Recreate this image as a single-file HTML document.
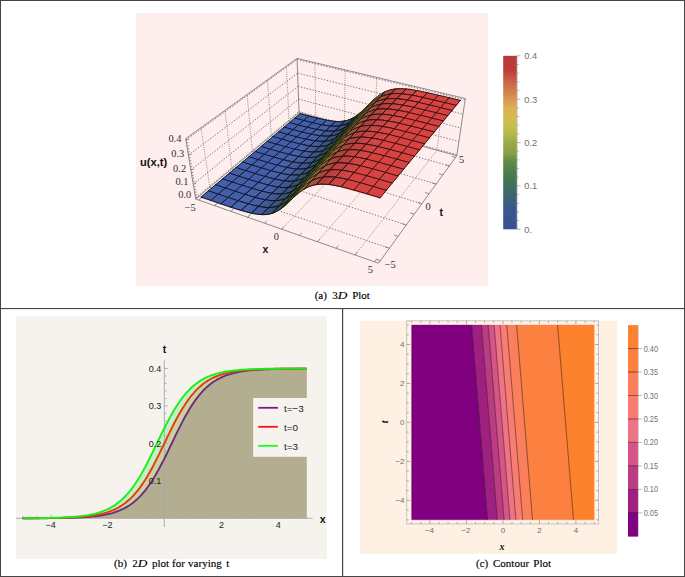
<!DOCTYPE html>
<html><head><meta charset="utf-8"><style>
html,body{margin:0;padding:0;background:#fff;width:685px;height:577px;overflow:hidden}
svg{display:block}
</style></head><body>
<svg width="685" height="577" viewBox="0 0 685 577">
<rect x="0" y="0" width="685" height="1" fill="#454545"/>
<rect x="0" y="576" width="685" height="1" fill="#454545"/>
<rect x="0" y="0" width="1" height="577" fill="#454545"/>
<rect x="684" y="0" width="1" height="577" fill="#454545"/>
<rect x="0" y="308" width="685" height="1.1" fill="#454545"/>
<rect x="342" y="308" width="1.2" height="269" fill="#454545"/>
<rect x="136" y="13" width="352" height="273" fill="#feeeee"/>
<g stroke="#686868" stroke-width="0.85" stroke-dasharray="1.4 1.6" fill="none"><line x1="195.6" y1="197.9" x2="299" y2="111.6"/><line x1="193.3" y1="184.1" x2="298.5" y2="99.1"/><line x1="190.9" y1="169.9" x2="298.1" y2="86.3"/><line x1="188.4" y1="155.2" x2="297.6" y2="73.1"/><line x1="185.9" y1="140" x2="297.1" y2="59.5"/><line x1="299" y1="111.6" x2="457" y2="154.7"/><line x1="298.5" y1="99.1" x2="458.9" y2="141.5"/><line x1="298.1" y1="86.3" x2="460.9" y2="128"/><line x1="297.6" y1="73.1" x2="463" y2="114.1"/><line x1="297.1" y1="59.5" x2="465.1" y2="99.7"/><line x1="214.7" y1="205.6" x2="315.7" y2="117.2"/><line x1="247.5" y1="217.2" x2="344.4" y2="125"/><line x1="209.8" y1="187.2" x2="389.4" y2="248.2"/><line x1="231.9" y1="168.7" x2="406.3" y2="225"/><line x1="252.4" y1="151.6" x2="421.8" y2="203.7"/><line x1="271.3" y1="135.8" x2="436.2" y2="184.1"/><line x1="289" y1="121" x2="449.4" y2="165.9"/></g>
<g stroke="#7a7a7a" stroke-width="0.8" stroke-dasharray="1 1.2" fill="none"><line x1="209.8" y1="187.2" x2="201.1" y2="127.6"/><line x1="231.9" y1="168.7" x2="225" y2="110.3"/><line x1="252.4" y1="151.6" x2="247.1" y2="94.4"/><line x1="271.3" y1="135.8" x2="267.5" y2="79.7"/><line x1="289" y1="121" x2="286.4" y2="66.1"/><line x1="315.7" y1="117.2" x2="314.8" y2="62.6"/><line x1="344.4" y1="125" x2="345.2" y2="69.8"/><line x1="374.1" y1="133.1" x2="376.9" y2="77.4"/><line x1="405" y1="141.5" x2="409.8" y2="85.2"/><line x1="437" y1="150.3" x2="444" y2="93.4"/><line x1="281.7" y1="229.2" x2="374.1" y2="133.1"/><line x1="317.5" y1="241.8" x2="405" y2="141.5"/><line x1="355.1" y1="255" x2="437" y2="150.3"/></g>
<g stroke="#7a7a7a" stroke-width="0.85" fill="none"><line x1="195.7" y1="199" x2="185.7" y2="138.7" /><line x1="185.7" y1="138.7" x2="297.1" y2="58.4" /><line x1="297.1" y1="58.4" x2="465.3" y2="98.5" /><line x1="465.3" y1="98.5" x2="456.8" y2="155.7" /><line x1="456.8" y1="155.7" x2="378.5" y2="263.2" /><line x1="378.5" y1="263.2" x2="195.7" y2="199" /><line x1="297.1" y1="58.4" x2="299" y2="112.6" /><line x1="299" y1="112.6" x2="456.8" y2="155.7" /><line x1="195.7" y1="199" x2="299" y2="112.6" /><line x1="195.6" y1="197.9" x2="198.6" y2="197"/><line x1="195.1" y1="195.2" x2="197" y2="194.6"/><line x1="194.6" y1="192.4" x2="196.5" y2="191.9"/><line x1="194.2" y1="189.7" x2="196.1" y2="189.1"/><line x1="193.7" y1="186.9" x2="195.6" y2="186.4"/><line x1="193.3" y1="184.1" x2="196.3" y2="183.2"/><line x1="192.8" y1="181.3" x2="194.7" y2="180.8"/><line x1="192.3" y1="178.5" x2="194.2" y2="177.9"/><line x1="191.8" y1="175.7" x2="193.7" y2="175.1"/><line x1="191.4" y1="172.8" x2="193.3" y2="172.2"/><line x1="190.9" y1="169.9" x2="193.9" y2="169"/><line x1="190.4" y1="167" x2="192.3" y2="166.4"/><line x1="189.9" y1="164.1" x2="191.8" y2="163.5"/><line x1="189.4" y1="161.1" x2="191.3" y2="160.6"/><line x1="188.9" y1="158.2" x2="190.8" y2="157.6"/><line x1="188.4" y1="155.2" x2="191.4" y2="154.3"/><line x1="187.9" y1="152.2" x2="189.8" y2="151.6"/><line x1="187.4" y1="149.2" x2="189.3" y2="148.6"/><line x1="186.9" y1="146.1" x2="188.8" y2="145.5"/><line x1="186.4" y1="143" x2="188.3" y2="142.5"/><line x1="185.9" y1="140" x2="188.9" y2="139.1"/><line x1="198.9" y1="200.1" x2="201.5" y2="197.8" /><line x1="380.3" y1="260.7" x2="376" y2="259.1" /><line x1="214.7" y1="205.6" x2="217.3" y2="203.4" /><line x1="389.4" y1="248.2" x2="385.1" y2="246.8" /><line x1="230.9" y1="211.3" x2="233.5" y2="209" /><line x1="398" y1="236.4" x2="393.8" y2="235" /><line x1="247.5" y1="217.2" x2="250" y2="214.8" /><line x1="406.3" y1="225" x2="402.2" y2="223.7" /><line x1="264.4" y1="223.1" x2="266.8" y2="220.7" /><line x1="414.2" y1="214.1" x2="410.2" y2="212.9" /><line x1="281.7" y1="229.2" x2="284.1" y2="226.7" /><line x1="421.8" y1="203.7" x2="417.9" y2="202.5" /><line x1="299.4" y1="235.4" x2="301.7" y2="232.9" /><line x1="429.1" y1="193.7" x2="425.2" y2="192.5" /><line x1="317.5" y1="241.8" x2="319.8" y2="239.2" /><line x1="436.2" y1="184.1" x2="432.3" y2="182.9" /><line x1="336.1" y1="248.3" x2="338.3" y2="245.6" /><line x1="442.9" y1="174.8" x2="439.1" y2="173.7" /><line x1="355.1" y1="255" x2="357.2" y2="252.3" /><line x1="449.4" y1="165.9" x2="445.6" y2="164.9" /><line x1="374.5" y1="261.8" x2="376.6" y2="259" /><line x1="455.6" y1="157.4" x2="451.9" y2="156.4" /></g>
<style>.sf path{fill:currentColor;stroke:currentColor;stroke-width:0.45} .sf path.m{fill:none;stroke-width:1.0}</style>
<g class="sf" stroke-linejoin="round" stroke-linecap="round"><path d="M201.1 197L208.4 190.8L215.6 184.7L222.6 178.8L229.5 173.1L236.1 167.5L242.6 162L249 156.7L255.2 151.5L261.3 146.4L267.2 141.4L273 136.5L278.6 131.8L284.2 127.1L289.6 122.5L294.9 118.1L300.1 113.7L326.6 120.2L321.6 124.8L316.5 129.4L311.2 134.2L305.9 139.1L300.5 144.1L294.9 149.2L289.2 154.4L283.3 159.7L277.3 165.1L271.2 170.7L264.9 176.4L258.5 182.3L251.9 188.3L245.1 194.4L238.1 200.7L231 207.2Z" color="#435eaa"/><path d="M201.1 197L300.1 113.7M210.9 200.4L308.8 116M220.9 203.8L317.6 118.2M231 207.2L326.6 120.2M201.1 197L210.9 200.4L220.9 203.8L231 207.2M208.4 190.8L218.2 194.1L228.1 197.4L238.1 200.7M215.6 184.7L225.3 188L235.1 191.2L245.1 194.4M222.6 178.8L232.2 182L242 185.2L251.9 188.3M229.5 173.1L239 176.2L248.7 179.3L258.5 182.3M236.1 167.5L245.6 170.5L255.2 173.5L264.9 176.4M242.6 162L252 165L261.6 167.9L271.2 170.7M249 156.7L258.3 159.6L267.8 162.4L277.3 165.1M255.2 151.5L264.5 154.3L273.8 157L283.3 159.7M261.3 146.4L270.4 149.1L279.7 151.8L289.2 154.4M267.2 141.4L276.3 144.1L285.5 146.7L294.9 149.2M273 136.5L282 139.1L291.2 141.7L300.5 144.1M278.6 131.8L287.6 134.3L296.7 136.8L305.9 139.1M284.2 127.1L293.1 129.6L302.1 132L311.2 134.2M289.6 122.5L298.5 125L307.4 127.3L316.5 129.4M294.9 118.1L303.7 120.4L312.6 122.7L321.6 124.8M300.1 113.7L308.8 116L317.6 118.2L326.6 120.2" class="m" color="#0f1525"/><path d="M321.6 124.8L323.4 125.1L328.4 120.5L326.6 120.2Z" color="#3f5aa2"/><path d="M326.6 120.2L321.6 124.8M321.6 124.8L323.4 125.1M328.4 120.5L326.6 120.2" class="m" color="#0e1424"/><path d="M323.4 125.1L325.2 125.4L330.2 120.8L328.4 120.5Z" color="#3f59a0"/><path d="M323.4 125.1L325.2 125.4M330.2 120.8L328.4 120.5" class="m" color="#0e1423"/><path d="M325.2 125.4L327 125.7L332 121L330.2 120.8Z" color="#3e589d"/><path d="M325.2 125.4L327 125.7M332 121L330.2 120.8" class="m" color="#0e1323"/><path d="M327 125.7L328.8 125.9L333.8 121.3L332 121Z" color="#3d569b"/><path d="M327 125.7L328.8 125.9M333.8 121.3L332 121" class="m" color="#0d1322"/><path d="M328.8 125.9L330.7 126.1L335.6 121.4L333.8 121.3Z" color="#3b5597"/><path d="M330.7 126.1L335.6 121.4M328.8 125.9L330.7 126.1M335.6 121.4L333.8 121.3" class="m" color="#0d1321"/><path d="M330.7 126.1L332.5 126.3L337.4 121.5L335.6 121.4Z" color="#3a5394"/><path d="M335.6 121.4L330.7 126.1M330.7 126.1L332.5 126.3M337.4 121.5L335.6 121.4" class="m" color="#0d1220"/><path d="M332.5 126.3L334.3 126.3L339.3 121.5L337.4 121.5Z" color="#38518f"/><path d="M332.5 126.3L334.3 126.3M339.3 121.5L337.4 121.5" class="m" color="#0c1220"/><path d="M334.3 126.3L336.2 126.3L341.1 121.4L339.3 121.5Z" color="#374f8a"/><path d="M334.3 126.3L336.2 126.3M341.1 121.4L339.3 121.5" class="m" color="#0c111e"/><path d="M316.5 129.4L318.3 129.8L323.4 125.1L321.6 124.8Z" color="#405aa3"/><path d="M321.6 124.8L316.5 129.4M316.5 129.4L318.3 129.8M323.4 125.1L321.6 124.8" class="m" color="#0e1424"/><path d="M318.3 129.8L320.1 130.1L325.2 125.4L323.4 125.1Z" color="#3f59a1"/><path d="M318.3 129.8L320.1 130.1M325.2 125.4L323.4 125.1" class="m" color="#0e1423"/><path d="M336.2 126.3L338.1 126.1L342.9 121.2L341.1 121.4Z" color="#354d84"/><path d="M336.2 126.3L338.1 126.1M342.9 121.2L341.1 121.4" class="m" color="#0c111d"/><path d="M320.1 130.1L322 130.4L327 125.7L325.2 125.4Z" color="#3e589f"/><path d="M320.1 130.1L322 130.4M327 125.7L325.2 125.4" class="m" color="#0e1323"/><path d="M338.1 126.1L339.9 125.9L344.8 120.9L342.9 121.2Z" color="#334b7e"/><path d="M339.9 125.9L344.8 120.9M338.1 126.1L339.9 125.9M344.8 120.9L342.9 121.2" class="m" color="#0b111c"/><path d="M322 130.4L323.8 130.7L328.8 125.9L327 125.7Z" color="#3d579c"/><path d="M322 130.4L323.8 130.7M328.8 125.9L327 125.7" class="m" color="#0d1322"/><path d="M339.9 125.9L341.8 125.5L346.7 120.5L344.8 120.9Z" color="#314977"/><path d="M344.8 120.9L339.9 125.9M339.9 125.9L341.8 125.5M346.7 120.5L344.8 120.9" class="m" color="#0b101a"/><path d="M323.8 130.7L325.6 130.9L330.7 126.1L328.8 125.9Z" color="#3c5599"/><path d="M325.6 130.9L330.7 126.1M323.8 130.7L325.6 130.9M330.7 126.1L328.8 125.9" class="m" color="#0d1322"/><path d="M325.6 130.9L327.5 131.1L332.5 126.3L330.7 126.1Z" color="#3b5495"/><path d="M330.7 126.1L325.6 130.9M325.6 130.9L327.5 131.1M332.5 126.3L330.7 126.1" class="m" color="#0d1221"/><path d="M341.8 125.5L343.7 125L348.5 119.9L346.7 120.5Z" color="#2f486f"/><path d="M341.8 125.5L343.7 125M348.5 119.9L346.7 120.5" class="m" color="#0a1018"/><path d="M327.5 131.1L329.3 131.2L334.3 126.3L332.5 126.3Z" color="#395291"/><path d="M327.5 131.1L329.3 131.2M334.3 126.3L332.5 126.3" class="m" color="#0d1220"/><path d="M343.7 125L345.6 124.4L350.4 119.2L348.5 119.9Z" color="#2d4664"/><path d="M343.7 125L345.6 124.4M350.4 119.2L348.5 119.9" class="m" color="#0a0f16"/><path d="M329.3 131.2L331.2 131.2L336.2 126.3L334.3 126.3Z" color="#37508c"/><path d="M329.3 131.2L331.2 131.2M336.2 126.3L334.3 126.3" class="m" color="#0c121f"/><path d="M311.2 134.2L313.1 134.6L318.3 129.8L316.5 129.4Z" color="#405aa3"/><path d="M316.5 129.4L311.2 134.2M311.2 134.2L313.1 134.6M318.3 129.8L316.5 129.4" class="m" color="#0e1424"/><path d="M313.1 134.6L314.9 135L320.1 130.1L318.3 129.8Z" color="#3f5aa2"/><path d="M313.1 134.6L314.9 135M320.1 130.1L318.3 129.8" class="m" color="#0e1424"/><path d="M331.2 131.2L333.1 131.1L338.1 126.1L336.2 126.3Z" color="#364e87"/><path d="M331.2 131.2L333.1 131.1M338.1 126.1L336.2 126.3" class="m" color="#0c111e"/><path d="M345.6 124.4L347.5 123.5L352.3 118.3L350.4 119.2Z" color="#2c4659"/><path d="M345.6 124.4L347.5 123.5M352.3 118.3L350.4 119.2" class="m" color="#0a0f14"/><path d="M314.9 135L316.8 135.3L322 130.4L320.1 130.1Z" color="#3e59a0"/><path d="M314.9 135L316.8 135.3M322 130.4L320.1 130.1" class="m" color="#0e1323"/><path d="M333.1 131.1L334.9 131L339.9 125.9L338.1 126.1Z" color="#344c81"/><path d="M334.9 131L339.9 125.9M333.1 131.1L334.9 131M339.9 125.9L338.1 126.1" class="m" color="#0b111c"/><path d="M316.8 135.3L318.6 135.6L323.8 130.7L322 130.4Z" color="#3e579d"/><path d="M316.8 135.3L318.6 135.6M323.8 130.7L322 130.4" class="m" color="#0e1323"/><path d="M347.5 123.5L349.4 122.5L354.2 117.2L352.3 118.3Z" color="#2a464e"/><path d="M349.4 122.5L354.2 117.2M347.5 123.5L349.4 122.5M354.2 117.2L352.3 118.3" class="m" color="#090f11"/><path d="M334.9 131L336.8 130.7L341.8 125.5L339.9 125.9Z" color="#324a7a"/><path d="M339.9 125.9L334.9 131M334.9 131L336.8 130.7M341.8 125.5L339.9 125.9" class="m" color="#0b101b"/><path d="M318.6 135.6L320.5 135.8L325.6 130.9L323.8 130.7Z" color="#3c569a"/><path d="M320.5 135.8L325.6 130.9M318.6 135.6L320.5 135.8M325.6 130.9L323.8 130.7" class="m" color="#0d1322"/><path d="M349.4 122.5L351.3 121.3L356.2 115.9L354.2 117.2Z" color="#294742"/><path d="M354.2 117.2L349.4 122.5M349.4 122.5L351.3 121.3M356.2 115.9L354.2 117.2" class="m" color="#09100f"/><path d="M320.5 135.8L322.3 136L327.5 131.1L325.6 130.9Z" color="#3b5597"/><path d="M325.6 130.9L320.5 135.8M320.5 135.8L322.3 136M327.5 131.1L325.6 130.9" class="m" color="#0d1321"/><path d="M336.8 130.7L338.7 130.2L343.7 125L341.8 125.5Z" color="#304873"/><path d="M336.8 130.7L338.7 130.2M343.7 125L341.8 125.5" class="m" color="#0a1019"/><path d="M322.3 136L324.2 136.2L329.3 131.2L327.5 131.1Z" color="#3a5393"/><path d="M322.3 136L324.2 136.2M329.3 131.2L327.5 131.1" class="m" color="#0d1220"/><path d="M338.7 130.2L340.6 129.6L345.6 124.4L343.7 125Z" color="#2e4769"/><path d="M338.7 130.2L340.6 129.6M345.6 124.4L343.7 125" class="m" color="#0a1017"/><path d="M351.3 121.3L353.3 119.9L358.1 114.4L356.2 115.9Z" color="#294838"/><path d="M351.3 121.3L353.3 119.9M358.1 114.4L356.2 115.9" class="m" color="#09100c"/><path d="M305.9 139.1L307.8 139.5L313.1 134.6L311.2 134.2Z" color="#405ba4"/><path d="M311.2 134.2L305.9 139.1M305.9 139.1L307.8 139.5M313.1 134.6L311.2 134.2" class="m" color="#0e1424"/><path d="M324.2 136.2L326.1 136.2L331.2 131.2L329.3 131.2Z" color="#38518f"/><path d="M324.2 136.2L326.1 136.2M331.2 131.2L329.3 131.2" class="m" color="#0c121f"/><path d="M307.8 139.5L309.6 139.9L314.9 135L313.1 134.6Z" color="#405aa2"/><path d="M307.8 139.5L309.6 139.9M314.9 135L313.1 134.6" class="m" color="#0e1424"/><path d="M326.1 136.2L328 136.2L333.1 131.1L331.2 131.2Z" color="#364f89"/><path d="M326.1 136.2L328 136.2M333.1 131.1L331.2 131.2" class="m" color="#0c111e"/><path d="M340.6 129.6L342.5 128.9L347.5 123.5L345.6 124.4Z" color="#2c465e"/><path d="M340.6 129.6L342.5 128.9M347.5 123.5L345.6 124.4" class="m" color="#0a0f15"/><path d="M353.3 119.9L355.3 118.4L360.1 112.8L358.1 114.4Z" color="#2b4930"/><path d="M353.3 119.9L355.3 118.4M360.1 112.8L358.1 114.4" class="m" color="#09100b"/><path d="M309.6 139.9L311.5 140.2L316.8 135.3L314.9 135Z" color="#3f59a1"/><path d="M309.6 139.9L311.5 140.2M316.8 135.3L314.9 135" class="m" color="#0e1423"/><path d="M328 136.2L329.8 136.1L334.9 131L333.1 131.1Z" color="#354d83"/><path d="M329.8 136.1L334.9 131M328 136.2L329.8 136.1M334.9 131L333.1 131.1" class="m" color="#0c111d"/><path d="M311.5 140.2L313.3 140.6L318.6 135.6L316.8 135.3Z" color="#3e589e"/><path d="M311.5 140.2L313.3 140.6M318.6 135.6L316.8 135.3" class="m" color="#0e1323"/><path d="M342.5 128.9L344.4 128L349.4 122.5L347.5 123.5Z" color="#2b4653"/><path d="M344.4 128L349.4 122.5M342.5 128.9L344.4 128M349.4 122.5L347.5 123.5" class="m" color="#090f12"/><path d="M329.8 136.1L331.7 135.9L336.8 130.7L334.9 131Z" color="#334b7d"/><path d="M334.9 131L329.8 136.1M329.8 136.1L331.7 135.9M336.8 130.7L334.9 131" class="m" color="#0b111c"/><path d="M313.3 140.6L315.2 140.9L320.5 135.8L318.6 135.6Z" color="#3d579c"/><path d="M315.2 140.9L320.5 135.8M313.3 140.6L315.2 140.9M320.5 135.8L318.6 135.6" class="m" color="#0d1322"/><path d="M355.3 118.4L357.2 116.7L362.1 111L360.1 112.8Z" color="#304c2b"/><path d="M355.3 118.4L357.2 116.7M362.1 111L360.1 112.8" class="m" color="#0b110a"/><path d="M344.4 128L346.4 126.8L351.3 121.3L349.4 122.5Z" color="#2a4647"/><path d="M349.4 122.5L344.4 128M344.4 128L346.4 126.8M351.3 121.3L349.4 122.5" class="m" color="#090f10"/><path d="M315.2 140.9L317.1 141.1L322.3 136L320.5 135.8Z" color="#3c5599"/><path d="M320.5 135.8L315.2 140.9M315.2 140.9L317.1 141.1M322.3 136L320.5 135.8" class="m" color="#0d1322"/><path d="M331.7 135.9L333.6 135.5L338.7 130.2L336.8 130.7Z" color="#314976"/><path d="M331.7 135.9L333.6 135.5M338.7 130.2L336.8 130.7" class="m" color="#0b101a"/><path d="M317.1 141.1L319 141.3L324.2 136.2L322.3 136Z" color="#3a5495"/><path d="M317.1 141.1L319 141.3M324.2 136.2L322.3 136" class="m" color="#0d1221"/><path d="M357.2 116.7L359.2 114.8L364.1 109.1L362.1 111Z" color="#395028"/><path d="M359.2 114.8L364.1 109.1M357.2 116.7L359.2 114.8M364.1 109.1L362.1 111" class="m" color="#0c1209"/><path d="M333.6 135.5L335.5 135L340.6 129.6L338.7 130.2Z" color="#2f476e"/><path d="M333.6 135.5L335.5 135M340.6 129.6L338.7 130.2" class="m" color="#0a1018"/><path d="M346.4 126.8L348.3 125.5L353.3 119.9L351.3 121.3Z" color="#29473c"/><path d="M346.4 126.8L348.3 125.5M353.3 119.9L351.3 121.3" class="m" color="#09100d"/><path d="M300.5 144.1L302.3 144.5L307.8 139.5L305.9 139.1Z" color="#405ba5"/><path d="M305.9 139.1L300.5 144.1M300.5 144.1L302.3 144.5M307.8 139.5L305.9 139.1" class="m" color="#0e1424"/><path d="M319 141.3L320.8 141.4L326.1 136.2L324.2 136.2Z" color="#395291"/><path d="M319 141.3L320.8 141.4M326.1 136.2L324.2 136.2" class="m" color="#0d1220"/><path d="M302.3 144.5L304.2 144.9L309.6 139.9L307.8 139.5Z" color="#405aa3"/><path d="M302.3 144.5L304.2 144.9M309.6 139.9L307.8 139.5" class="m" color="#0e1424"/><path d="M335.5 135L337.5 134.3L342.5 128.9L340.6 129.6Z" color="#2d4663"/><path d="M335.5 135L337.5 134.3M342.5 128.9L340.6 129.6" class="m" color="#0a0f16"/><path d="M320.8 141.4L322.7 141.4L328 136.2L326.1 136.2Z" color="#37508c"/><path d="M320.8 141.4L322.7 141.4M328 136.2L326.1 136.2" class="m" color="#0c121f"/><path d="M359.2 114.8L361.3 112.8L366.1 107.1L364.1 109.1Z" color="#4b5827"/><path d="M364.1 109.1L359.2 114.8M359.2 114.8L361.3 112.8M366.1 107.1L364.1 109.1" class="m" color="#111309"/><path d="M348.3 125.5L350.3 124.1L355.3 118.4L353.3 119.9Z" color="#2a4933"/><path d="M348.3 125.5L350.3 124.1M355.3 118.4L353.3 119.9" class="m" color="#09100b"/><path d="M304.2 144.9L306.1 145.3L311.5 140.2L309.6 139.9Z" color="#3f59a1"/><path d="M304.2 144.9L306.1 145.3M311.5 140.2L309.6 139.9" class="m" color="#0e1424"/><path d="M322.7 141.4L324.6 141.3L329.8 136.1L328 136.2Z" color="#354e86"/><path d="M324.6 141.3L329.8 136.1M322.7 141.4L324.6 141.3M329.8 136.1L328 136.2" class="m" color="#0c111e"/><path d="M337.5 134.3L339.4 133.5L344.4 128L342.5 128.9Z" color="#2c4658"/><path d="M339.4 133.5L344.4 128M337.5 134.3L339.4 133.5M344.4 128L342.5 128.9" class="m" color="#0a0f13"/><path d="M306.1 145.3L307.9 145.6L313.3 140.6L311.5 140.2Z" color="#3e589f"/><path d="M306.1 145.3L307.9 145.6M313.3 140.6L311.5 140.2" class="m" color="#0e1323"/><path d="M324.6 141.3L326.5 141.2L331.7 135.9L329.8 136.1Z" color="#344c80"/><path d="M329.8 136.1L324.6 141.3M324.6 141.3L326.5 141.2M331.7 135.9L329.8 136.1" class="m" color="#0b111c"/><path d="M307.9 145.6L309.8 146L315.2 140.9L313.3 140.6Z" color="#3d579d"/><path d="M309.8 146L315.2 140.9M307.9 145.6L309.8 146M315.2 140.9L313.3 140.6" class="m" color="#0e1323"/><path d="M361.3 112.8L363.3 110.8L368.2 105L366.1 107.1Z" color="#545d28"/><path d="M361.3 112.8L363.3 110.8M368.2 105L366.1 107.1" class="m" color="#121409"/><path d="M350.3 124.1L352.3 122.4L357.2 116.7L355.3 118.4Z" color="#2d4a2d"/><path d="M350.3 124.1L352.3 122.4M357.2 116.7L355.3 118.4" class="m" color="#0a100a"/><path d="M339.4 133.5L341.3 132.5L346.4 126.8L344.4 128Z" color="#2a464d"/><path d="M344.4 128L339.4 133.5M339.4 133.5L341.3 132.5M346.4 126.8L344.4 128" class="m" color="#090f11"/><path d="M309.8 146L311.7 146.2L317.1 141.1L315.2 140.9Z" color="#3c569a"/><path d="M315.2 140.9L309.8 146M309.8 146L311.7 146.2M317.1 141.1L315.2 140.9" class="m" color="#0d1322"/><path d="M326.5 141.2L328.4 140.9L333.6 135.5L331.7 135.9Z" color="#324a79"/><path d="M326.5 141.2L328.4 140.9M333.6 135.5L331.7 135.9" class="m" color="#0b101b"/><path d="M311.7 146.2L313.6 146.4L319 141.3L317.1 141.1Z" color="#3b5497"/><path d="M311.7 146.2L313.6 146.4M319 141.3L317.1 141.1" class="m" color="#0d1321"/><path d="M352.3 122.4L354.3 120.6L359.2 114.8L357.2 116.7Z" color="#354e2a"/><path d="M354.3 120.6L359.2 114.8M352.3 122.4L354.3 120.6M359.2 114.8L357.2 116.7" class="m" color="#0c1109"/><path d="M363.3 110.8L365.4 108.7L370.2 103L368.2 105Z" color="#5f6429"/><path d="M363.3 110.8L365.4 108.7M370.2 103L368.2 105" class="m" color="#151609"/><path d="M328.4 140.9L330.4 140.4L335.5 135L333.6 135.5Z" color="#2f4873"/><path d="M328.4 140.9L330.4 140.4M335.5 135L333.6 135.5" class="m" color="#0a1019"/><path d="M341.3 132.5L343.3 131.2L348.3 125.5L346.4 126.8Z" color="#294741"/><path d="M341.3 132.5L343.3 131.2M348.3 125.5L346.4 126.8" class="m" color="#09100e"/><path d="M294.9 149.2L296.7 149.6L302.3 144.5L300.5 144.1Z" color="#415ba5"/><path d="M300.5 144.1L294.9 149.2M294.9 149.2L296.7 149.6M302.3 144.5L300.5 144.1" class="m" color="#0e1424"/><path d="M313.6 146.4L315.5 146.6L320.8 141.4L319 141.3Z" color="#3a5393"/><path d="M313.6 146.4L315.5 146.6M320.8 141.4L319 141.3" class="m" color="#0d1220"/><path d="M296.7 149.6L298.6 150L304.2 144.9L302.3 144.5Z" color="#405ba4"/><path d="M296.7 149.6L298.6 150M304.2 144.9L302.3 144.5" class="m" color="#0e1424"/><path d="M330.4 140.4L332.3 139.8L337.5 134.3L335.5 135Z" color="#2e4768"/><path d="M330.4 140.4L332.3 139.8M337.5 134.3L335.5 135" class="m" color="#0a1017"/><path d="M315.5 146.6L317.4 146.7L322.7 141.4L320.8 141.4Z" color="#38518e"/><path d="M315.5 146.6L317.4 146.7M322.7 141.4L320.8 141.4" class="m" color="#0c121f"/><path d="M354.3 120.6L356.3 118.7L361.3 112.8L359.2 114.8Z" color="#425428"/><path d="M359.2 114.8L354.3 120.6M354.3 120.6L356.3 118.7M361.3 112.8L359.2 114.8" class="m" color="#0f1209"/><path d="M365.4 108.7L367.5 106.7L372.3 101L370.2 103Z" color="#6c6a2c"/><path d="M365.4 108.7L367.5 106.7M372.3 101L370.2 103" class="m" color="#18170a"/><path d="M343.3 131.2L345.3 129.8L350.3 124.1L348.3 125.5Z" color="#294837"/><path d="M343.3 131.2L345.3 129.8M350.3 124.1L348.3 125.5" class="m" color="#09100c"/><path d="M298.6 150L300.5 150.5L306.1 145.3L304.2 144.9Z" color="#3f5aa2"/><path d="M298.6 150L300.5 150.5M306.1 145.3L304.2 144.9" class="m" color="#0e1424"/><path d="M317.4 146.7L319.3 146.7L324.6 141.3L322.7 141.4Z" color="#364f89"/><path d="M319.3 146.7L324.6 141.3M317.4 146.7L319.3 146.7M324.6 141.3L322.7 141.4" class="m" color="#0c111e"/><path d="M332.3 139.8L334.2 139.1L339.4 133.5L337.5 134.3Z" color="#2c465d"/><path d="M334.2 139.1L339.4 133.5M332.3 139.8L334.2 139.1M339.4 133.5L337.5 134.3" class="m" color="#0a0f14"/><path d="M300.5 150.5L302.4 150.8L307.9 145.6L306.1 145.3Z" color="#3f59a0"/><path d="M300.5 150.5L302.4 150.8M307.9 145.6L306.1 145.3" class="m" color="#0e1423"/><path d="M319.3 146.7L321.2 146.5L326.5 141.2L324.6 141.3Z" color="#344d83"/><path d="M324.6 141.3L319.3 146.7M319.3 146.7L321.2 146.5M326.5 141.2L324.6 141.3" class="m" color="#0c111d"/><path d="M345.3 129.8L347.3 128.2L352.3 122.4L350.3 124.1Z" color="#2b4930"/><path d="M345.3 129.8L347.3 128.2M352.3 122.4L350.3 124.1" class="m" color="#0a100a"/><path d="M367.5 106.7L369.5 104.8L374.4 99.1L372.3 101Z" color="#786c2e"/><path d="M369.5 104.8L374.4 99.1M367.5 106.7L369.5 104.8M374.4 99.1L372.3 101" class="m" color="#1a180a"/><path d="M302.4 150.8L304.3 151.2L309.8 146L307.9 145.6Z" color="#3e589e"/><path d="M304.3 151.2L309.8 146M302.4 150.8L304.3 151.2M309.8 146L307.9 145.6" class="m" color="#0e1323"/><path d="M356.3 118.7L358.4 116.7L363.3 110.8L361.3 112.8Z" color="#515b27"/><path d="M356.3 118.7L358.4 116.7M363.3 110.8L361.3 112.8" class="m" color="#121409"/><path d="M334.2 139.1L336.2 138.1L341.3 132.5L339.4 133.5Z" color="#2b4652"/><path d="M339.4 133.5L334.2 139.1M334.2 139.1L336.2 138.1M341.3 132.5L339.4 133.5" class="m" color="#090f12"/><path d="M304.3 151.2L306.2 151.5L311.7 146.2L309.8 146Z" color="#3d579b"/><path d="M309.8 146L304.3 151.2M304.3 151.2L306.2 151.5M311.7 146.2L309.8 146" class="m" color="#0d1322"/><path d="M321.2 146.5L323.1 146.3L328.4 140.9L326.5 141.2Z" color="#324b7c"/><path d="M321.2 146.5L323.1 146.3M328.4 140.9L326.5 141.2" class="m" color="#0b101b"/><path d="M306.2 151.5L308.1 151.7L313.6 146.4L311.7 146.2Z" color="#3c5598"/><path d="M306.2 151.5L308.1 151.7M313.6 146.4L311.7 146.2" class="m" color="#0d1321"/><path d="M369.5 104.8L371.6 102.9L376.5 97.3L374.4 99.1Z" color="#816c31"/><path d="M374.4 99.1L369.5 104.8M369.5 104.8L371.6 102.9M376.5 97.3L374.4 99.1" class="m" color="#1c180b"/><path d="M347.3 128.2L349.3 126.5L354.3 120.6L352.3 122.4Z" color="#314c2b"/><path d="M349.3 126.5L354.3 120.6M347.3 128.2L349.3 126.5M354.3 120.6L352.3 122.4" class="m" color="#0b1109"/><path d="M358.4 116.7L360.4 114.6L365.4 108.7L363.3 110.8Z" color="#596028"/><path d="M358.4 116.7L360.4 114.6M365.4 108.7L363.3 110.8" class="m" color="#141509"/><path d="M336.2 138.1L338.1 137L343.3 131.2L341.3 132.5Z" color="#2a4646"/><path d="M336.2 138.1L338.1 137M343.3 131.2L341.3 132.5" class="m" color="#090f0f"/><path d="M323.1 146.3L325.1 146L330.4 140.4L328.4 140.9Z" color="#304976"/><path d="M323.1 146.3L325.1 146M330.4 140.4L328.4 140.9" class="m" color="#0b101a"/><path d="M289.2 154.4L291 154.8L296.7 149.6L294.9 149.2Z" color="#415ba6"/><path d="M294.9 149.2L289.2 154.4M289.2 154.4L291 154.8M296.7 149.6L294.9 149.2" class="m" color="#0e1424"/><path d="M308.1 151.7L310 151.9L315.5 146.6L313.6 146.4Z" color="#3a5395"/><path d="M308.1 151.7L310 151.9M315.5 146.6L313.6 146.4" class="m" color="#0d1221"/><path d="M291 154.8L292.9 155.3L298.6 150L296.7 149.6Z" color="#405ba5"/><path d="M291 154.8L292.9 155.3M298.6 150L296.7 149.6" class="m" color="#0e1424"/><path d="M325.1 146L327 145.4L332.3 139.8L330.4 140.4Z" color="#2f476d"/><path d="M325.1 146L327 145.4M332.3 139.8L330.4 140.4" class="m" color="#0a1018"/><path d="M371.6 102.9L373.7 101.2L378.6 95.7L376.5 97.3Z" color="#876934"/><path d="M371.6 102.9L373.7 101.2M378.6 95.7L376.5 97.3" class="m" color="#1e170b"/><path d="M310 151.9L311.9 152.1L317.4 146.7L315.5 146.6Z" color="#395290"/><path d="M310 151.9L311.9 152.1M317.4 146.7L315.5 146.6" class="m" color="#0c1220"/><path d="M349.3 126.5L351.3 124.6L356.3 118.7L354.3 120.6Z" color="#3a5028"/><path d="M354.3 120.6L349.3 126.5M349.3 126.5L351.3 124.6M356.3 118.7L354.3 120.6" class="m" color="#0d1209"/><path d="M338.1 137L340.1 135.7L345.3 129.8L343.3 131.2Z" color="#29473b"/><path d="M338.1 137L340.1 135.7M345.3 129.8L343.3 131.2" class="m" color="#09100d"/><path d="M360.4 114.6L362.5 112.6L367.5 106.7L365.4 108.7Z" color="#67682a"/><path d="M360.4 114.6L362.5 112.6M367.5 106.7L365.4 108.7" class="m" color="#171709"/><path d="M292.9 155.3L294.8 155.7L300.5 150.5L298.6 150Z" color="#405aa3"/><path d="M292.9 155.3L294.8 155.7M300.5 150.5L298.6 150" class="m" color="#0e1424"/><path d="M311.9 152.1L313.9 152.1L319.3 146.7L317.4 146.7Z" color="#37508b"/><path d="M313.9 152.1L319.3 146.7M311.9 152.1L313.9 152.1M319.3 146.7L317.4 146.7" class="m" color="#0c121f"/><path d="M327 145.4L328.9 144.8L334.2 139.1L332.3 139.8Z" color="#2d4662"/><path d="M328.9 144.8L334.2 139.1M327 145.4L328.9 144.8M334.2 139.1L332.3 139.8" class="m" color="#0a0f16"/><path d="M294.8 155.7L296.8 156.1L302.4 150.8L300.5 150.5Z" color="#3f59a1"/><path d="M294.8 155.7L296.8 156.1M302.4 150.8L300.5 150.5" class="m" color="#0e1423"/><path d="M373.7 101.2L375.9 99.7L380.7 94.3L378.6 95.7Z" color="#8a6234"/><path d="M373.7 101.2L375.9 99.7M380.7 94.3L378.6 95.7" class="m" color="#1e150b"/><path d="M313.9 152.1L315.8 152L321.2 146.5L319.3 146.7Z" color="#354e86"/><path d="M319.3 146.7L313.9 152.1M313.9 152.1L315.8 152M321.2 146.5L319.3 146.7" class="m" color="#0c111d"/><path d="M340.1 135.7L342.1 134.2L347.3 128.2L345.3 129.8Z" color="#2a4932"/><path d="M340.1 135.7L342.1 134.2M347.3 128.2L345.3 129.8" class="m" color="#09100b"/><path d="M296.8 156.1L298.7 156.5L304.3 151.2L302.4 150.8Z" color="#3e589f"/><path d="M298.7 156.5L304.3 151.2M296.8 156.1L298.7 156.5M304.3 151.2L302.4 150.8" class="m" color="#0e1323"/><path d="M351.3 124.6L353.3 122.6L358.4 116.7L356.3 118.7Z" color="#4d5927"/><path d="M351.3 124.6L353.3 122.6M358.4 116.7L356.3 118.7" class="m" color="#111409"/><path d="M362.5 112.6L364.6 110.6L369.5 104.8L367.5 106.7Z" color="#736c2e"/><path d="M364.6 110.6L369.5 104.8M362.5 112.6L364.6 110.6M369.5 104.8L367.5 106.7" class="m" color="#19180a"/><path d="M328.9 144.8L330.9 143.9L336.2 138.1L334.2 139.1Z" color="#2b4657"/><path d="M334.2 139.1L328.9 144.8M328.9 144.8L330.9 143.9M336.2 138.1L334.2 139.1" class="m" color="#0a0f13"/><path d="M298.7 156.5L300.6 156.8L306.2 151.5L304.3 151.2Z" color="#3d579d"/><path d="M304.3 151.2L298.7 156.5M298.7 156.5L300.6 156.8M306.2 151.5L304.3 151.2" class="m" color="#0e1322"/><path d="M375.9 99.7L378 98.3L382.8 93L380.7 94.3Z" color="#8e5a34"/><path d="M375.9 99.7L378 98.3M382.8 93L380.7 94.3" class="m" color="#1f140b"/><path d="M315.8 152L317.7 151.9L323.1 146.3L321.2 146.5Z" color="#334c7f"/><path d="M315.8 152L317.7 151.9M323.1 146.3L321.2 146.5" class="m" color="#0b111c"/><path d="M300.6 156.8L302.5 157.1L308.1 151.7L306.2 151.5Z" color="#3c569a"/><path d="M300.6 156.8L302.5 157.1M308.1 151.7L306.2 151.5" class="m" color="#0d1322"/><path d="M342.1 134.2L344.1 132.5L349.3 126.5L347.3 128.2Z" color="#2d4b2c"/><path d="M344.1 132.5L349.3 126.5M342.1 134.2L344.1 132.5M349.3 126.5L347.3 128.2" class="m" color="#0a100a"/><path d="M364.6 110.6L366.7 108.7L371.6 102.9L369.5 104.8Z" color="#7e6d2f"/><path d="M369.5 104.8L364.6 110.6M364.6 110.6L366.7 108.7M371.6 102.9L369.5 104.8" class="m" color="#1c180a"/><path d="M353.3 122.6L355.4 120.6L360.4 114.6L358.4 116.7Z" color="#555d28"/><path d="M353.3 122.6L355.4 120.6M360.4 114.6L358.4 116.7" class="m" color="#131509"/><path d="M330.9 143.9L332.9 142.9L338.1 137L336.2 138.1Z" color="#2a464b"/><path d="M330.9 143.9L332.9 142.9M338.1 137L336.2 138.1" class="m" color="#090f11"/><path d="M317.7 151.9L319.6 151.6L325.1 146L323.1 146.3Z" color="#314a79"/><path d="M317.7 151.9L319.6 151.6M325.1 146L323.1 146.3" class="m" color="#0b101b"/><path d="M378 98.3L380.1 97.2L384.9 91.9L382.8 93Z" color="#925434"/><path d="M380.1 97.2L384.9 91.9M378 98.3L380.1 97.2M384.9 91.9L382.8 93" class="m" color="#20130b"/><path d="M283.3 159.7L285.2 160.2L291 154.8L289.2 154.4Z" color="#415ca6"/><path d="M289.2 154.4L283.3 159.7M283.3 159.7L285.2 160.2M291 154.8L289.2 154.4" class="m" color="#0e1425"/><path d="M302.5 157.1L304.4 157.4L310 151.9L308.1 151.7Z" color="#3b5496"/><path d="M302.5 157.1L304.4 157.4M310 151.9L308.1 151.7" class="m" color="#0d1321"/><path d="M285.2 160.2L287.1 160.7L292.9 155.3L291 154.8Z" color="#415ba5"/><path d="M285.2 160.2L287.1 160.7M292.9 155.3L291 154.8" class="m" color="#0e1424"/><path d="M319.6 151.6L321.6 151.1L327 145.4L325.1 146Z" color="#2f4872"/><path d="M319.6 151.6L321.6 151.1M327 145.4L325.1 146" class="m" color="#0a1019"/><path d="M304.4 157.4L306.4 157.5L311.9 152.1L310 151.9Z" color="#395292"/><path d="M304.4 157.4L306.4 157.5M311.9 152.1L310 151.9" class="m" color="#0d1220"/><path d="M380.1 97.2L382.2 96.2L387 91L384.9 91.9Z" color="#954e35"/><path d="M384.9 91.9L380.1 97.2M380.1 97.2L382.2 96.2M387 91L384.9 91.9" class="m" color="#21110c"/><path d="M344.1 132.5L346.1 130.7L351.3 124.6L349.3 126.5Z" color="#364e29"/><path d="M349.3 126.5L344.1 132.5M344.1 132.5L346.1 130.7M351.3 124.6L349.3 126.5" class="m" color="#0c1109"/><path d="M332.9 142.9L334.8 141.6L340.1 135.7L338.1 137Z" color="#294740"/><path d="M332.9 142.9L334.8 141.6M340.1 135.7L338.1 137" class="m" color="#09100e"/><path d="M366.7 108.7L368.8 106.9L373.7 101.2L371.6 102.9Z" color="#856b33"/><path d="M366.7 108.7L368.8 106.9M373.7 101.2L371.6 102.9" class="m" color="#1d180b"/><path d="M355.4 120.6L357.5 118.5L362.5 112.6L360.4 114.6Z" color="#606529"/><path d="M355.4 120.6L357.5 118.5M362.5 112.6L360.4 114.6" class="m" color="#151609"/><path d="M287.1 160.7L289 161.1L294.8 155.7L292.9 155.3Z" color="#405aa4"/><path d="M287.1 160.7L289 161.1M294.8 155.7L292.9 155.3" class="m" color="#0e1424"/><path d="M306.4 157.5L308.3 157.6L313.9 152.1L311.9 152.1Z" color="#38508e"/><path d="M308.3 157.6L313.9 152.1M306.4 157.5L308.3 157.6M313.9 152.1L311.9 152.1" class="m" color="#0c121f"/><path d="M321.6 151.1L323.5 150.5L328.9 144.8L327 145.4Z" color="#2e4767"/><path d="M323.5 150.5L328.9 144.8M321.6 151.1L323.5 150.5M328.9 144.8L327 145.4" class="m" color="#0a1017"/><path d="M289 161.1L291 161.6L296.8 156.1L294.8 155.7Z" color="#3f5aa2"/><path d="M289 161.1L291 161.6M296.8 156.1L294.8 155.7" class="m" color="#0e1424"/><path d="M382.2 96.2L384.4 95.4L389.1 90.3L387 91Z" color="#9a4835"/><path d="M382.2 96.2L384.4 95.4M389.1 90.3L387 91" class="m" color="#22100c"/><path d="M368.8 106.9L371 105.3L375.9 99.7L373.7 101.2Z" color="#896534"/><path d="M368.8 106.9L371 105.3M375.9 99.7L373.7 101.2" class="m" color="#1e160b"/><path d="M334.8 141.6L336.8 140.2L342.1 134.2L340.1 135.7Z" color="#294835"/><path d="M334.8 141.6L336.8 140.2M342.1 134.2L340.1 135.7" class="m" color="#09100c"/><path d="M308.3 157.6L310.2 157.6L315.8 152L313.9 152.1Z" color="#364f88"/><path d="M313.9 152.1L308.3 157.6M308.3 157.6L310.2 157.6M315.8 152L313.9 152.1" class="m" color="#0c111e"/><path d="M346.1 130.7L348.2 128.7L353.3 122.6L351.3 124.6Z" color="#445527"/><path d="M346.1 130.7L348.2 128.7M353.3 122.6L351.3 124.6" class="m" color="#0f1309"/><path d="M291 161.6L292.9 162L298.7 156.5L296.8 156.1Z" color="#3f59a0"/><path d="M292.9 162L298.7 156.5M291 161.6L292.9 162M298.7 156.5L296.8 156.1" class="m" color="#0e1423"/><path d="M357.5 118.5L359.6 116.5L364.6 110.6L362.5 112.6Z" color="#6d6a2c"/><path d="M359.6 116.5L364.6 110.6M357.5 118.5L359.6 116.5M364.6 110.6L362.5 112.6" class="m" color="#18170a"/><path d="M384.4 95.4L386.5 94.8L391.2 89.7L389.1 90.3Z" color="#9e4135"/><path d="M384.4 95.4L386.5 94.8M391.2 89.7L389.1 90.3" class="m" color="#230e0c"/><path d="M323.5 150.5L325.5 149.8L330.9 143.9L328.9 144.8Z" color="#2c465c"/><path d="M328.9 144.8L323.5 150.5M323.5 150.5L325.5 149.8M330.9 143.9L328.9 144.8" class="m" color="#0a0f14"/><path d="M292.9 162L294.8 162.3L300.6 156.8L298.7 156.5Z" color="#3e589e"/><path d="M298.7 156.5L292.9 162M292.9 162L294.8 162.3M300.6 156.8L298.7 156.5" class="m" color="#0e1323"/><path d="M310.2 157.6L312.2 157.5L317.7 151.9L315.8 152Z" color="#344d82"/><path d="M310.2 157.6L312.2 157.5M317.7 151.9L315.8 152" class="m" color="#0b111d"/><path d="M371 105.3L373.1 103.9L378 98.3L375.9 99.7Z" color="#8c5e34"/><path d="M371 105.3L373.1 103.9M378 98.3L375.9 99.7" class="m" color="#1f150b"/><path d="M386.5 94.8L388.6 94.3L393.3 89.3L391.2 89.7Z" color="#a33b35"/><path d="M386.5 94.8L388.6 94.3M393.3 89.3L391.2 89.7" class="m" color="#240d0c"/><path d="M336.8 140.2L338.8 138.6L344.1 132.5L342.1 134.2Z" color="#2b4a2f"/><path d="M338.8 138.6L344.1 132.5M336.8 140.2L338.8 138.6M344.1 132.5L342.1 134.2" class="m" color="#0a100a"/><path d="M294.8 162.3L296.8 162.6L302.5 157.1L300.6 156.8Z" color="#3d569b"/><path d="M294.8 162.3L296.8 162.6M302.5 157.1L300.6 156.8" class="m" color="#0d1322"/><path d="M348.2 128.7L350.2 126.7L355.4 120.6L353.3 122.6Z" color="#515b27"/><path d="M348.2 128.7L350.2 126.7M355.4 120.6L353.3 122.6" class="m" color="#121409"/><path d="M325.5 149.8L327.5 148.8L332.9 142.9L330.9 143.9Z" color="#2b4651"/><path d="M325.5 149.8L327.5 148.8M332.9 142.9L330.9 143.9" class="m" color="#090f12"/><path d="M312.2 157.5L314.1 157.3L319.6 151.6L317.7 151.9Z" color="#324b7c"/><path d="M312.2 157.5L314.1 157.3M319.6 151.6L317.7 151.9" class="m" color="#0b101b"/><path d="M359.6 116.5L361.7 114.6L366.7 108.7L364.6 110.6Z" color="#796d2e"/><path d="M364.6 110.6L359.6 116.5M359.6 116.5L361.7 114.6M366.7 108.7L364.6 110.6" class="m" color="#1b180a"/><path d="M277.3 165.1L279.2 165.7L285.2 160.2L283.3 159.7Z" color="#415ca7"/><path d="M283.3 159.7L277.3 165.1M277.3 165.1L279.2 165.7M285.2 160.2L283.3 159.7" class="m" color="#0e1425"/><path d="M388.6 94.3L390.7 93.9L395.4 89L393.3 89.3Z" color="#a93736"/><path d="M390.7 93.9L395.4 89M388.6 94.3L390.7 93.9M395.4 89L393.3 89.3" class="m" color="#250c0c"/><path d="M296.8 162.6L298.7 162.9L304.4 157.4L302.5 157.1Z" color="#3c5598"/><path d="M296.8 162.6L298.7 162.9M304.4 157.4L302.5 157.1" class="m" color="#0d1321"/><path d="M373.1 103.9L375.2 102.6L380.1 97.2L378 98.3Z" color="#915734"/><path d="M375.2 102.6L380.1 97.2M373.1 103.9L375.2 102.6M380.1 97.2L378 98.3" class="m" color="#20130b"/><path d="M279.2 165.7L281.2 166.2L287.1 160.7L285.2 160.2Z" color="#415ba6"/><path d="M279.2 165.7L281.2 166.2M287.1 160.7L285.2 160.2" class="m" color="#0e1424"/><path d="M390.7 93.9L392.9 93.7L397.6 88.8L395.4 89Z" color="#af3937"/><path d="M395.4 89L390.7 93.9M390.7 93.9L392.9 93.7M397.6 88.8L395.4 89" class="m" color="#260d0c"/><path d="M314.1 157.3L316.1 156.9L321.6 151.1L319.6 151.6Z" color="#304975"/><path d="M314.1 157.3L316.1 156.9M321.6 151.1L319.6 151.6" class="m" color="#0b101a"/><path d="M298.7 162.9L300.6 163.1L306.4 157.5L304.4 157.4Z" color="#3a5394"/><path d="M298.7 162.9L300.6 163.1M306.4 157.5L304.4 157.4" class="m" color="#0d1221"/><path d="M338.8 138.6L340.9 136.9L346.1 130.7L344.1 132.5Z" color="#324d2b"/><path d="M344.1 132.5L338.8 138.6M338.8 138.6L340.9 136.9M346.1 130.7L344.1 132.5" class="m" color="#0b1109"/><path d="M327.5 148.8L329.5 147.7L334.8 141.6L332.9 142.9Z" color="#294645"/><path d="M327.5 148.8L329.5 147.7M334.8 141.6L332.9 142.9" class="m" color="#090f0f"/><path d="M281.2 166.2L283.1 166.6L289 161.1L287.1 160.7Z" color="#405ba4"/><path d="M281.2 166.2L283.1 166.6M289 161.1L287.1 160.7" class="m" color="#0e1424"/><path d="M350.2 126.7L352.3 124.7L357.5 118.5L355.4 120.6Z" color="#5a6129"/><path d="M350.2 126.7L352.3 124.7M357.5 118.5L355.4 120.6" class="m" color="#141509"/><path d="M361.7 114.6L363.8 112.7L368.8 106.9L366.7 108.7Z" color="#826c31"/><path d="M361.7 114.6L363.8 112.7M368.8 106.9L366.7 108.7" class="m" color="#1c180b"/><path d="M392.9 93.7L395 93.6L399.7 88.8L397.6 88.8Z" color="#b53a39"/><path d="M392.9 93.7L395 93.6M399.7 88.8L397.6 88.8" class="m" color="#280d0c"/><path d="M375.2 102.6L377.4 101.5L382.2 96.2L380.1 97.2Z" color="#945134"/><path d="M380.1 97.2L375.2 102.6M375.2 102.6L377.4 101.5M382.2 96.2L380.1 97.2" class="m" color="#21120c"/><path d="M300.6 163.1L302.6 163.3L308.3 157.6L306.4 157.5Z" color="#395190"/><path d="M302.6 163.3L308.3 157.6M300.6 163.1L302.6 163.3M308.3 157.6L306.4 157.5" class="m" color="#0c1220"/><path d="M316.1 156.9L318 156.4L323.5 150.5L321.6 151.1Z" color="#2e476c"/><path d="M318 156.4L323.5 150.5M316.1 156.9L318 156.4M323.5 150.5L321.6 151.1" class="m" color="#0a1018"/><path d="M283.1 166.6L285 167.1L291 161.6L289 161.1Z" color="#405aa3"/><path d="M283.1 166.6L285 167.1M291 161.6L289 161.1" class="m" color="#0e1424"/><path d="M395 93.6L397.1 93.6L401.8 88.8L399.7 88.8Z" color="#ba3c3a"/><path d="M395 93.6L397.1 93.6M401.8 88.8L399.7 88.8" class="m" color="#290d0d"/><path d="M329.5 147.7L331.5 146.4L336.8 140.2L334.8 141.6Z" color="#29483a"/><path d="M329.5 147.7L331.5 146.4M336.8 140.2L334.8 141.6" class="m" color="#09100d"/><path d="M302.6 163.3L304.5 163.3L310.2 157.6L308.3 157.6Z" color="#374f8b"/><path d="M308.3 157.6L302.6 163.3M302.6 163.3L304.5 163.3M310.2 157.6L308.3 157.6" class="m" color="#0c111f"/><path d="M377.4 101.5L379.5 100.7L384.4 95.4L382.2 96.2Z" color="#984b35"/><path d="M377.4 101.5L379.5 100.7M384.4 95.4L382.2 96.2" class="m" color="#21110c"/><path d="M340.9 136.9L342.9 135L348.2 128.7L346.1 130.7Z" color="#3c5128"/><path d="M340.9 136.9L342.9 135M348.2 128.7L346.1 130.7" class="m" color="#0d1209"/><path d="M285 167.1L287 167.5L292.9 162L291 161.6Z" color="#3f59a1"/><path d="M287 167.5L292.9 162M285 167.1L287 167.5M292.9 162L291 161.6" class="m" color="#0e1423"/><path d="M397.1 93.6L399.3 93.7L403.9 88.9L401.8 88.8Z" color="#bf3d3b"/><path d="M397.1 93.6L399.3 93.7M403.9 88.9L401.8 88.8" class="m" color="#2a0d0d"/><path d="M363.8 112.7L365.9 111L371 105.3L368.8 106.9Z" color="#876934"/><path d="M363.8 112.7L365.9 111M371 105.3L368.8 106.9" class="m" color="#1e170b"/><path d="M352.3 124.7L354.4 122.6L359.6 116.5L357.5 118.5Z" color="#68682b"/><path d="M354.4 122.6L359.6 116.5M352.3 124.7L354.4 122.6M359.6 116.5L357.5 118.5" class="m" color="#171709"/><path d="M318 156.4L320 155.7L325.5 149.8L323.5 150.5Z" color="#2d4661"/><path d="M323.5 150.5L318 156.4M318 156.4L320 155.7M325.5 149.8L323.5 150.5" class="m" color="#0a0f15"/><path d="M287 167.5L288.9 167.9L294.8 162.3L292.9 162Z" color="#3e589f"/><path d="M292.9 162L287 167.5M287 167.5L288.9 167.9M294.8 162.3L292.9 162" class="m" color="#0e1323"/><path d="M399.3 93.7L401.4 93.8L406 89L403.9 88.9Z" color="#c33e3c"/><path d="M401.4 93.8L406 89M399.3 93.7L401.4 93.8M406 89L403.9 88.9" class="m" color="#2b0e0d"/><path d="M304.5 163.3L306.5 163.3L312.2 157.5L310.2 157.6Z" color="#354e85"/><path d="M304.5 163.3L306.5 163.3M312.2 157.5L310.2 157.6" class="m" color="#0c111d"/><path d="M379.5 100.7L381.6 99.9L386.5 94.8L384.4 95.4Z" color="#9c4435"/><path d="M379.5 100.7L381.6 99.9M386.5 94.8L384.4 95.4" class="m" color="#220f0c"/><path d="M401.4 93.8L403.6 94L408.1 89.3L406 89Z" color="#c73f3d"/><path d="M406 89L401.4 93.8M401.4 93.8L403.6 94M408.1 89.3L406 89" class="m" color="#2c0e0d"/><path d="M331.5 146.4L333.5 144.8L338.8 138.6L336.8 140.2Z" color="#2a4932"/><path d="M333.5 144.8L338.8 138.6M331.5 146.4L333.5 144.8M338.8 138.6L336.8 140.2" class="m" color="#09100b"/><path d="M288.9 167.9L290.9 168.3L296.8 162.6L294.8 162.3Z" color="#3d579c"/><path d="M288.9 167.9L290.9 168.3M296.8 162.6L294.8 162.3" class="m" color="#0d1322"/><path d="M365.9 111L368.1 109.5L373.1 103.9L371 105.3Z" color="#8b6134"/><path d="M365.9 111L368.1 109.5M373.1 103.9L371 105.3" class="m" color="#1e150b"/><path d="M320 155.7L322 154.9L327.5 148.8L325.5 149.8Z" color="#2b4656"/><path d="M320 155.7L322 154.9M327.5 148.8L325.5 149.8" class="m" color="#0a0f13"/><path d="M342.9 135L345 133L350.2 126.7L348.2 128.7Z" color="#4f5a27"/><path d="M342.9 135L345 133M350.2 126.7L348.2 128.7" class="m" color="#111409"/><path d="M306.5 163.3L308.4 163.1L314.1 157.3L312.2 157.5Z" color="#334c7f"/><path d="M306.5 163.3L308.4 163.1M314.1 157.3L312.2 157.5" class="m" color="#0b111c"/><path d="M403.6 94L405.7 94.3L410.3 89.5L408.1 89.3Z" color="#ca3f3e"/><path d="M403.6 94L405.7 94.3M410.3 89.5L408.1 89.3" class="m" color="#2c0e0e"/><path d="M271.2 170.7L273.1 171.3L279.2 165.7L277.3 165.1Z" color="#415ca7"/><path d="M277.3 165.1L271.2 170.7M271.2 170.7L273.1 171.3M279.2 165.7L277.3 165.1" class="m" color="#0e1425"/><path d="M381.6 99.9L383.8 99.4L388.6 94.3L386.5 94.8Z" color="#a13e35"/><path d="M381.6 99.9L383.8 99.4M388.6 94.3L386.5 94.8" class="m" color="#230e0c"/><path d="M354.4 122.6L356.5 120.6L361.7 114.6L359.6 116.5Z" color="#746c2e"/><path d="M359.6 116.5L354.4 122.6M354.4 122.6L356.5 120.6M361.7 114.6L359.6 116.5" class="m" color="#1a180a"/><path d="M290.9 168.3L292.8 168.6L298.7 162.9L296.8 162.6Z" color="#3c5699"/><path d="M290.9 168.3L292.8 168.6M298.7 162.9L296.8 162.6" class="m" color="#0d1322"/><path d="M405.7 94.3L407.8 94.6L412.4 89.8L410.3 89.5Z" color="#cd403f"/><path d="M405.7 94.3L407.8 94.6M412.4 89.8L410.3 89.5" class="m" color="#2d0e0e"/><path d="M273.1 171.3L275.1 171.8L281.2 166.2L279.2 165.7Z" color="#415ca6"/><path d="M273.1 171.3L275.1 171.8M281.2 166.2L279.2 165.7" class="m" color="#0e1425"/><path d="M383.8 99.4L385.9 99L390.7 93.9L388.6 94.3Z" color="#a63835"/><path d="M385.9 99L390.7 93.9M383.8 99.4L385.9 99M390.7 93.9L388.6 94.3" class="m" color="#240c0c"/><path d="M308.4 163.1L310.4 162.8L316.1 156.9L314.1 157.3Z" color="#314a78"/><path d="M308.4 163.1L310.4 162.8M316.1 156.9L314.1 157.3" class="m" color="#0b101a"/><path d="M368.1 109.5L370.2 108.2L375.2 102.6L373.1 103.9Z" color="#8f5a34"/><path d="M370.2 108.2L375.2 102.6M368.1 109.5L370.2 108.2M375.2 102.6L373.1 103.9" class="m" color="#1f140b"/><path d="M407.8 94.6L410 94.9L414.5 90.2L412.4 89.8Z" color="#cf413f"/><path d="M407.8 94.6L410 94.9M414.5 90.2L412.4 89.8" class="m" color="#2e0e0e"/><path d="M333.5 144.8L335.5 143.1L340.9 136.9L338.8 138.6Z" color="#2e4b2c"/><path d="M338.8 138.6L333.5 144.8M333.5 144.8L335.5 143.1M340.9 136.9L338.8 138.6" class="m" color="#0a110a"/><path d="M292.8 168.6L294.8 168.8L300.6 163.1L298.7 162.9Z" color="#3b5496"/><path d="M292.8 168.6L294.8 168.8M300.6 163.1L298.7 162.9" class="m" color="#0d1221"/><path d="M322 154.9L324 153.8L329.5 147.7L327.5 148.8Z" color="#2a464a"/><path d="M322 154.9L324 153.8M329.5 147.7L327.5 148.8" class="m" color="#090f10"/><path d="M275.1 171.8L277 172.3L283.1 166.6L281.2 166.2Z" color="#415ba5"/><path d="M275.1 171.8L277 172.3M283.1 166.6L281.2 166.2" class="m" color="#0e1424"/><path d="M410 94.9L412.1 95.3L416.6 90.6L414.5 90.2Z" color="#d14140"/><path d="M412.1 95.3L416.6 90.6M410 94.9L412.1 95.3M416.6 90.6L414.5 90.2" class="m" color="#2e0e0e"/><path d="M345 133L347.1 130.9L352.3 124.7L350.2 126.7Z" color="#555e28"/><path d="M345 133L347.1 130.9M352.3 124.7L350.2 126.7" class="m" color="#131509"/><path d="M385.9 99L388.1 98.7L392.9 93.7L390.7 93.9Z" color="#ac3837"/><path d="M390.7 93.9L385.9 99M385.9 99L388.1 98.7M392.9 93.7L390.7 93.9" class="m" color="#260c0c"/><path d="M356.5 120.6L358.7 118.7L363.8 112.7L361.7 114.6Z" color="#7f6d2f"/><path d="M356.5 120.6L358.7 118.7M363.8 112.7L361.7 114.6" class="m" color="#1c180a"/><path d="M294.8 168.8L296.7 169L302.6 163.3L300.6 163.1Z" color="#395292"/><path d="M296.7 169L302.6 163.3M294.8 168.8L296.7 169M302.6 163.3L300.6 163.1" class="m" color="#0d1220"/><path d="M412.1 95.3L414.3 95.7L418.8 90.9L416.6 90.6Z" color="#d24140"/><path d="M416.6 90.6L412.1 95.3M412.1 95.3L414.3 95.7M418.8 90.9L416.6 90.6" class="m" color="#2e0e0e"/><path d="M310.4 162.8L312.4 162.4L318 156.4L316.1 156.9Z" color="#2f4871"/><path d="M312.4 162.4L318 156.4M310.4 162.8L312.4 162.4M318 156.4L316.1 156.9" class="m" color="#0a1019"/><path d="M277 172.3L279 172.8L285 167.1L283.1 166.6Z" color="#405aa4"/><path d="M277 172.3L279 172.8M285 167.1L283.1 166.6" class="m" color="#0e1424"/><path d="M370.2 108.2L372.4 107L377.4 101.5L375.2 102.6Z" color="#935434"/><path d="M375.2 102.6L370.2 108.2M370.2 108.2L372.4 107M377.4 101.5L375.2 102.6" class="m" color="#20120b"/><path d="M388.1 98.7L390.2 98.6L395 93.6L392.9 93.7Z" color="#b23a38"/><path d="M388.1 98.7L390.2 98.6M395 93.6L392.9 93.7" class="m" color="#270d0c"/><path d="M414.3 95.7L416.5 96.1L420.9 91.4L418.8 90.9Z" color="#d34240"/><path d="M414.3 95.7L416.5 96.1M420.9 91.4L418.8 90.9" class="m" color="#2f0e0e"/><path d="M324 153.8L326 152.6L331.5 146.4L329.5 147.7Z" color="#29473f"/><path d="M324 153.8L326 152.6M331.5 146.4L329.5 147.7" class="m" color="#09100e"/><path d="M335.5 143.1L337.5 141.3L342.9 135L340.9 136.9Z" color="#364f29"/><path d="M335.5 143.1L337.5 141.3M342.9 135L340.9 136.9" class="m" color="#0c1109"/><path d="M296.7 169L298.7 169.1L304.5 163.3L302.6 163.3Z" color="#38508d"/><path d="M302.6 163.3L296.7 169M296.7 169L298.7 169.1M304.5 163.3L302.6 163.3" class="m" color="#0c121f"/><path d="M279 172.8L280.9 173.2L287 167.5L285 167.1Z" color="#3f5aa2"/><path d="M280.9 173.2L287 167.5M279 172.8L280.9 173.2M287 167.5L285 167.1" class="m" color="#0e1424"/><path d="M416.5 96.1L418.6 96.6L423.1 91.8L420.9 91.4Z" color="#d44241"/><path d="M416.5 96.1L418.6 96.6M423.1 91.8L420.9 91.4" class="m" color="#2f0e0e"/><path d="M390.2 98.6L392.4 98.6L397.1 93.6L395 93.6Z" color="#b83b3a"/><path d="M390.2 98.6L392.4 98.6M397.1 93.6L395 93.6" class="m" color="#280d0d"/><path d="M312.4 162.4L314.4 161.8L320 155.7L318 156.4Z" color="#2d4766"/><path d="M318 156.4L312.4 162.4M312.4 162.4L314.4 161.8M320 155.7L318 156.4" class="m" color="#0a1016"/><path d="M347.1 130.9L349.2 128.8L354.4 122.6L352.3 124.7Z" color="#62662a"/><path d="M349.2 128.8L354.4 122.6M347.1 130.9L349.2 128.8M354.4 122.6L352.3 124.7" class="m" color="#161609"/><path d="M358.7 118.7L360.8 117L365.9 111L363.8 112.7Z" color="#856b33"/><path d="M358.7 118.7L360.8 117M365.9 111L363.8 112.7" class="m" color="#1d180b"/><path d="M372.4 107L374.5 106.1L379.5 100.7L377.4 101.5Z" color="#964e35"/><path d="M372.4 107L374.5 106.1M379.5 100.7L377.4 101.5" class="m" color="#21110c"/><path d="M418.6 96.6L420.8 97L425.2 92.3L423.1 91.8Z" color="#d54241"/><path d="M418.6 96.6L420.8 97M425.2 92.3L423.1 91.8" class="m" color="#2f0f0e"/><path d="M280.9 173.2L282.9 173.7L288.9 167.9L287 167.5Z" color="#3f59a0"/><path d="M287 167.5L280.9 173.2M280.9 173.2L282.9 173.7M288.9 167.9L287 167.5" class="m" color="#0e1423"/><path d="M298.7 169.1L300.7 169.1L306.5 163.3L304.5 163.3Z" color="#364f88"/><path d="M298.7 169.1L300.7 169.1M306.5 163.3L304.5 163.3" class="m" color="#0c111e"/><path d="M420.8 97L423 97.5L427.4 92.7L425.2 92.3Z" color="#d64241"/><path d="M423 97.5L427.4 92.7M420.8 97L423 97.5M427.4 92.7L425.2 92.3" class="m" color="#2f0f0e"/><path d="M392.4 98.6L394.5 98.6L399.3 93.7L397.1 93.6Z" color="#bd3c3b"/><path d="M392.4 98.6L394.5 98.6M399.3 93.7L397.1 93.6" class="m" color="#2a0d0d"/><path d="M326 152.6L328 151.1L333.5 144.8L331.5 146.4Z" color="#294835"/><path d="M328 151.1L333.5 144.8M326 152.6L328 151.1M333.5 144.8L331.5 146.4" class="m" color="#09100c"/><path d="M282.9 173.7L284.8 174L290.9 168.3L288.9 167.9Z" color="#3e589e"/><path d="M282.9 173.7L284.8 174M290.9 168.3L288.9 167.9" class="m" color="#0e1323"/><path d="M374.5 106.1L376.7 105.3L381.6 99.9L379.5 100.7Z" color="#9a4735"/><path d="M374.5 106.1L376.7 105.3M381.6 99.9L379.5 100.7" class="m" color="#22100c"/><path d="M314.4 161.8L316.3 161L322 154.9L320 155.7Z" color="#2c465b"/><path d="M314.4 161.8L316.3 161M322 154.9L320 155.7" class="m" color="#0a0f14"/><path d="M394.5 98.6L396.7 98.7L401.4 93.8L399.3 93.7Z" color="#c23d3c"/><path d="M396.7 98.7L401.4 93.8M394.5 98.6L396.7 98.7M401.4 93.8L399.3 93.7" class="m" color="#2b0e0d"/><path d="M337.5 141.3L339.6 139.3L345 133L342.9 135Z" color="#465627"/><path d="M337.5 141.3L339.6 139.3M345 133L342.9 135" class="m" color="#0f1309"/><path d="M300.7 169.1L302.6 169.1L308.4 163.1L306.5 163.3Z" color="#344d82"/><path d="M300.7 169.1L302.6 169.1M308.4 163.1L306.5 163.3" class="m" color="#0b111d"/><path d="M264.9 176.4L266.9 177L273.1 171.3L271.2 170.7Z" color="#415ca7"/><path d="M271.2 170.7L264.9 176.4M264.9 176.4L266.9 177M273.1 171.3L271.2 170.7" class="m" color="#0e1425"/><path d="M360.8 117L362.9 115.4L368.1 109.5L365.9 111Z" color="#896434"/><path d="M360.8 117L362.9 115.4M368.1 109.5L365.9 111" class="m" color="#1e160b"/><path d="M349.2 128.8L351.3 126.8L356.5 120.6L354.4 122.6Z" color="#6f6b2d"/><path d="M354.4 122.6L349.2 128.8M349.2 128.8L351.3 126.8M356.5 120.6L354.4 122.6" class="m" color="#18180a"/><path d="M284.8 174L286.8 174.4L292.8 168.6L290.9 168.3Z" color="#3d569b"/><path d="M284.8 174L286.8 174.4M292.8 168.6L290.9 168.3" class="m" color="#0d1322"/><path d="M396.7 98.7L398.9 98.9L403.6 94L401.4 93.8Z" color="#c53e3d"/><path d="M401.4 93.8L396.7 98.7M396.7 98.7L398.9 98.9M403.6 94L401.4 93.8" class="m" color="#2b0e0d"/><path d="M266.9 177L268.8 177.5L275.1 171.8L273.1 171.3Z" color="#415ca7"/><path d="M266.9 177L268.8 177.5M275.1 171.8L273.1 171.3" class="m" color="#0e1425"/><path d="M376.7 105.3L378.9 104.7L383.8 99.4L381.6 99.9Z" color="#9f4135"/><path d="M376.7 105.3L378.9 104.7M383.8 99.4L381.6 99.9" class="m" color="#230e0c"/><path d="M302.6 169.1L304.6 168.8L310.4 162.8L308.4 163.1Z" color="#324b7b"/><path d="M302.6 169.1L304.6 168.8M310.4 162.8L308.4 163.1" class="m" color="#0b101b"/><path d="M398.9 98.9L401 99.2L405.7 94.3L403.6 94Z" color="#c93f3e"/><path d="M398.9 98.9L401 99.2M405.7 94.3L403.6 94" class="m" color="#2c0e0e"/><path d="M328 151.1L330 149.5L335.5 143.1L333.5 144.8Z" color="#2c4a2e"/><path d="M333.5 144.8L328 151.1M328 151.1L330 149.5M335.5 143.1L333.5 144.8" class="m" color="#0a100a"/><path d="M316.3 161L318.3 160.1L324 153.8L322 154.9Z" color="#2b464f"/><path d="M316.3 161L318.3 160.1M324 153.8L322 154.9" class="m" color="#090f11"/><path d="M286.8 174.4L288.8 174.7L294.8 168.8L292.8 168.6Z" color="#3b5598"/><path d="M286.8 174.4L288.8 174.7M294.8 168.8L292.8 168.6" class="m" color="#0d1321"/><path d="M268.8 177.5L270.8 178.1L277 172.3L275.1 171.8Z" color="#415ba5"/><path d="M268.8 177.5L270.8 178.1M277 172.3L275.1 171.8" class="m" color="#0e1424"/><path d="M362.9 115.4L365.1 113.9L370.2 108.2L368.1 109.5Z" color="#8d5d34"/><path d="M365.1 113.9L370.2 108.2M362.9 115.4L365.1 113.9M370.2 108.2L368.1 109.5" class="m" color="#1f140b"/><path d="M401 99.2L403.2 99.5L407.8 94.6L405.7 94.3Z" color="#cc403e"/><path d="M401 99.2L403.2 99.5M407.8 94.6L405.7 94.3" class="m" color="#2d0e0e"/><path d="M339.6 139.3L341.7 137.3L347.1 130.9L345 133Z" color="#525c27"/><path d="M339.6 139.3L341.7 137.3M347.1 130.9L345 133" class="m" color="#121409"/><path d="M378.9 104.7L381 104.2L385.9 99L383.8 99.4Z" color="#a43a35"/><path d="M381 104.2L385.9 99M378.9 104.7L381 104.2M385.9 99L383.8 99.4" class="m" color="#240d0c"/><path d="M288.8 174.7L290.8 174.9L296.7 169L294.8 168.8Z" color="#3a5394"/><path d="M290.8 174.9L296.7 169M288.8 174.7L290.8 174.9M296.7 169L294.8 168.8" class="m" color="#0d1221"/><path d="M351.3 126.8L353.4 124.9L358.7 118.7L356.5 120.6Z" color="#7a6d2f"/><path d="M351.3 126.8L353.4 124.9M358.7 118.7L356.5 120.6" class="m" color="#1b180a"/><path d="M304.6 168.8L306.6 168.5L312.4 162.4L310.4 162.8Z" color="#304874"/><path d="M306.6 168.5L312.4 162.4M304.6 168.8L306.6 168.5M312.4 162.4L310.4 162.8" class="m" color="#0b101a"/><path d="M270.8 178.1L272.7 178.6L279 172.8L277 172.3Z" color="#405ba4"/><path d="M270.8 178.1L272.7 178.6M279 172.8L277 172.3" class="m" color="#0e1424"/><path d="M403.2 99.5L405.4 99.8L410 94.9L407.8 94.6Z" color="#ce403f"/><path d="M403.2 99.5L405.4 99.8M410 94.9L407.8 94.6" class="m" color="#2d0e0e"/><path d="M381 104.2L383.2 103.9L388.1 98.7L385.9 99Z" color="#a93836"/><path d="M385.9 99L381 104.2M381 104.2L383.2 103.9M388.1 98.7L385.9 99" class="m" color="#250c0c"/><path d="M318.3 160.1L320.3 158.9L326 152.6L324 153.8Z" color="#294644"/><path d="M318.3 160.1L320.3 158.9M326 152.6L324 153.8" class="m" color="#09100f"/><path d="M405.4 99.8L407.5 100.2L412.1 95.3L410 94.9Z" color="#d04140"/><path d="M407.5 100.2L412.1 95.3M405.4 99.8L407.5 100.2M412.1 95.3L410 94.9" class="m" color="#2e0e0e"/><path d="M330 149.5L332 147.7L337.5 141.3L335.5 143.1Z" color="#334d2a"/><path d="M330 149.5L332 147.7M337.5 141.3L335.5 143.1" class="m" color="#0b1109"/><path d="M365.1 113.9L367.3 112.7L372.4 107L370.2 108.2Z" color="#915634"/><path d="M370.2 108.2L365.1 113.9M365.1 113.9L367.3 112.7M372.4 107L370.2 108.2" class="m" color="#20130b"/><path d="M272.7 178.6L274.7 179.1L280.9 173.2L279 172.8Z" color="#405aa3"/><path d="M274.7 179.1L280.9 173.2M272.7 178.6L274.7 179.1M280.9 173.2L279 172.8" class="m" color="#0e1424"/><path d="M290.8 174.9L292.7 175.1L298.7 169.1L296.7 169Z" color="#38518f"/><path d="M296.7 169L290.8 174.9M290.8 174.9L292.7 175.1M298.7 169.1L296.7 169" class="m" color="#0c1220"/><path d="M407.5 100.2L409.7 100.6L414.3 95.7L412.1 95.3Z" color="#d24140"/><path d="M412.1 95.3L407.5 100.2M407.5 100.2L409.7 100.6M414.3 95.7L412.1 95.3" class="m" color="#2e0e0e"/><path d="M306.6 168.5L308.6 168L314.4 161.8L312.4 162.4Z" color="#2e476b"/><path d="M312.4 162.4L306.6 168.5M306.6 168.5L308.6 168M314.4 161.8L312.4 162.4" class="m" color="#0a1017"/><path d="M383.2 103.9L385.4 103.7L390.2 98.6L388.1 98.7Z" color="#b03937"/><path d="M383.2 103.9L385.4 103.7M390.2 98.6L388.1 98.7" class="m" color="#270d0c"/><path d="M341.7 137.3L343.8 135.2L349.2 128.8L347.1 130.9Z" color="#5c6229"/><path d="M343.8 135.2L349.2 128.8M341.7 137.3L343.8 135.2M349.2 128.8L347.1 130.9" class="m" color="#141609"/><path d="M274.7 179.1L276.7 179.5L282.9 173.7L280.9 173.2Z" color="#3f59a1"/><path d="M280.9 173.2L274.7 179.1M274.7 179.1L276.7 179.5M282.9 173.7L280.9 173.2" class="m" color="#0e1423"/><path d="M409.7 100.6L411.9 101L416.5 96.1L414.3 95.7Z" color="#d34240"/><path d="M409.7 100.6L411.9 101M416.5 96.1L414.3 95.7" class="m" color="#2e0e0e"/><path d="M353.4 124.9L355.5 123L360.8 117L358.7 118.7Z" color="#826c31"/><path d="M353.4 124.9L355.5 123M360.8 117L358.7 118.7" class="m" color="#1d180b"/><path d="M292.7 175.1L294.7 175.1L300.7 169.1L298.7 169.1Z" color="#374f8a"/><path d="M292.7 175.1L294.7 175.1M300.7 169.1L298.7 169.1" class="m" color="#0c111e"/><path d="M367.3 112.7L369.4 111.7L374.5 106.1L372.4 107Z" color="#945034"/><path d="M367.3 112.7L369.4 111.7M374.5 106.1L372.4 107" class="m" color="#21120c"/><path d="M411.9 101L414.1 101.4L418.6 96.6L416.5 96.1Z" color="#d44241"/><path d="M411.9 101L414.1 101.4M418.6 96.6L416.5 96.1" class="m" color="#2f0e0e"/><path d="M320.3 158.9L322.4 157.6L328 151.1L326 152.6Z" color="#294839"/><path d="M322.4 157.6L328 151.1M320.3 158.9L322.4 157.6M328 151.1L326 152.6" class="m" color="#09100d"/><path d="M385.4 103.7L387.5 103.7L392.4 98.6L390.2 98.6Z" color="#b53b39"/><path d="M385.4 103.7L387.5 103.7M392.4 98.6L390.2 98.6" class="m" color="#280d0d"/><path d="M276.7 179.5L278.7 179.9L284.8 174L282.9 173.7Z" color="#3e589f"/><path d="M276.7 179.5L278.7 179.9M284.8 174L282.9 173.7" class="m" color="#0e1323"/><path d="M308.6 168L310.6 167.3L316.3 161L314.4 161.8Z" color="#2d4660"/><path d="M308.6 168L310.6 167.3M316.3 161L314.4 161.8" class="m" color="#0a0f15"/><path d="M332 147.7L334.1 145.8L339.6 139.3L337.5 141.3Z" color="#3e5228"/><path d="M332 147.7L334.1 145.8M339.6 139.3L337.5 141.3" class="m" color="#0e1209"/><path d="M414.1 101.4L416.3 101.9L420.8 97L418.6 96.6Z" color="#d54241"/><path d="M414.1 101.4L416.3 101.9M420.8 97L418.6 96.6" class="m" color="#2f0f0e"/><path d="M258.5 182.3L260.4 182.9L266.9 177L264.9 176.4Z" color="#425ca8"/><path d="M264.9 176.4L258.5 182.3M258.5 182.3L260.4 182.9M266.9 177L264.9 176.4" class="m" color="#0e1425"/><path d="M294.7 175.1L296.7 175.1L302.6 169.1L300.7 169.1Z" color="#354d84"/><path d="M294.7 175.1L296.7 175.1M302.6 169.1L300.7 169.1" class="m" color="#0c111d"/><path d="M387.5 103.7L389.7 103.7L394.5 98.6L392.4 98.6Z" color="#bb3c3a"/><path d="M387.5 103.7L389.7 103.7M394.5 98.6L392.4 98.6" class="m" color="#290d0d"/><path d="M416.3 101.9L418.5 102.4L423 97.5L420.8 97Z" color="#d64241"/><path d="M418.5 102.4L423 97.5M416.3 101.9L418.5 102.4M423 97.5L420.8 97" class="m" color="#2f0f0e"/><path d="M278.7 179.9L280.7 180.3L286.8 174.4L284.8 174Z" color="#3d579c"/><path d="M278.7 179.9L280.7 180.3M286.8 174.4L284.8 174" class="m" color="#0d1322"/><path d="M369.4 111.7L371.6 110.8L376.7 105.3L374.5 106.1Z" color="#984a35"/><path d="M369.4 111.7L371.6 110.8M376.7 105.3L374.5 106.1" class="m" color="#21100c"/><path d="M343.8 135.2L345.9 133.2L351.3 126.8L349.2 128.8Z" color="#69692b"/><path d="M349.2 128.8L343.8 135.2M343.8 135.2L345.9 133.2M351.3 126.8L349.2 128.8" class="m" color="#171709"/><path d="M355.5 123L357.7 121.4L362.9 115.4L360.8 117Z" color="#886834"/><path d="M355.5 123L357.7 121.4M362.9 115.4L360.8 117" class="m" color="#1e170b"/><path d="M260.4 182.9L262.4 183.4L268.8 177.5L266.9 177Z" color="#415ca7"/><path d="M260.4 182.9L262.4 183.4M268.8 177.5L266.9 177" class="m" color="#0e1425"/><path d="M389.7 103.7L391.9 103.8L396.7 98.7L394.5 98.6Z" color="#c03d3b"/><path d="M391.9 103.8L396.7 98.7M389.7 103.7L391.9 103.8M396.7 98.7L394.5 98.6" class="m" color="#2a0d0d"/><path d="M296.7 175.1L298.7 175L304.6 168.8L302.6 169.1Z" color="#334b7e"/><path d="M296.7 175.1L298.7 175M304.6 168.8L302.6 169.1" class="m" color="#0b111c"/><path d="M322.4 157.6L324.4 156L330 149.5L328 151.1Z" color="#2b4931"/><path d="M328 151.1L322.4 157.6M322.4 157.6L324.4 156M330 149.5L328 151.1" class="m" color="#09100b"/><path d="M310.6 167.3L312.6 166.4L318.3 160.1L316.3 161Z" color="#2b4655"/><path d="M310.6 167.3L312.6 166.4M318.3 160.1L316.3 161" class="m" color="#0a0f13"/><path d="M280.7 180.3L282.6 180.7L288.8 174.7L286.8 174.4Z" color="#3c5699"/><path d="M280.7 180.3L282.6 180.7M288.8 174.7L286.8 174.4" class="m" color="#0d1322"/><path d="M262.4 183.4L264.4 184L270.8 178.1L268.8 177.5Z" color="#415ba6"/><path d="M262.4 183.4L264.4 184M270.8 178.1L268.8 177.5" class="m" color="#0e1425"/><path d="M391.9 103.8L394.1 103.9L398.9 98.9L396.7 98.7Z" color="#c43e3c"/><path d="M396.7 98.7L391.9 103.8M391.9 103.8L394.1 103.9M398.9 98.9L396.7 98.7" class="m" color="#2b0e0d"/><path d="M371.6 110.8L373.8 110.1L378.9 104.7L376.7 105.3Z" color="#9d4435"/><path d="M371.6 110.8L373.8 110.1M378.9 104.7L376.7 105.3" class="m" color="#220f0c"/><path d="M334.1 145.8L336.2 143.8L341.7 137.3L339.6 139.3Z" color="#4f5a27"/><path d="M334.1 145.8L336.2 143.8M341.7 137.3L339.6 139.3" class="m" color="#111409"/><path d="M357.7 121.4L359.9 119.9L365.1 113.9L362.9 115.4Z" color="#8b6034"/><path d="M359.9 119.9L365.1 113.9M357.7 121.4L359.9 119.9M365.1 113.9L362.9 115.4" class="m" color="#1f150b"/><path d="M282.6 180.7L284.6 180.9L290.8 174.9L288.8 174.7Z" color="#3b5496"/><path d="M284.6 180.9L290.8 174.9M282.6 180.7L284.6 180.9M290.8 174.9L288.8 174.7" class="m" color="#0d1221"/><path d="M394.1 103.9L396.2 104.2L401 99.2L398.9 98.9Z" color="#c73f3d"/><path d="M394.1 103.9L396.2 104.2M401 99.2L398.9 98.9" class="m" color="#2c0e0e"/><path d="M264.4 184L266.4 184.5L272.7 178.6L270.8 178.1Z" color="#405ba5"/><path d="M264.4 184L266.4 184.5M272.7 178.6L270.8 178.1" class="m" color="#0e1424"/><path d="M298.7 175L300.7 174.7L306.6 168.5L304.6 168.8Z" color="#314977"/><path d="M300.7 174.7L306.6 168.5M298.7 175L300.7 174.7M306.6 168.5L304.6 168.8" class="m" color="#0b101a"/><path d="M345.9 133.2L348 131.2L353.4 124.9L351.3 126.8Z" color="#756c2e"/><path d="M345.9 133.2L348 131.2M353.4 124.9L351.3 126.8" class="m" color="#1a180a"/><path d="M373.8 110.1L376 109.6L381 104.2L378.9 104.7Z" color="#a23d35"/><path d="M376 109.6L381 104.2M373.8 110.1L376 109.6M381 104.2L378.9 104.7" class="m" color="#240d0c"/><path d="M312.6 166.4L314.6 165.4L320.3 158.9L318.3 160.1Z" color="#2a4649"/><path d="M312.6 166.4L314.6 165.4M320.3 158.9L318.3 160.1" class="m" color="#090f10"/><path d="M396.2 104.2L398.4 104.5L403.2 99.5L401 99.2Z" color="#ca403e"/><path d="M396.2 104.2L398.4 104.5M403.2 99.5L401 99.2" class="m" color="#2d0e0e"/><path d="M324.4 156L326.4 154.3L332 147.7L330 149.5Z" color="#2f4b2c"/><path d="M324.4 156L326.4 154.3M332 147.7L330 149.5" class="m" color="#0a110a"/><path d="M266.4 184.5L268.4 185L274.7 179.1L272.7 178.6Z" color="#405aa3"/><path d="M268.4 185L274.7 179.1M266.4 184.5L268.4 185M274.7 179.1L272.7 178.6" class="m" color="#0e1424"/><path d="M284.6 180.9L286.6 181.1L292.7 175.1L290.8 174.9Z" color="#395291"/><path d="M290.8 174.9L284.6 180.9M284.6 180.9L286.6 181.1M292.7 175.1L290.8 174.9" class="m" color="#0d1220"/><path d="M398.4 104.5L400.6 104.8L405.4 99.8L403.2 99.5Z" color="#cd403f"/><path d="M398.4 104.5L400.6 104.8M405.4 99.8L403.2 99.5" class="m" color="#2d0e0e"/><path d="M300.7 174.7L302.7 174.2L308.6 168L306.6 168.5Z" color="#2f4870"/><path d="M306.6 168.5L300.7 174.7M300.7 174.7L302.7 174.2M308.6 168L306.6 168.5" class="m" color="#0a1019"/><path d="M359.9 119.9L362 118.6L367.3 112.7L365.1 113.9Z" color="#8f5934"/><path d="M365.1 113.9L359.9 119.9M359.9 119.9L362 118.6M367.3 112.7L365.1 113.9" class="m" color="#1f140b"/><path d="M376 109.6L378.2 109.2L383.2 103.9L381 104.2Z" color="#a63735"/><path d="M381 104.2L376 109.6M376 109.6L378.2 109.2M383.2 103.9L381 104.2" class="m" color="#250c0c"/><path d="M336.2 143.8L338.3 141.8L343.8 135.2L341.7 137.3Z" color="#565e28"/><path d="M338.3 141.8L343.8 135.2M336.2 143.8L338.3 141.8M343.8 135.2L341.7 137.3" class="m" color="#131509"/><path d="M268.4 185L270.3 185.5L276.7 179.5L274.7 179.1Z" color="#3f5aa2"/><path d="M274.7 179.1L268.4 185M268.4 185L270.3 185.5M276.7 179.5L274.7 179.1" class="m" color="#0e1424"/><path d="M400.6 104.8L402.8 105.2L407.5 100.2L405.4 99.8Z" color="#cf413f"/><path d="M402.8 105.2L407.5 100.2M400.6 104.8L402.8 105.2M407.5 100.2L405.4 99.8" class="m" color="#2e0e0e"/><path d="M286.6 181.1L288.6 181.3L294.7 175.1L292.7 175.1Z" color="#37508d"/><path d="M286.6 181.1L288.6 181.3M294.7 175.1L292.7 175.1" class="m" color="#0c121f"/><path d="M348 131.2L350.2 129.3L355.5 123L353.4 124.9Z" color="#7f6c30"/><path d="M348 131.2L350.2 129.3M355.5 123L353.4 124.9" class="m" color="#1c180a"/><path d="M314.6 165.4L316.6 164.1L322.4 157.6L320.3 158.9Z" color="#29473e"/><path d="M316.6 164.1L322.4 157.6M314.6 165.4L316.6 164.1M322.4 157.6L320.3 158.9" class="m" color="#09100e"/><path d="M402.8 105.2L405 105.6L409.7 100.6L407.5 100.2Z" color="#d14140"/><path d="M407.5 100.2L402.8 105.2M402.8 105.2L405 105.6M409.7 100.6L407.5 100.2" class="m" color="#2e0e0e"/><path d="M378.2 109.2L380.3 109L385.4 103.7L383.2 103.9Z" color="#ad3837"/><path d="M378.2 109.2L380.3 109M385.4 103.7L383.2 103.9" class="m" color="#260c0c"/><path d="M270.3 185.5L272.3 186L278.7 179.9L276.7 179.5Z" color="#3f59a0"/><path d="M270.3 185.5L272.3 186M278.7 179.9L276.7 179.5" class="m" color="#0e1423"/><path d="M302.7 174.2L304.7 173.6L310.6 167.3L308.6 168Z" color="#2d4665"/><path d="M302.7 174.2L304.7 173.6M310.6 167.3L308.6 168" class="m" color="#0a0f16"/><path d="M251.9 188.3L253.8 188.9L260.4 182.9L258.5 182.3Z" color="#425ca8"/><path d="M258.5 182.3L251.9 188.3M251.9 188.3L253.8 188.9M260.4 182.9L258.5 182.3" class="m" color="#0e1425"/><path d="M326.4 154.3L328.5 152.5L334.1 145.8L332 147.7Z" color="#374f29"/><path d="M326.4 154.3L328.5 152.5M334.1 145.8L332 147.7" class="m" color="#0c1109"/><path d="M362 118.6L364.2 117.4L369.4 111.7L367.3 112.7Z" color="#935334"/><path d="M362 118.6L364.2 117.4M369.4 111.7L367.3 112.7" class="m" color="#20120b"/><path d="M288.6 181.3L290.6 181.3L296.7 175.1L294.7 175.1Z" color="#364e87"/><path d="M288.6 181.3L290.6 181.3M296.7 175.1L294.7 175.1" class="m" color="#0c111e"/><path d="M405 105.6L407.2 106L411.9 101L409.7 100.6Z" color="#d24140"/><path d="M405 105.6L407.2 106M411.9 101L409.7 100.6" class="m" color="#2e0e0e"/><path d="M380.3 109L382.5 108.9L387.5 103.7L385.4 103.7Z" color="#b33a38"/><path d="M380.3 109L382.5 108.9M387.5 103.7L385.4 103.7" class="m" color="#270d0c"/><path d="M272.3 186L274.3 186.4L280.7 180.3L278.7 179.9Z" color="#3e589d"/><path d="M272.3 186L274.3 186.4M280.7 180.3L278.7 179.9" class="m" color="#0e1323"/><path d="M253.8 188.9L255.8 189.5L262.4 183.4L260.4 182.9Z" color="#415ca7"/><path d="M253.8 188.9L255.8 189.5M262.4 183.4L260.4 182.9" class="m" color="#0e1425"/><path d="M407.2 106L409.4 106.4L414.1 101.4L411.9 101Z" color="#d44240"/><path d="M407.2 106L409.4 106.4M414.1 101.4L411.9 101" class="m" color="#2f0e0e"/><path d="M338.3 141.8L340.4 139.7L345.9 133.2L343.8 135.2Z" color="#63672a"/><path d="M343.8 135.2L338.3 141.8M338.3 141.8L340.4 139.7M345.9 133.2L343.8 135.2" class="m" color="#161709"/><path d="M350.2 129.3L352.3 127.6L357.7 121.4L355.5 123Z" color="#866b34"/><path d="M350.2 129.3L352.3 127.6M357.7 121.4L355.5 123" class="m" color="#1e180b"/><path d="M290.6 181.3L292.6 181.2L298.7 175L296.7 175.1Z" color="#344c81"/><path d="M290.6 181.3L292.6 181.2M298.7 175L296.7 175.1" class="m" color="#0b111c"/><path d="M316.6 164.1L318.6 162.6L324.4 156L322.4 157.6Z" color="#294834"/><path d="M322.4 157.6L316.6 164.1M316.6 164.1L318.6 162.6M324.4 156L322.4 157.6" class="m" color="#09100b"/><path d="M409.4 106.4L411.6 106.9L416.3 101.9L414.1 101.4Z" color="#d54241"/><path d="M409.4 106.4L411.6 106.9M416.3 101.9L414.1 101.4" class="m" color="#2f0e0e"/><path d="M304.7 173.6L306.7 172.9L312.6 166.4L310.6 167.3Z" color="#2c465a"/><path d="M304.7 173.6L306.7 172.9M312.6 166.4L310.6 167.3" class="m" color="#0a0f14"/><path d="M382.5 108.9L384.7 108.9L389.7 103.7L387.5 103.7Z" color="#b93b3a"/><path d="M382.5 108.9L384.7 108.9M389.7 103.7L387.5 103.7" class="m" color="#290d0d"/><path d="M364.2 117.4L366.4 116.5L371.6 110.8L369.4 111.7Z" color="#964d35"/><path d="M364.2 117.4L366.4 116.5M371.6 110.8L369.4 111.7" class="m" color="#21110c"/><path d="M274.3 186.4L276.3 186.8L282.6 180.7L280.7 180.3Z" color="#3d569a"/><path d="M274.3 186.4L276.3 186.8M282.6 180.7L280.7 180.3" class="m" color="#0d1322"/><path d="M255.8 189.5L257.8 190L264.4 184L262.4 183.4Z" color="#415ca6"/><path d="M255.8 189.5L257.8 190M264.4 184L262.4 183.4" class="m" color="#0e1425"/><path d="M411.6 106.9L413.8 107.4L418.5 102.4L416.3 101.9Z" color="#d54241"/><path d="M413.8 107.4L418.5 102.4M411.6 106.9L413.8 107.4M418.5 102.4L416.3 101.9" class="m" color="#2f0f0e"/><path d="M328.5 152.5L330.6 150.5L336.2 143.8L334.1 145.8Z" color="#485727"/><path d="M328.5 152.5L330.6 150.5M336.2 143.8L334.1 145.8" class="m" color="#101309"/><path d="M384.7 108.9L386.9 109L391.9 103.8L389.7 103.7Z" color="#be3c3b"/><path d="M386.9 109L391.9 103.8M384.7 108.9L386.9 109M391.9 103.8L389.7 103.7" class="m" color="#2a0d0d"/><path d="M276.3 186.8L278.3 187.1L284.6 180.9L282.6 180.7Z" color="#3b5597"/><path d="M278.3 187.1L284.6 180.9M276.3 186.8L278.3 187.1M284.6 180.9L282.6 180.7" class="m" color="#0d1321"/><path d="M257.8 190L259.8 190.6L266.4 184.5L264.4 184Z" color="#415ba5"/><path d="M257.8 190L259.8 190.6M266.4 184.5L264.4 184" class="m" color="#0e1424"/><path d="M292.6 181.2L294.6 181L300.7 174.7L298.7 175Z" color="#324a7a"/><path d="M294.6 181L300.7 174.7M292.6 181.2L294.6 181M300.7 174.7L298.7 175" class="m" color="#0b101b"/><path d="M366.4 116.5L368.6 115.7L373.8 110.1L371.6 110.8Z" color="#9b4735"/><path d="M366.4 116.5L368.6 115.7M373.8 110.1L371.6 110.8" class="m" color="#22100c"/><path d="M352.3 127.6L354.5 126L359.9 119.9L357.7 121.4Z" color="#896434"/><path d="M354.5 126L359.9 119.9M352.3 127.6L354.5 126M359.9 119.9L357.7 121.4" class="m" color="#1e160b"/><path d="M340.4 139.7L342.5 137.7L348 131.2L345.9 133.2Z" color="#706b2d"/><path d="M340.4 139.7L342.5 137.7M348 131.2L345.9 133.2" class="m" color="#19180a"/><path d="M386.9 109L389.1 109.1L394.1 103.9L391.9 103.8Z" color="#c23e3c"/><path d="M391.9 103.8L386.9 109M386.9 109L389.1 109.1M394.1 103.9L391.9 103.8" class="m" color="#2b0e0d"/><path d="M306.7 172.9L308.7 171.9L314.6 165.4L312.6 166.4Z" color="#2a464e"/><path d="M306.7 172.9L308.7 171.9M314.6 165.4L312.6 166.4" class="m" color="#090f11"/><path d="M318.6 162.6L320.7 161L326.4 154.3L324.4 156Z" color="#2c4a2e"/><path d="M318.6 162.6L320.7 161M326.4 154.3L324.4 156" class="m" color="#0a100a"/><path d="M259.8 190.6L261.8 191.1L268.4 185L266.4 184.5Z" color="#405ba4"/><path d="M261.8 191.1L268.4 185M259.8 190.6L261.8 191.1M268.4 185L266.4 184.5" class="m" color="#0e1424"/><path d="M278.3 187.1L280.4 187.3L286.6 181.1L284.6 180.9Z" color="#3a5393"/><path d="M284.6 180.9L278.3 187.1M278.3 187.1L280.4 187.3M286.6 181.1L284.6 180.9" class="m" color="#0d1220"/><path d="M389.1 109.1L391.3 109.3L396.2 104.2L394.1 103.9Z" color="#c63e3d"/><path d="M389.1 109.1L391.3 109.3M396.2 104.2L394.1 103.9" class="m" color="#2c0e0d"/><path d="M294.6 181L296.6 180.6L302.7 174.2L300.7 174.7Z" color="#304874"/><path d="M300.7 174.7L294.6 181M294.6 181L296.6 180.6M302.7 174.2L300.7 174.7" class="m" color="#0b1019"/><path d="M368.6 115.7L370.8 115.2L376 109.6L373.8 110.1Z" color="#9f4035"/><path d="M370.8 115.2L376 109.6M368.6 115.7L370.8 115.2M376 109.6L373.8 110.1" class="m" color="#230e0c"/><path d="M261.8 191.1L263.8 191.7L270.3 185.5L268.4 185Z" color="#405aa3"/><path d="M268.4 185L261.8 191.1M261.8 191.1L263.8 191.7M270.3 185.5L268.4 185" class="m" color="#0e1424"/><path d="M330.6 150.5L332.7 148.5L338.3 141.8L336.2 143.8Z" color="#535c28"/><path d="M332.7 148.5L338.3 141.8M330.6 150.5L332.7 148.5M338.3 141.8L336.2 143.8" class="m" color="#121409"/><path d="M391.3 109.3L393.5 109.6L398.4 104.5L396.2 104.2Z" color="#c93f3e"/><path d="M391.3 109.3L393.5 109.6M398.4 104.5L396.2 104.2" class="m" color="#2c0e0e"/><path d="M280.4 187.3L282.4 187.5L288.6 181.3L286.6 181.1Z" color="#38518f"/><path d="M280.4 187.3L282.4 187.5M288.6 181.3L286.6 181.1" class="m" color="#0c121f"/><path d="M354.5 126L356.7 124.6L362 118.6L359.9 119.9Z" color="#8d5c34"/><path d="M359.9 119.9L354.5 126M354.5 126L356.7 124.6M362 118.6L359.9 119.9" class="m" color="#1f140b"/><path d="M308.7 171.9L310.7 170.7L316.6 164.1L314.6 165.4Z" color="#294743"/><path d="M310.7 170.7L316.6 164.1M308.7 171.9L310.7 170.7M316.6 164.1L314.6 165.4" class="m" color="#09100f"/><path d="M342.5 137.7L344.7 135.7L350.2 129.3L348 131.2Z" color="#7b6d2f"/><path d="M342.5 137.7L344.7 135.7M350.2 129.3L348 131.2" class="m" color="#1b180a"/><path d="M263.8 191.7L265.9 192.1L272.3 186L270.3 185.5Z" color="#3f59a1"/><path d="M263.8 191.7L265.9 192.1M272.3 186L270.3 185.5" class="m" color="#0e1423"/><path d="M370.8 115.2L373 114.7L378.2 109.2L376 109.6Z" color="#a43a35"/><path d="M376 109.6L370.8 115.2M370.8 115.2L373 114.7M378.2 109.2L376 109.6" class="m" color="#240d0c"/><path d="M393.5 109.6L395.7 109.9L400.6 104.8L398.4 104.5Z" color="#cc403f"/><path d="M393.5 109.6L395.7 109.9M400.6 104.8L398.4 104.5" class="m" color="#2d0e0e"/><path d="M245.1 194.4L247.1 195L253.8 188.9L251.9 188.3Z" color="#425da8"/><path d="M251.9 188.3L245.1 194.4M245.1 194.4L247.1 195M253.8 188.9L251.9 188.3" class="m" color="#0e1425"/><path d="M296.6 180.6L298.6 180.1L304.7 173.6L302.7 174.2Z" color="#2e476a"/><path d="M296.6 180.6L298.6 180.1M304.7 173.6L302.7 174.2" class="m" color="#0a1017"/><path d="M320.7 161L322.7 159.2L328.5 152.5L326.4 154.3Z" color="#334d2a"/><path d="M320.7 161L322.7 159.2M328.5 152.5L326.4 154.3" class="m" color="#0b1109"/><path d="M282.4 187.5L284.4 187.6L290.6 181.3L288.6 181.3Z" color="#374f8a"/><path d="M282.4 187.5L284.4 187.6M290.6 181.3L288.6 181.3" class="m" color="#0c111e"/><path d="M395.7 109.9L398 110.3L402.8 105.2L400.6 104.8Z" color="#ce403f"/><path d="M398 110.3L402.8 105.2M395.7 109.9L398 110.3M402.8 105.2L400.6 104.8" class="m" color="#2d0e0e"/><path d="M265.9 192.1L267.9 192.6L274.3 186.4L272.3 186Z" color="#3e589e"/><path d="M265.9 192.1L267.9 192.6M274.3 186.4L272.3 186" class="m" color="#0e1323"/><path d="M247.1 195L249.1 195.7L255.8 189.5L253.8 188.9Z" color="#425ca8"/><path d="M247.1 195L249.1 195.7M255.8 189.5L253.8 188.9" class="m" color="#0e1425"/><path d="M373 114.7L375.2 114.4L380.3 109L378.2 109.2Z" color="#aa3836"/><path d="M373 114.7L375.2 114.4M380.3 109L378.2 109.2" class="m" color="#250c0c"/><path d="M356.7 124.6L358.9 123.4L364.2 117.4L362 118.6Z" color="#925634"/><path d="M356.7 124.6L358.9 123.4M364.2 117.4L362 118.6" class="m" color="#20130b"/><path d="M398 110.3L400.2 110.7L405 105.6L402.8 105.2Z" color="#d04140"/><path d="M402.8 105.2L398 110.3M398 110.3L400.2 110.7M405 105.6L402.8 105.2" class="m" color="#2e0e0e"/><path d="M332.7 148.5L334.8 146.4L340.4 139.7L338.3 141.8Z" color="#5d6329"/><path d="M338.3 141.8L332.7 148.5M332.7 148.5L334.8 146.4M340.4 139.7L338.3 141.8" class="m" color="#141609"/><path d="M310.7 170.7L312.8 169.4L318.6 162.6L316.6 164.1Z" color="#294838"/><path d="M316.6 164.1L310.7 170.7M310.7 170.7L312.8 169.4M318.6 162.6L316.6 164.1" class="m" color="#09100c"/><path d="M284.4 187.6L286.4 187.6L292.6 181.2L290.6 181.3Z" color="#354d84"/><path d="M284.4 187.6L286.4 187.6M292.6 181.2L290.6 181.3" class="m" color="#0c111d"/><path d="M298.6 180.1L300.7 179.4L306.7 172.9L304.7 173.6Z" color="#2c465f"/><path d="M298.6 180.1L300.7 179.4M306.7 172.9L304.7 173.6" class="m" color="#0a0f15"/><path d="M267.9 192.6L269.9 193L276.3 186.8L274.3 186.4Z" color="#3d579c"/><path d="M267.9 192.6L269.9 193M276.3 186.8L274.3 186.4" class="m" color="#0d1322"/><path d="M249.1 195.7L251.1 196.3L257.8 190L255.8 189.5Z" color="#415ca7"/><path d="M249.1 195.7L251.1 196.3M257.8 190L255.8 189.5" class="m" color="#0e1425"/><path d="M344.7 135.7L346.8 133.9L352.3 127.6L350.2 129.3Z" color="#836b32"/><path d="M344.7 135.7L346.8 133.9M352.3 127.6L350.2 129.3" class="m" color="#1d180b"/><path d="M400.2 110.7L402.4 111.1L407.2 106L405 105.6Z" color="#d24140"/><path d="M400.2 110.7L402.4 111.1M407.2 106L405 105.6" class="m" color="#2e0e0e"/><path d="M375.2 114.4L377.4 114.3L382.5 108.9L380.3 109Z" color="#b03938"/><path d="M375.2 114.4L377.4 114.3M382.5 108.9L380.3 109" class="m" color="#270d0c"/><path d="M322.7 159.2L324.8 157.3L330.6 150.5L328.5 152.5Z" color="#3f5328"/><path d="M322.7 159.2L324.8 157.3M330.6 150.5L328.5 152.5" class="m" color="#0e1209"/><path d="M402.4 111.1L404.6 111.6L409.4 106.4L407.2 106Z" color="#d34240"/><path d="M402.4 111.1L404.6 111.6M409.4 106.4L407.2 106" class="m" color="#2e0e0e"/><path d="M358.9 123.4L361.1 122.3L366.4 116.5L364.2 117.4Z" color="#955034"/><path d="M358.9 123.4L361.1 122.3M366.4 116.5L364.2 117.4" class="m" color="#21120c"/><path d="M251.1 196.3L253.1 196.8L259.8 190.6L257.8 190Z" color="#415ba6"/><path d="M251.1 196.3L253.1 196.8M259.8 190.6L257.8 190" class="m" color="#0e1424"/><path d="M269.9 193L271.9 193.4L278.3 187.1L276.3 186.8Z" color="#3c5599"/><path d="M271.9 193.4L278.3 187.1M269.9 193L271.9 193.4M278.3 187.1L276.3 186.8" class="m" color="#0d1322"/><path d="M286.4 187.6L288.4 187.4L294.6 181L292.6 181.2Z" color="#334b7d"/><path d="M288.4 187.4L294.6 181M286.4 187.6L288.4 187.4M294.6 181L292.6 181.2" class="m" color="#0b111c"/><path d="M377.4 114.3L379.6 114.2L384.7 108.9L382.5 108.9Z" color="#b63b39"/><path d="M377.4 114.3L379.6 114.2M384.7 108.9L382.5 108.9" class="m" color="#280d0d"/><path d="M404.6 111.6L406.9 112L411.6 106.9L409.4 106.4Z" color="#d44241"/><path d="M404.6 111.6L406.9 112M411.6 106.9L409.4 106.4" class="m" color="#2f0e0e"/><path d="M300.7 179.4L302.7 178.6L308.7 171.9L306.7 172.9Z" color="#2b4653"/><path d="M300.7 179.4L302.7 178.6M308.7 171.9L306.7 172.9" class="m" color="#090f12"/><path d="M334.8 146.4L336.9 144.3L342.5 137.7L340.4 139.7Z" color="#6a692b"/><path d="M334.8 146.4L336.9 144.3M342.5 137.7L340.4 139.7" class="m" color="#17170a"/><path d="M253.1 196.8L255.1 197.4L261.8 191.1L259.8 190.6Z" color="#405ba5"/><path d="M255.1 197.4L261.8 191.1M253.1 196.8L255.1 197.4M261.8 191.1L259.8 190.6" class="m" color="#0e1424"/><path d="M312.8 169.4L314.8 167.8L320.7 161L318.6 162.6Z" color="#2b4931"/><path d="M312.8 169.4L314.8 167.8M320.7 161L318.6 162.6" class="m" color="#09100b"/><path d="M406.9 112L409.1 112.5L413.8 107.4L411.6 106.9Z" color="#d54241"/><path d="M409.1 112.5L413.8 107.4M406.9 112L409.1 112.5M413.8 107.4L411.6 106.9" class="m" color="#2f0f0e"/><path d="M346.8 133.9L349 132.3L354.5 126L352.3 127.6Z" color="#886734"/><path d="M349 132.3L354.5 126M346.8 133.9L349 132.3M354.5 126L352.3 127.6" class="m" color="#1e170b"/><path d="M379.6 114.2L381.9 114.3L386.9 109L384.7 108.9Z" color="#bb3c3a"/><path d="M381.9 114.3L386.9 109M379.6 114.2L381.9 114.3M386.9 109L384.7 108.9" class="m" color="#290d0d"/><path d="M271.9 193.4L273.9 193.7L280.4 187.3L278.3 187.1Z" color="#3b5495"/><path d="M278.3 187.1L271.9 193.4M271.9 193.4L273.9 193.7M280.4 187.3L278.3 187.1" class="m" color="#0d1221"/><path d="M361.1 122.3L363.3 121.5L368.6 115.7L366.4 116.5Z" color="#994a35"/><path d="M361.1 122.3L363.3 121.5M368.6 115.7L366.4 116.5" class="m" color="#22100c"/><path d="M288.4 187.4L290.4 187.2L296.6 180.6L294.6 181Z" color="#314977"/><path d="M294.6 181L288.4 187.4M288.4 187.4L290.4 187.2M296.6 180.6L294.6 181" class="m" color="#0b101a"/><path d="M255.1 197.4L257.2 198L263.8 191.7L261.8 191.1Z" color="#405aa3"/><path d="M261.8 191.1L255.1 197.4M255.1 197.4L257.2 198M263.8 191.7L261.8 191.1" class="m" color="#0e1424"/><path d="M381.9 114.3L384.1 114.4L389.1 109.1L386.9 109Z" color="#c03d3c"/><path d="M386.9 109L381.9 114.3M381.9 114.3L384.1 114.4M389.1 109.1L386.9 109" class="m" color="#2a0d0d"/><path d="M324.8 157.3L326.9 155.3L332.7 148.5L330.6 150.5Z" color="#505a27"/><path d="M326.9 155.3L332.7 148.5M324.8 157.3L326.9 155.3M332.7 148.5L330.6 150.5" class="m" color="#121409"/><path d="M273.9 193.7L276 193.9L282.4 187.5L280.4 187.3Z" color="#395291"/><path d="M273.9 193.7L276 193.9M282.4 187.5L280.4 187.3" class="m" color="#0d1220"/><path d="M302.7 178.6L304.7 177.5L310.7 170.7L308.7 171.9Z" color="#2a4648"/><path d="M304.7 177.5L310.7 170.7M302.7 178.6L304.7 177.5M310.7 170.7L308.7 171.9" class="m" color="#090f10"/><path d="M363.3 121.5L365.5 120.9L370.8 115.2L368.6 115.7Z" color="#9d4335"/><path d="M365.5 120.9L370.8 115.2M363.3 121.5L365.5 120.9M370.8 115.2L368.6 115.7" class="m" color="#230f0c"/><path d="M257.2 198L259.2 198.5L265.9 192.1L263.8 191.7Z" color="#3f59a2"/><path d="M257.2 198L259.2 198.5M265.9 192.1L263.8 191.7" class="m" color="#0e1424"/><path d="M384.1 114.4L386.3 114.6L391.3 109.3L389.1 109.1Z" color="#c43e3d"/><path d="M384.1 114.4L386.3 114.6M391.3 109.3L389.1 109.1" class="m" color="#2b0e0d"/><path d="M238.1 200.7L240.2 201.4L247.1 195L245.1 194.4Z" color="#425da9"/><path d="M245.1 194.4L238.1 200.7M238.1 200.7L240.2 201.4M247.1 195L245.1 194.4" class="m" color="#0e1425"/><path d="M349 132.3L351.2 130.8L356.7 124.6L354.5 126Z" color="#8b5f34"/><path d="M354.5 126L349 132.3M349 132.3L351.2 130.8M356.7 124.6L354.5 126" class="m" color="#1f150b"/><path d="M290.4 187.2L292.5 186.7L298.6 180.1L296.6 180.6Z" color="#2f476e"/><path d="M290.4 187.2L292.5 186.7M298.6 180.1L296.6 180.6" class="m" color="#0a1018"/><path d="M336.9 144.3L339.1 142.3L344.7 135.7L342.5 137.7Z" color="#766c2e"/><path d="M336.9 144.3L339.1 142.3M344.7 135.7L342.5 137.7" class="m" color="#1a180a"/><path d="M314.8 167.8L316.9 166.1L322.7 159.2L320.7 161Z" color="#304c2c"/><path d="M314.8 167.8L316.9 166.1M322.7 159.2L320.7 161" class="m" color="#0a110a"/><path d="M276 193.9L278 194L284.4 187.6L282.4 187.5Z" color="#37508c"/><path d="M276 193.9L278 194M284.4 187.6L282.4 187.5" class="m" color="#0c121f"/><path d="M386.3 114.6L388.5 114.9L393.5 109.6L391.3 109.3Z" color="#c83f3d"/><path d="M386.3 114.6L388.5 114.9M393.5 109.6L391.3 109.3" class="m" color="#2c0e0e"/><path d="M240.2 201.4L242.2 202L249.1 195.7L247.1 195Z" color="#425ca8"/><path d="M240.2 201.4L242.2 202M249.1 195.7L247.1 195" class="m" color="#0e1425"/><path d="M259.2 198.5L261.2 199L267.9 192.6L265.9 192.1Z" color="#3e59a0"/><path d="M259.2 198.5L261.2 199M267.9 192.6L265.9 192.1" class="m" color="#0e1323"/><path d="M365.5 120.9L367.7 120.4L373 114.7L370.8 115.2Z" color="#a23d35"/><path d="M370.8 115.2L365.5 120.9M365.5 120.9L367.7 120.4M373 114.7L370.8 115.2" class="m" color="#240d0c"/><path d="M388.5 114.9L390.8 115.2L395.7 109.9L393.5 109.6Z" color="#cb403e"/><path d="M388.5 114.9L390.8 115.2M395.7 109.9L393.5 109.6" class="m" color="#2d0e0e"/><path d="M326.9 155.3L329 153.2L334.8 146.4L332.7 148.5Z" color="#575f28"/><path d="M332.7 148.5L326.9 155.3M326.9 155.3L329 153.2M334.8 146.4L332.7 148.5" class="m" color="#131509"/><path d="M304.7 177.5L306.7 176.2L312.8 169.4L310.7 170.7Z" color="#29473d"/><path d="M310.7 170.7L304.7 177.5M304.7 177.5L306.7 176.2M312.8 169.4L310.7 170.7" class="m" color="#09100d"/><path d="M278 194L280 194.1L286.4 187.6L284.4 187.6Z" color="#364e86"/><path d="M278 194L280 194.1M286.4 187.6L284.4 187.6" class="m" color="#0c111e"/><path d="M292.5 186.7L294.5 186.1L300.7 179.4L298.6 180.1Z" color="#2d4664"/><path d="M292.5 186.7L294.5 186.1M300.7 179.4L298.6 180.1" class="m" color="#0a0f16"/><path d="M242.2 202L244.2 202.6L251.1 196.3L249.1 195.7Z" color="#415ca7"/><path d="M242.2 202L244.2 202.6M251.1 196.3L249.1 195.7" class="m" color="#0e1425"/><path d="M351.2 130.8L353.4 129.5L358.9 123.4L356.7 124.6Z" color="#905934"/><path d="M351.2 130.8L353.4 129.5M358.9 123.4L356.7 124.6" class="m" color="#20130b"/><path d="M261.2 199L263.3 199.4L269.9 193L267.9 192.6Z" color="#3e579d"/><path d="M261.2 199L263.3 199.4M269.9 193L267.9 192.6" class="m" color="#0e1323"/><path d="M390.8 115.2L393 115.6L398 110.3L395.7 109.9Z" color="#cd403f"/><path d="M393 115.6L398 110.3M390.8 115.2L393 115.6M398 110.3L395.7 109.9" class="m" color="#2d0e0e"/><path d="M367.7 120.4L370 120L375.2 114.4L373 114.7Z" color="#a73735"/><path d="M367.7 120.4L370 120M375.2 114.4L373 114.7" class="m" color="#250c0c"/><path d="M339.1 142.3L341.2 140.5L346.8 133.9L344.7 135.7Z" color="#806c30"/><path d="M339.1 142.3L341.2 140.5M346.8 133.9L344.7 135.7" class="m" color="#1c180b"/><path d="M316.9 166.1L318.9 164.2L324.8 157.3L322.7 159.2Z" color="#385028"/><path d="M316.9 166.1L318.9 164.2M324.8 157.3L322.7 159.2" class="m" color="#0c1209"/><path d="M244.2 202.6L246.2 203.2L253.1 196.8L251.1 196.3Z" color="#415ca6"/><path d="M244.2 202.6L246.2 203.2M253.1 196.8L251.1 196.3" class="m" color="#0e1425"/><path d="M393 115.6L395.2 116L400.2 110.7L398 110.3Z" color="#cf413f"/><path d="M398 110.3L393 115.6M393 115.6L395.2 116M400.2 110.7L398 110.3" class="m" color="#2e0e0e"/><path d="M263.3 199.4L265.3 199.8L271.9 193.4L269.9 193Z" color="#3c569a"/><path d="M265.3 199.8L271.9 193.4M263.3 199.4L265.3 199.8M271.9 193.4L269.9 193" class="m" color="#0d1322"/><path d="M280 194.1L282 194L288.4 187.4L286.4 187.6Z" color="#344c80"/><path d="M282 194L288.4 187.4M280 194.1L282 194M288.4 187.4L286.4 187.6" class="m" color="#0b111c"/><path d="M370 120L372.2 119.8L377.4 114.3L375.2 114.4Z" color="#ad3937"/><path d="M370 120L372.2 119.8M377.4 114.3L375.2 114.4" class="m" color="#260c0c"/><path d="M294.5 186.1L296.5 185.4L302.7 178.6L300.7 179.4Z" color="#2c4659"/><path d="M294.5 186.1L296.5 185.4M302.7 178.6L300.7 179.4" class="m" color="#0a0f13"/><path d="M395.2 116L397.5 116.4L402.4 111.1L400.2 110.7Z" color="#d14140"/><path d="M395.2 116L397.5 116.4M402.4 111.1L400.2 110.7" class="m" color="#2e0e0e"/><path d="M353.4 129.5L355.6 128.4L361.1 122.3L358.9 123.4Z" color="#935234"/><path d="M353.4 129.5L355.6 128.4M361.1 122.3L358.9 123.4" class="m" color="#20120b"/><path d="M246.2 203.2L248.3 203.8L255.1 197.4L253.1 196.8Z" color="#415ba5"/><path d="M248.3 203.8L255.1 197.4M246.2 203.2L248.3 203.8M255.1 197.4L253.1 196.8" class="m" color="#0e1424"/><path d="M306.7 176.2L308.8 174.8L314.8 167.8L312.8 169.4Z" color="#2a4933"/><path d="M306.7 176.2L308.8 174.8M314.8 167.8L312.8 169.4" class="m" color="#09100b"/><path d="M329 153.2L331.2 151.1L336.9 144.3L334.8 146.4Z" color="#65672a"/><path d="M329 153.2L331.2 151.1M336.9 144.3L334.8 146.4" class="m" color="#161709"/><path d="M265.3 199.8L267.3 200.1L273.9 193.7L271.9 193.4Z" color="#3b5597"/><path d="M271.9 193.4L265.3 199.8M265.3 199.8L267.3 200.1M273.9 193.7L271.9 193.4" class="m" color="#0d1321"/><path d="M397.5 116.4L399.7 116.8L404.6 111.6L402.4 111.1Z" color="#d24140"/><path d="M397.5 116.4L399.7 116.8M404.6 111.6L402.4 111.1" class="m" color="#2e0e0e"/><path d="M372.2 119.8L374.4 119.8L379.6 114.2L377.4 114.3Z" color="#b33a38"/><path d="M372.2 119.8L374.4 119.8M379.6 114.2L377.4 114.3" class="m" color="#270d0c"/><path d="M282 194L284.1 193.8L290.4 187.2L288.4 187.4Z" color="#324a7a"/><path d="M288.4 187.4L282 194M282 194L284.1 193.8M290.4 187.2L288.4 187.4" class="m" color="#0b101b"/><path d="M341.2 140.5L343.4 138.7L349 132.3L346.8 133.9Z" color="#876b34"/><path d="M343.4 138.7L349 132.3M341.2 140.5L343.4 138.7M349 132.3L346.8 133.9" class="m" color="#1e170b"/><path d="M248.3 203.8L250.3 204.4L257.2 198L255.1 197.4Z" color="#405ba4"/><path d="M255.1 197.4L248.3 203.8M248.3 203.8L250.3 204.4M257.2 198L255.1 197.4" class="m" color="#0e1424"/><path d="M399.7 116.8L402 117.3L406.9 112L404.6 111.6Z" color="#d44240"/><path d="M399.7 116.8L402 117.3M406.9 112L404.6 111.6" class="m" color="#2f0e0e"/><path d="M318.9 164.2L321 162.3L326.9 155.3L324.8 157.3Z" color="#4a5827"/><path d="M321 162.3L326.9 155.3M318.9 164.2L321 162.3M326.9 155.3L324.8 157.3" class="m" color="#101309"/><path d="M267.3 200.1L269.4 200.4L276 193.9L273.9 193.7Z" color="#3a5393"/><path d="M267.3 200.1L269.4 200.4M276 193.9L273.9 193.7" class="m" color="#0d1220"/><path d="M355.6 128.4L357.9 127.5L363.3 121.5L361.1 122.3Z" color="#974d35"/><path d="M355.6 128.4L357.9 127.5M363.3 121.5L361.1 122.3" class="m" color="#21110c"/><path d="M374.4 119.8L376.7 119.8L381.9 114.3L379.6 114.2Z" color="#b93b3a"/><path d="M376.7 119.8L381.9 114.3M374.4 119.8L376.7 119.8M381.9 114.3L379.6 114.2" class="m" color="#290d0d"/><path d="M296.5 185.4L298.5 184.4L304.7 177.5L302.7 178.6Z" color="#2a464d"/><path d="M298.5 184.4L304.7 177.5M296.5 185.4L298.5 184.4M304.7 177.5L302.7 178.6" class="m" color="#090f11"/><path d="M402 117.3L404.2 117.8L409.1 112.5L406.9 112Z" color="#d54241"/><path d="M404.2 117.8L409.1 112.5M402 117.3L404.2 117.8M409.1 112.5L406.9 112" class="m" color="#2f0f0e"/><path d="M231 207.2L233.1 207.9L240.2 201.4L238.1 200.7Z" color="#425da9"/><path d="M238.1 200.7L231 207.2M231 207.2L233.1 207.9M240.2 201.4L238.1 200.7" class="m" color="#0f1425"/><path d="M250.3 204.4L252.4 205L259.2 198.5L257.2 198Z" color="#405aa2"/><path d="M250.3 204.4L252.4 205M259.2 198.5L257.2 198" class="m" color="#0e1424"/><path d="M284.1 193.8L286.1 193.5L292.5 186.7L290.4 187.2Z" color="#304873"/><path d="M284.1 193.8L286.1 193.5M292.5 186.7L290.4 187.2" class="m" color="#0a1019"/><path d="M308.8 174.8L310.9 173.1L316.9 166.1L314.8 167.8Z" color="#2c4a2d"/><path d="M308.8 174.8L310.9 173.1M316.9 166.1L314.8 167.8" class="m" color="#0a100a"/><path d="M376.7 119.8L378.9 119.9L384.1 114.4L381.9 114.3Z" color="#be3d3b"/><path d="M381.9 114.3L376.7 119.8M376.7 119.8L378.9 119.9M384.1 114.4L381.9 114.3" class="m" color="#2a0d0d"/><path d="M331.2 151.1L333.3 149.1L339.1 142.3L336.9 144.3Z" color="#716c2d"/><path d="M331.2 151.1L333.3 149.1M339.1 142.3L336.9 144.3" class="m" color="#19180a"/><path d="M269.4 200.4L271.4 200.6L278 194L276 193.9Z" color="#38518f"/><path d="M269.4 200.4L271.4 200.6M278 194L276 193.9" class="m" color="#0c121f"/><path d="M233.1 207.9L235.1 208.5L242.2 202L240.2 201.4Z" color="#425da8"/><path d="M233.1 207.9L235.1 208.5M242.2 202L240.2 201.4" class="m" color="#0e1425"/><path d="M343.4 138.7L345.6 137.2L351.2 130.8L349 132.3Z" color="#8a6334"/><path d="M349 132.3L343.4 138.7M343.4 138.7L345.6 137.2M351.2 130.8L349 132.3" class="m" color="#1e160b"/><path d="M357.9 127.5L360.1 126.8L365.5 120.9L363.3 121.5Z" color="#9b4635"/><path d="M360.1 126.8L365.5 120.9M357.9 127.5L360.1 126.8M365.5 120.9L363.3 121.5" class="m" color="#220f0c"/><path d="M252.4 205L254.4 205.5L261.2 199L259.2 198.5Z" color="#3f59a0"/><path d="M252.4 205L254.4 205.5M261.2 199L259.2 198.5" class="m" color="#0e1423"/><path d="M378.9 119.9L381.1 120.1L386.3 114.6L384.1 114.4Z" color="#c23e3c"/><path d="M378.9 119.9L381.1 120.1M386.3 114.6L384.1 114.4" class="m" color="#2b0e0d"/><path d="M298.5 184.4L300.6 183.2L306.7 176.2L304.7 177.5Z" color="#294742"/><path d="M304.7 177.5L298.5 184.4M298.5 184.4L300.6 183.2M306.7 176.2L304.7 177.5" class="m" color="#09100e"/><path d="M321 162.3L323.1 160.2L329 153.2L326.9 155.3Z" color="#535d28"/><path d="M326.9 155.3L321 162.3M321 162.3L323.1 160.2M329 153.2L326.9 155.3" class="m" color="#121409"/><path d="M235.1 208.5L237.1 209.2L244.2 202.6L242.2 202Z" color="#415ca8"/><path d="M235.1 208.5L237.1 209.2M244.2 202.6L242.2 202" class="m" color="#0e1425"/><path d="M271.4 200.6L273.5 200.7L280 194.1L278 194Z" color="#364f89"/><path d="M271.4 200.6L273.5 200.7M280 194.1L278 194" class="m" color="#0c111e"/><path d="M286.1 193.5L288.1 193L294.5 186.1L292.5 186.7Z" color="#2e4768"/><path d="M286.1 193.5L288.1 193M294.5 186.1L292.5 186.7" class="m" color="#0a1017"/><path d="M254.4 205.5L256.5 205.9L263.3 199.4L261.2 199Z" color="#3e589e"/><path d="M254.4 205.5L256.5 205.9M263.3 199.4L261.2 199" class="m" color="#0e1323"/><path d="M360.1 126.8L362.3 126.2L367.7 120.4L365.5 120.9Z" color="#a03f35"/><path d="M365.5 120.9L360.1 126.8M360.1 126.8L362.3 126.2M367.7 120.4L365.5 120.9" class="m" color="#230e0c"/><path d="M381.1 120.1L383.4 120.3L388.5 114.9L386.3 114.6Z" color="#c63f3d"/><path d="M381.1 120.1L383.4 120.3M388.5 114.9L386.3 114.6" class="m" color="#2c0e0d"/><path d="M310.9 173.1L312.9 171.3L318.9 164.2L316.9 166.1Z" color="#344e2a"/><path d="M310.9 173.1L312.9 171.3M318.9 164.2L316.9 166.1" class="m" color="#0c1109"/><path d="M237.1 209.2L239.2 209.8L246.2 203.2L244.2 202.6Z" color="#415ca7"/><path d="M237.1 209.2L239.2 209.8M246.2 203.2L244.2 202.6" class="m" color="#0e1425"/><path d="M345.6 137.2L347.8 135.8L353.4 129.5L351.2 130.8Z" color="#8d5b34"/><path d="M345.6 137.2L347.8 135.8M353.4 129.5L351.2 130.8" class="m" color="#1f140b"/><path d="M333.3 149.1L335.5 147.2L341.2 140.5L339.1 142.3Z" color="#7c6d2f"/><path d="M333.3 149.1L335.5 147.2M341.2 140.5L339.1 142.3" class="m" color="#1b180a"/><path d="M256.5 205.9L258.5 206.4L265.3 199.8L263.3 199.4Z" color="#3d579c"/><path d="M258.5 206.4L265.3 199.8M256.5 205.9L258.5 206.4M265.3 199.8L263.3 199.4" class="m" color="#0d1322"/><path d="M383.4 120.3L385.6 120.6L390.8 115.2L388.5 114.9Z" color="#c93f3e"/><path d="M383.4 120.3L385.6 120.6M390.8 115.2L388.5 114.9" class="m" color="#2c0e0e"/><path d="M273.5 200.7L275.5 200.7L282 194L280 194.1Z" color="#354d83"/><path d="M275.5 200.7L282 194M273.5 200.7L275.5 200.7M282 194L280 194.1" class="m" color="#0c111d"/><path d="M362.3 126.2L364.6 125.8L370 120L367.7 120.4Z" color="#a53935"/><path d="M362.3 126.2L364.6 125.8M370 120L367.7 120.4" class="m" color="#240d0c"/><path d="M288.1 193L290.2 192.3L296.5 185.4L294.5 186.1Z" color="#2c465e"/><path d="M288.1 193L290.2 192.3M296.5 185.4L294.5 186.1" class="m" color="#0a0f15"/><path d="M239.2 209.8L241.2 210.4L248.3 203.8L246.2 203.2Z" color="#415ba6"/><path d="M241.2 210.4L248.3 203.8M239.2 209.8L241.2 210.4M248.3 203.8L246.2 203.2" class="m" color="#0e1424"/><path d="M385.6 120.6L387.9 121L393 115.6L390.8 115.2Z" color="#cc403f"/><path d="M387.9 121L393 115.6M385.6 120.6L387.9 121M393 115.6L390.8 115.2" class="m" color="#2d0e0e"/><path d="M300.6 183.2L302.6 181.9L308.8 174.8L306.7 176.2Z" color="#294837"/><path d="M300.6 183.2L302.6 181.9M308.8 174.8L306.7 176.2" class="m" color="#09100c"/><path d="M258.5 206.4L260.6 206.8L267.3 200.1L265.3 199.8Z" color="#3c5598"/><path d="M265.3 199.8L258.5 206.4M258.5 206.4L260.6 206.8M267.3 200.1L265.3 199.8" class="m" color="#0d1322"/><path d="M323.1 160.2L325.3 158.1L331.2 151.1L329 153.2Z" color="#5e6429"/><path d="M323.1 160.2L325.3 158.1M331.2 151.1L329 153.2" class="m" color="#151609"/><path d="M347.8 135.8L350 134.6L355.6 128.4L353.4 129.5Z" color="#925534"/><path d="M347.8 135.8L350 134.6M355.6 128.4L353.4 129.5" class="m" color="#20130b"/><path d="M275.5 200.7L277.6 200.6L284.1 193.8L282 194Z" color="#334b7d"/><path d="M282 194L275.5 200.7M275.5 200.7L277.6 200.6M284.1 193.8L282 194" class="m" color="#0b111b"/><path d="M387.9 121L390.2 121.4L395.2 116L393 115.6Z" color="#ce403f"/><path d="M393 115.6L387.9 121M387.9 121L390.2 121.4M395.2 116L393 115.6" class="m" color="#2d0e0e"/><path d="M241.2 210.4L243.3 211L250.3 204.4L248.3 203.8Z" color="#405ba5"/><path d="M248.3 203.8L241.2 210.4M241.2 210.4L243.3 211M250.3 204.4L248.3 203.8" class="m" color="#0e1424"/><path d="M364.6 125.8L366.8 125.6L372.2 119.8L370 120Z" color="#aa3836"/><path d="M364.6 125.8L366.8 125.6M372.2 119.8L370 120" class="m" color="#260c0c"/><path d="M335.5 147.2L337.7 145.4L343.4 138.7L341.2 140.5Z" color="#836b32"/><path d="M337.7 145.4L343.4 138.7M335.5 147.2L337.7 145.4M343.4 138.7L341.2 140.5" class="m" color="#1d180b"/><path d="M312.9 171.3L315 169.4L321 162.3L318.9 164.2Z" color="#415428"/><path d="M315 169.4L321 162.3M312.9 171.3L315 169.4M321 162.3L318.9 164.2" class="m" color="#0e1209"/><path d="M260.6 206.8L262.6 207.1L269.4 200.4L267.3 200.1Z" color="#3a5495"/><path d="M260.6 206.8L262.6 207.1M269.4 200.4L267.3 200.1" class="m" color="#0d1221"/><path d="M390.2 121.4L392.4 121.8L397.5 116.4L395.2 116Z" color="#d04140"/><path d="M390.2 121.4L392.4 121.8M397.5 116.4L395.2 116" class="m" color="#2e0e0e"/><path d="M290.2 192.3L292.2 191.4L298.5 184.4L296.5 185.4Z" color="#2b4652"/><path d="M292.2 191.4L298.5 184.4M290.2 192.3L292.2 191.4M298.5 184.4L296.5 185.4" class="m" color="#090f12"/><path d="M243.3 211L245.4 211.6L252.4 205L250.3 204.4Z" color="#405aa3"/><path d="M243.3 211L245.4 211.6M252.4 205L250.3 204.4" class="m" color="#0e1424"/><path d="M366.8 125.6L369.1 125.4L374.4 119.8L372.2 119.8Z" color="#b13938"/><path d="M366.8 125.6L369.1 125.4M374.4 119.8L372.2 119.8" class="m" color="#270d0c"/><path d="M392.4 121.8L394.7 122.3L399.7 116.8L397.5 116.4Z" color="#d24140"/><path d="M392.4 121.8L394.7 122.3M399.7 116.8L397.5 116.4" class="m" color="#2e0e0e"/><path d="M277.6 200.6L279.6 200.3L286.1 193.5L284.1 193.8Z" color="#314976"/><path d="M277.6 200.6L279.6 200.3M286.1 193.5L284.1 193.8" class="m" color="#0b101a"/><path d="M302.6 181.9L304.7 180.3L310.9 173.1L308.8 174.8Z" color="#2b4930"/><path d="M302.6 181.9L304.7 180.3M310.9 173.1L308.8 174.8" class="m" color="#09100b"/><path d="M350 134.6L352.3 133.6L357.9 127.5L355.6 128.4Z" color="#954f34"/><path d="M350 134.6L352.3 133.6M357.9 127.5L355.6 128.4" class="m" color="#21110c"/><path d="M262.6 207.1L264.7 207.3L271.4 200.6L269.4 200.4Z" color="#395291"/><path d="M262.6 207.1L264.7 207.3M271.4 200.6L269.4 200.4" class="m" color="#0c1220"/><path d="M394.7 122.3L397 122.7L402 117.3L399.7 116.8Z" color="#d34240"/><path d="M394.7 122.3L397 122.7M402 117.3L399.7 116.8" class="m" color="#2e0e0e"/><path d="M325.3 158.1L327.4 156.1L333.3 149.1L331.2 151.1Z" color="#6b6a2c"/><path d="M325.3 158.1L327.4 156.1M333.3 149.1L331.2 151.1" class="m" color="#18170a"/><path d="M245.4 211.6L247.4 212.1L254.4 205.5L252.4 205Z" color="#3f59a1"/><path d="M245.4 211.6L247.4 212.1M254.4 205.5L252.4 205" class="m" color="#0e1424"/><path d="M369.1 125.4L371.3 125.4L376.7 119.8L374.4 119.8Z" color="#b73b39"/><path d="M371.3 125.4L376.7 119.8M369.1 125.4L371.3 125.4M376.7 119.8L374.4 119.8" class="m" color="#280d0d"/><path d="M337.7 145.4L339.9 143.8L345.6 137.2L343.4 138.7Z" color="#886634"/><path d="M343.4 138.7L337.7 145.4M337.7 145.4L339.9 143.8M345.6 137.2L343.4 138.7" class="m" color="#1e160b"/><path d="M397 122.7L399.3 123.2L404.2 117.8L402 117.3Z" color="#d44241"/><path d="M399.3 123.2L404.2 117.8M397 122.7L399.3 123.2M404.2 117.8L402 117.3" class="m" color="#2f0e0e"/><path d="M292.2 191.4L294.3 190.3L300.6 183.2L298.5 184.4Z" color="#2a4647"/><path d="M298.5 184.4L292.2 191.4M292.2 191.4L294.3 190.3M300.6 183.2L298.5 184.4" class="m" color="#090f10"/><path d="M315 169.4L317.1 167.4L323.1 160.2L321 162.3Z" color="#505b27"/><path d="M321 162.3L315 169.4M315 169.4L317.1 167.4M323.1 160.2L321 162.3" class="m" color="#121409"/><path d="M279.6 200.3L281.7 199.9L288.1 193L286.1 193.5Z" color="#2f476d"/><path d="M279.6 200.3L281.7 199.9M288.1 193L286.1 193.5" class="m" color="#0a1018"/><path d="M264.7 207.3L266.8 207.5L273.5 200.7L271.4 200.6Z" color="#37508c"/><path d="M264.7 207.3L266.8 207.5M273.5 200.7L271.4 200.6" class="m" color="#0c121f"/><path d="M247.4 212.1L249.5 212.7L256.5 205.9L254.4 205.5Z" color="#3e589f"/><path d="M247.4 212.1L249.5 212.7M256.5 205.9L254.4 205.5" class="m" color="#0e1323"/><path d="M352.3 133.6L354.5 132.8L360.1 126.8L357.9 127.5Z" color="#994935"/><path d="M354.5 132.8L360.1 126.8M352.3 133.6L354.5 132.8M360.1 126.8L357.9 127.5" class="m" color="#22100c"/><path d="M371.3 125.4L373.6 125.5L378.9 119.9L376.7 119.8Z" color="#bc3c3b"/><path d="M376.7 119.8L371.3 125.4M371.3 125.4L373.6 125.5M378.9 119.9L376.7 119.8" class="m" color="#290d0d"/><path d="M304.7 180.3L306.8 178.6L312.9 171.3L310.9 173.1Z" color="#314c2b"/><path d="M304.7 180.3L306.8 178.6M312.9 171.3L310.9 173.1" class="m" color="#0b110a"/><path d="M373.6 125.5L375.8 125.7L381.1 120.1L378.9 119.9Z" color="#c03d3c"/><path d="M373.6 125.5L375.8 125.7M381.1 120.1L378.9 119.9" class="m" color="#2a0d0d"/><path d="M249.5 212.7L251.6 213.1L258.5 206.4L256.5 205.9Z" color="#3d579d"/><path d="M251.6 213.1L258.5 206.4M249.5 212.7L251.6 213.1M258.5 206.4L256.5 205.9" class="m" color="#0e1322"/><path d="M266.8 207.5L268.8 207.6L275.5 200.7L273.5 200.7Z" color="#354e86"/><path d="M268.8 207.6L275.5 200.7M266.8 207.5L268.8 207.6M275.5 200.7L273.5 200.7" class="m" color="#0c111d"/><path d="M327.4 156.1L329.6 154.1L335.5 147.2L333.3 149.1Z" color="#776c2e"/><path d="M327.4 156.1L329.6 154.1M335.5 147.2L333.3 149.1" class="m" color="#1a180a"/><path d="M354.5 132.8L356.8 132.2L362.3 126.2L360.1 126.8Z" color="#9e4235"/><path d="M360.1 126.8L354.5 132.8M354.5 132.8L356.8 132.2M362.3 126.2L360.1 126.8" class="m" color="#230f0c"/><path d="M339.9 143.8L342.1 142.3L347.8 135.8L345.6 137.2Z" color="#8c5f34"/><path d="M339.9 143.8L342.1 142.3M347.8 135.8L345.6 137.2" class="m" color="#1f150b"/><path d="M281.7 199.9L283.7 199.3L290.2 192.3L288.1 193Z" color="#2d4662"/><path d="M281.7 199.9L283.7 199.3M290.2 192.3L288.1 193" class="m" color="#0a0f16"/><path d="M294.3 190.3L296.3 189.1L302.6 181.9L300.6 183.2Z" color="#29473c"/><path d="M294.3 190.3L296.3 189.1M302.6 181.9L300.6 183.2" class="m" color="#09100d"/><path d="M375.8 125.7L378.1 125.9L383.4 120.3L381.1 120.1Z" color="#c53e3d"/><path d="M375.8 125.7L378.1 125.9M383.4 120.3L381.1 120.1" class="m" color="#2b0e0d"/><path d="M251.6 213.1L253.6 213.6L260.6 206.8L258.5 206.4Z" color="#3c569a"/><path d="M258.5 206.4L251.6 213.1M251.6 213.1L253.6 213.6M260.6 206.8L258.5 206.4" class="m" color="#0d1322"/><path d="M317.1 167.4L319.3 165.3L325.3 158.1L323.1 160.2Z" color="#586028"/><path d="M317.1 167.4L319.3 165.3M325.3 158.1L323.1 160.2" class="m" color="#131509"/><path d="M268.8 207.6L270.9 207.5L277.6 200.6L275.5 200.7Z" color="#334c80"/><path d="M275.5 200.7L268.8 207.6M268.8 207.6L270.9 207.5M277.6 200.6L275.5 200.7" class="m" color="#0b111c"/><path d="M378.1 125.9L380.4 126.2L385.6 120.6L383.4 120.3Z" color="#c83f3e"/><path d="M378.1 125.9L380.4 126.2M385.6 120.6L383.4 120.3" class="m" color="#2c0e0e"/><path d="M356.8 132.2L359 131.7L364.6 125.8L362.3 126.2Z" color="#a33c35"/><path d="M356.8 132.2L359 131.7M364.6 125.8L362.3 126.2" class="m" color="#240d0c"/><path d="M306.8 178.6L308.9 176.7L315 169.4L312.9 171.3Z" color="#395028"/><path d="M308.9 176.7L315 169.4M306.8 178.6L308.9 176.7M315 169.4L312.9 171.3" class="m" color="#0d1209"/><path d="M253.6 213.6L255.7 213.9L262.6 207.1L260.6 206.8Z" color="#3b5496"/><path d="M253.6 213.6L255.7 213.9M262.6 207.1L260.6 206.8" class="m" color="#0d1321"/><path d="M342.1 142.3L344.3 141L350 134.6L347.8 135.8Z" color="#905834"/><path d="M342.1 142.3L344.3 141M350 134.6L347.8 135.8" class="m" color="#20130b"/><path d="M283.7 199.3L285.8 198.5L292.2 191.4L290.2 192.3Z" color="#2c4657"/><path d="M285.8 198.5L292.2 191.4M283.7 199.3L285.8 198.5M292.2 191.4L290.2 192.3" class="m" color="#0a0f13"/><path d="M380.4 126.2L382.7 126.5L387.9 121L385.6 120.6Z" color="#cb403e"/><path d="M382.7 126.5L387.9 121M380.4 126.2L382.7 126.5M387.9 121L385.6 120.6" class="m" color="#2d0e0e"/><path d="M329.6 154.1L331.8 152.3L337.7 145.4L335.5 147.2Z" color="#816c30"/><path d="M331.8 152.3L337.7 145.4M329.6 154.1L331.8 152.3M337.7 145.4L335.5 147.2" class="m" color="#1c180b"/><path d="M359 131.7L361.3 131.4L366.8 125.6L364.6 125.8Z" color="#a83735"/><path d="M359 131.7L361.3 131.4M366.8 125.6L364.6 125.8" class="m" color="#250c0c"/><path d="M270.9 207.5L272.9 207.3L279.6 200.3L277.6 200.6Z" color="#314a79"/><path d="M270.9 207.5L272.9 207.3M279.6 200.3L277.6 200.6" class="m" color="#0b101b"/><path d="M296.3 189.1L298.4 187.6L304.7 180.3L302.6 181.9Z" color="#2a4933"/><path d="M296.3 189.1L298.4 187.6M304.7 180.3L302.6 181.9" class="m" color="#09100b"/><path d="M382.7 126.5L385 126.9L390.2 121.4L387.9 121Z" color="#cd403f"/><path d="M387.9 121L382.7 126.5M382.7 126.5L385 126.9M390.2 121.4L387.9 121" class="m" color="#2d0e0e"/><path d="M255.7 213.9L257.8 214.2L264.7 207.3L262.6 207.1Z" color="#3a5393"/><path d="M255.7 213.9L257.8 214.2M264.7 207.3L262.6 207.1" class="m" color="#0d1220"/><path d="M319.3 165.3L321.4 163.2L327.4 156.1L325.3 158.1Z" color="#66682a"/><path d="M319.3 165.3L321.4 163.2M327.4 156.1L325.3 158.1" class="m" color="#161709"/><path d="M385 126.9L387.2 127.4L392.4 121.8L390.2 121.4Z" color="#cf413f"/><path d="M385 126.9L387.2 127.4M392.4 121.8L390.2 121.4" class="m" color="#2e0e0e"/><path d="M344.3 141L346.6 140L352.3 133.6L350 134.6Z" color="#945234"/><path d="M344.3 141L346.6 140M352.3 133.6L350 134.6" class="m" color="#20120b"/><path d="M361.3 131.4L363.6 131.3L369.1 125.4L366.8 125.6Z" color="#ae3937"/><path d="M361.3 131.4L363.6 131.3M369.1 125.4L366.8 125.6" class="m" color="#260c0c"/><path d="M285.8 198.5L287.8 197.6L294.3 190.3L292.2 191.4Z" color="#2a464c"/><path d="M292.2 191.4L285.8 198.5M285.8 198.5L287.8 197.6M294.3 190.3L292.2 191.4" class="m" color="#090f11"/><path d="M272.9 207.3L275 207L281.7 199.9L279.6 200.3Z" color="#2f4872"/><path d="M272.9 207.3L275 207M281.7 199.9L279.6 200.3" class="m" color="#0a1019"/><path d="M257.8 214.2L259.9 214.5L266.8 207.5L264.7 207.3Z" color="#38518e"/><path d="M257.8 214.2L259.9 214.5M266.8 207.5L264.7 207.3" class="m" color="#0c121f"/><path d="M387.2 127.4L389.5 127.8L394.7 122.3L392.4 121.8Z" color="#d14140"/><path d="M387.2 127.4L389.5 127.8M394.7 122.3L392.4 121.8" class="m" color="#2e0e0e"/><path d="M308.9 176.7L311 174.7L317.1 167.4L315 169.4Z" color="#4c5927"/><path d="M315 169.4L308.9 176.7M308.9 176.7L311 174.7M317.1 167.4L315 169.4" class="m" color="#111309"/><path d="M331.8 152.3L334 150.5L339.9 143.8L337.7 145.4Z" color="#876a34"/><path d="M337.7 145.4L331.8 152.3M331.8 152.3L334 150.5M339.9 143.8L337.7 145.4" class="m" color="#1e170b"/><path d="M363.6 131.3L365.8 131.2L371.3 125.4L369.1 125.4Z" color="#b43a39"/><path d="M365.8 131.2L371.3 125.4M363.6 131.3L365.8 131.2M371.3 125.4L369.1 125.4" class="m" color="#280d0c"/><path d="M389.5 127.8L391.8 128.3L397 122.7L394.7 122.3Z" color="#d34140"/><path d="M389.5 127.8L391.8 128.3M397 122.7L394.7 122.3" class="m" color="#2e0e0e"/><path d="M298.4 187.6L300.5 185.9L306.8 178.6L304.7 180.3Z" color="#2d4b2d"/><path d="M298.4 187.6L300.5 185.9M306.8 178.6L304.7 180.3" class="m" color="#0a100a"/><path d="M346.6 140L348.8 139.1L354.5 132.8L352.3 133.6Z" color="#974c35"/><path d="M348.8 139.1L354.5 132.8M346.6 140L348.8 139.1M354.5 132.8L352.3 133.6" class="m" color="#21110c"/><path d="M259.9 214.5L261.9 214.6L268.8 207.6L266.8 207.5Z" color="#364f89"/><path d="M261.9 214.6L268.8 207.6M259.9 214.5L261.9 214.6M268.8 207.6L266.8 207.5" class="m" color="#0c111e"/><path d="M391.8 128.3L394.1 128.8L399.3 123.2L397 122.7Z" color="#d44240"/><path d="M394.1 128.8L399.3 123.2M391.8 128.3L394.1 128.8M399.3 123.2L397 122.7" class="m" color="#2f0e0e"/><path d="M365.8 131.2L368.1 131.3L373.6 125.5L371.3 125.4Z" color="#ba3b3a"/><path d="M371.3 125.4L365.8 131.2M365.8 131.2L368.1 131.3M373.6 125.5L371.3 125.4" class="m" color="#290d0d"/><path d="M275 207L277.1 206.5L283.7 199.3L281.7 199.9Z" color="#2e4767"/><path d="M275 207L277.1 206.5M283.7 199.3L281.7 199.9" class="m" color="#0a1017"/><path d="M321.4 163.2L323.6 161.2L329.6 154.1L327.4 156.1Z" color="#726c2e"/><path d="M321.4 163.2L323.6 161.2M329.6 154.1L327.4 156.1" class="m" color="#19180a"/><path d="M287.8 197.6L289.9 196.4L296.3 189.1L294.3 190.3Z" color="#294741"/><path d="M287.8 197.6L289.9 196.4M296.3 189.1L294.3 190.3" class="m" color="#09100e"/><path d="M334 150.5L336.2 149L342.1 142.3L339.9 143.8Z" color="#8a6234"/><path d="M334 150.5L336.2 149M342.1 142.3L339.9 143.8" class="m" color="#1e160b"/><path d="M368.1 131.3L370.4 131.4L375.8 125.7L373.6 125.5Z" color="#be3d3b"/><path d="M368.1 131.3L370.4 131.4M375.8 125.7L373.6 125.5" class="m" color="#2a0d0d"/><path d="M311 174.7L313.1 172.6L319.3 165.3L317.1 167.4Z" color="#545d28"/><path d="M311 174.7L313.1 172.6M319.3 165.3L317.1 167.4" class="m" color="#131509"/><path d="M261.9 214.6L264 214.6L270.9 207.5L268.8 207.6Z" color="#344d83"/><path d="M268.8 207.6L261.9 214.6M261.9 214.6L264 214.6M270.9 207.5L268.8 207.6" class="m" color="#0c111d"/><path d="M348.8 139.1L351.1 138.4L356.8 132.2L354.5 132.8Z" color="#9c4535"/><path d="M354.5 132.8L348.8 139.1M348.8 139.1L351.1 138.4M356.8 132.2L354.5 132.8" class="m" color="#220f0c"/><path d="M300.5 185.9L302.6 184.1L308.9 176.7L306.8 178.6Z" color="#354e29"/><path d="M302.6 184.1L308.9 176.7M300.5 185.9L302.6 184.1M308.9 176.7L306.8 178.6" class="m" color="#0c1109"/><path d="M277.1 206.5L279.1 205.8L285.8 198.5L283.7 199.3Z" color="#2c465d"/><path d="M279.1 205.8L285.8 198.5M277.1 206.5L279.1 205.8M285.8 198.5L283.7 199.3" class="m" color="#0a0f14"/><path d="M370.4 131.4L372.7 131.6L378.1 125.9L375.8 125.7Z" color="#c33e3c"/><path d="M370.4 131.4L372.7 131.6M378.1 125.9L375.8 125.7" class="m" color="#2b0e0d"/><path d="M351.1 138.4L353.4 137.9L359 131.7L356.8 132.2Z" color="#a03f35"/><path d="M351.1 138.4L353.4 137.9M359 131.7L356.8 132.2" class="m" color="#230e0c"/><path d="M264 214.6L266.1 214.5L272.9 207.3L270.9 207.5Z" color="#324b7c"/><path d="M264 214.6L266.1 214.5M272.9 207.3L270.9 207.5" class="m" color="#0b101b"/><path d="M289.9 196.4L291.9 195L298.4 187.6L296.3 189.1Z" color="#294836"/><path d="M289.9 196.4L291.9 195M298.4 187.6L296.3 189.1" class="m" color="#09100c"/><path d="M323.6 161.2L325.8 159.3L331.8 152.3L329.6 154.1Z" color="#7d6d2f"/><path d="M325.8 159.3L331.8 152.3M323.6 161.2L325.8 159.3M331.8 152.3L329.6 154.1" class="m" color="#1c180a"/><path d="M336.2 149L338.4 147.6L344.3 141L342.1 142.3Z" color="#8e5b34"/><path d="M336.2 149L338.4 147.6M344.3 141L342.1 142.3" class="m" color="#1f140b"/><path d="M372.7 131.6L375 131.9L380.4 126.2L378.1 125.9Z" color="#c73f3d"/><path d="M372.7 131.6L375 131.9M380.4 126.2L378.1 125.9" class="m" color="#2c0e0d"/><path d="M375 131.9L377.3 132.3L382.7 126.5L380.4 126.2Z" color="#ca3f3e"/><path d="M377.3 132.3L382.7 126.5M375 131.9L377.3 132.3M382.7 126.5L380.4 126.2" class="m" color="#2c0e0e"/><path d="M313.1 172.6L315.2 170.6L321.4 163.2L319.3 165.3Z" color="#606429"/><path d="M313.1 172.6L315.2 170.6M321.4 163.2L319.3 165.3" class="m" color="#151609"/><path d="M353.4 137.9L355.6 137.5L361.3 131.4L359 131.7Z" color="#a53935"/><path d="M353.4 137.9L355.6 137.5M361.3 131.4L359 131.7" class="m" color="#240c0c"/><path d="M279.1 205.8L281.2 205L287.8 197.6L285.8 198.5Z" color="#2b4651"/><path d="M285.8 198.5L279.1 205.8M279.1 205.8L281.2 205M287.8 197.6L285.8 198.5" class="m" color="#090f12"/><path d="M266.1 214.5L268.2 214.3L275 207L272.9 207.3Z" color="#304975"/><path d="M266.1 214.5L268.2 214.3M275 207L272.9 207.3" class="m" color="#0b101a"/><path d="M302.6 184.1L304.7 182.2L311 174.7L308.9 176.7Z" color="#435428"/><path d="M308.9 176.7L302.6 184.1M302.6 184.1L304.7 182.2M311 174.7L308.9 176.7" class="m" color="#0f1309"/><path d="M377.3 132.3L379.6 132.6L385 126.9L382.7 126.5Z" color="#cc403f"/><path d="M382.7 126.5L377.3 132.3M377.3 132.3L379.6 132.6M385 126.9L382.7 126.5" class="m" color="#2d0e0e"/><path d="M338.4 147.6L340.7 146.5L346.6 140L344.3 141Z" color="#925534"/><path d="M338.4 147.6L340.7 146.5M346.6 140L344.3 141" class="m" color="#20130b"/><path d="M291.9 195L294 193.5L300.5 185.9L298.4 187.6Z" color="#2b4a2f"/><path d="M291.9 195L294 193.5M300.5 185.9L298.4 187.6" class="m" color="#0a100a"/><path d="M325.8 159.3L328 157.5L334 150.5L331.8 152.3Z" color="#846b33"/><path d="M331.8 152.3L325.8 159.3M325.8 159.3L328 157.5M334 150.5L331.8 152.3" class="m" color="#1d180b"/><path d="M355.6 137.5L357.9 137.3L363.6 131.3L361.3 131.4Z" color="#ab3836"/><path d="M355.6 137.5L357.9 137.3M363.6 131.3L361.3 131.4" class="m" color="#260c0c"/><path d="M379.6 132.6L381.9 133.1L387.2 127.4L385 126.9Z" color="#cf413f"/><path d="M379.6 132.6L381.9 133.1M387.2 127.4L385 126.9" class="m" color="#2d0e0e"/><path d="M268.2 214.3L270.2 213.8L277.1 206.5L275 207Z" color="#2e476c"/><path d="M268.2 214.3L270.2 213.8M277.1 206.5L275 207" class="m" color="#0a1018"/><path d="M381.9 133.1L384.2 133.5L389.5 127.8L387.2 127.4Z" color="#d04140"/><path d="M381.9 133.1L384.2 133.5M389.5 127.8L387.2 127.4" class="m" color="#2e0e0e"/><path d="M281.2 205L283.3 203.9L289.9 196.4L287.8 197.6Z" color="#2a4646"/><path d="M281.2 205L283.3 203.9M289.9 196.4L287.8 197.6" class="m" color="#090f0f"/><path d="M357.9 137.3L360.2 137.2L365.8 131.2L363.6 131.3Z" color="#b13a38"/><path d="M360.2 137.2L365.8 131.2M357.9 137.3L360.2 137.2M365.8 131.2L363.6 131.3" class="m" color="#270d0c"/><path d="M315.2 170.6L317.4 168.5L323.6 161.2L321.4 163.2Z" color="#6d6a2c"/><path d="M315.2 170.6L317.4 168.5M323.6 161.2L321.4 163.2" class="m" color="#18170a"/><path d="M340.7 146.5L343 145.5L348.8 139.1L346.6 140Z" color="#954f35"/><path d="M343 145.5L348.8 139.1M340.7 146.5L343 145.5M348.8 139.1L346.6 140" class="m" color="#21110c"/><path d="M384.2 133.5L386.6 134L391.8 128.3L389.5 127.8Z" color="#d24140"/><path d="M384.2 133.5L386.6 134M391.8 128.3L389.5 127.8" class="m" color="#2e0e0e"/><path d="M304.7 182.2L306.8 180.2L313.1 172.6L311 174.7Z" color="#515b27"/><path d="M304.7 182.2L306.8 180.2M313.1 172.6L311 174.7" class="m" color="#121409"/><path d="M328 157.5L330.2 155.9L336.2 149L334 150.5Z" color="#896534"/><path d="M328 157.5L330.2 155.9M336.2 149L334 150.5" class="m" color="#1e160b"/><path d="M360.2 137.2L362.5 137.2L368.1 131.3L365.8 131.2Z" color="#b73b39"/><path d="M365.8 131.2L360.2 137.2M360.2 137.2L362.5 137.2M368.1 131.3L365.8 131.2" class="m" color="#280d0d"/><path d="M386.6 134L388.9 134.5L394.1 128.8L391.8 128.3Z" color="#d34240"/><path d="M388.9 134.5L394.1 128.8M386.6 134L388.9 134.5M394.1 128.8L391.8 128.3" class="m" color="#2e0e0e"/><path d="M294 193.5L296.1 191.7L302.6 184.1L300.5 185.9Z" color="#314d2b"/><path d="M296.1 191.7L302.6 184.1M294 193.5L296.1 191.7M302.6 184.1L300.5 185.9" class="m" color="#0b1109"/><path d="M270.2 213.8L272.3 213.3L279.1 205.8L277.1 206.5Z" color="#2d4661"/><path d="M272.3 213.3L279.1 205.8M270.2 213.8L272.3 213.3M279.1 205.8L277.1 206.5" class="m" color="#0a0f15"/><path d="M343 145.5L345.2 144.8L351.1 138.4L348.8 139.1Z" color="#9a4835"/><path d="M348.8 139.1L343 145.5M343 145.5L345.2 144.8M351.1 138.4L348.8 139.1" class="m" color="#22100c"/><path d="M283.3 203.9L285.3 202.6L291.9 195L289.9 196.4Z" color="#29473b"/><path d="M283.3 203.9L285.3 202.6M291.9 195L289.9 196.4" class="m" color="#09100d"/><path d="M362.5 137.2L364.8 137.3L370.4 131.4L368.1 131.3Z" color="#bc3c3b"/><path d="M362.5 137.2L364.8 137.3M370.4 131.4L368.1 131.3" class="m" color="#290d0d"/><path d="M317.4 168.5L319.6 166.6L325.8 159.3L323.6 161.2Z" color="#786c2e"/><path d="M319.6 166.6L325.8 159.3M317.4 168.5L319.6 166.6M325.8 159.3L323.6 161.2" class="m" color="#1a180a"/><path d="M364.8 137.3L367.1 137.5L372.7 131.6L370.4 131.4Z" color="#c13d3c"/><path d="M364.8 137.3L367.1 137.5M372.7 131.6L370.4 131.4" class="m" color="#2a0d0d"/><path d="M330.2 155.9L332.4 154.5L338.4 147.6L336.2 149Z" color="#8c5e34"/><path d="M330.2 155.9L332.4 154.5M338.4 147.6L336.2 149" class="m" color="#1f150b"/><path d="M345.2 144.8L347.5 144.2L353.4 137.9L351.1 138.4Z" color="#9e4235"/><path d="M345.2 144.8L347.5 144.2M353.4 137.9L351.1 138.4" class="m" color="#230e0c"/><path d="M272.3 213.3L274.4 212.5L281.2 205L279.1 205.8Z" color="#2b4656"/><path d="M279.1 205.8L272.3 213.3M272.3 213.3L274.4 212.5M281.2 205L279.1 205.8" class="m" color="#0a0f13"/><path d="M306.8 180.2L308.9 178.1L315.2 170.6L313.1 172.6Z" color="#5a6128"/><path d="M306.8 180.2L308.9 178.1M315.2 170.6L313.1 172.6" class="m" color="#141509"/><path d="M296.1 191.7L298.2 189.8L304.7 182.2L302.6 184.1Z" color="#3b5128"/><path d="M302.6 184.1L296.1 191.7M296.1 191.7L298.2 189.8M304.7 182.2L302.6 184.1" class="m" color="#0d1209"/><path d="M367.1 137.5L369.5 137.8L375 131.9L372.7 131.6Z" color="#c53e3d"/><path d="M367.1 137.5L369.5 137.8M375 131.9L372.7 131.6" class="m" color="#2b0e0d"/><path d="M285.3 202.6L287.4 201.1L294 193.5L291.9 195Z" color="#2a4932"/><path d="M285.3 202.6L287.4 201.1M294 193.5L291.9 195" class="m" color="#09100b"/><path d="M347.5 144.2L349.8 143.8L355.6 137.5L353.4 137.9Z" color="#a33b35"/><path d="M347.5 144.2L349.8 143.8M355.6 137.5L353.4 137.9" class="m" color="#240d0c"/><path d="M369.5 137.8L371.8 138.1L377.3 132.3L375 131.9Z" color="#c83f3e"/><path d="M371.8 138.1L377.3 132.3M369.5 137.8L371.8 138.1M377.3 132.3L375 131.9" class="m" color="#2c0e0e"/><path d="M319.6 166.6L321.8 164.7L328 157.5L325.8 159.3Z" color="#816c31"/><path d="M325.8 159.3L319.6 166.6M319.6 166.6L321.8 164.7M328 157.5L325.8 159.3" class="m" color="#1c180b"/><path d="M332.4 154.5L334.7 153.2L340.7 146.5L338.4 147.6Z" color="#915734"/><path d="M332.4 154.5L334.7 153.2M340.7 146.5L338.4 147.6" class="m" color="#20130b"/><path d="M274.4 212.5L276.5 211.5L283.3 203.9L281.2 205Z" color="#2a464b"/><path d="M274.4 212.5L276.5 211.5M283.3 203.9L281.2 205" class="m" color="#090f10"/><path d="M371.8 138.1L374.1 138.5L379.6 132.6L377.3 132.3Z" color="#cb403e"/><path d="M377.3 132.3L371.8 138.1M371.8 138.1L374.1 138.5M379.6 132.6L377.3 132.3" class="m" color="#2d0e0e"/><path d="M349.8 143.8L352.1 143.5L357.9 137.3L355.6 137.5Z" color="#a83736"/><path d="M349.8 143.8L352.1 143.5M357.9 137.3L355.6 137.5" class="m" color="#250c0c"/><path d="M308.9 178.1L311.1 176L317.4 168.5L315.2 170.6Z" color="#67682b"/><path d="M308.9 178.1L311.1 176M317.4 168.5L315.2 170.6" class="m" color="#171709"/><path d="M374.1 138.5L376.5 138.9L381.9 133.1L379.6 132.6Z" color="#ce403f"/><path d="M374.1 138.5L376.5 138.9M381.9 133.1L379.6 132.6" class="m" color="#2d0e0e"/><path d="M298.2 189.8L300.3 187.9L306.8 180.2L304.7 182.2Z" color="#4e5927"/><path d="M298.2 189.8L300.3 187.9M306.8 180.2L304.7 182.2" class="m" color="#111409"/><path d="M334.7 153.2L337 152.2L343 145.5L340.7 146.5Z" color="#945134"/><path d="M337 152.2L343 145.5M334.7 153.2L337 152.2M343 145.5L340.7 146.5" class="m" color="#21120c"/><path d="M287.4 201.1L289.5 199.5L296.1 191.7L294 193.5Z" color="#2e4b2c"/><path d="M289.5 199.5L296.1 191.7M287.4 201.1L289.5 199.5M296.1 191.7L294 193.5" class="m" color="#0a100a"/><path d="M352.1 143.5L354.5 143.4L360.2 137.2L357.9 137.3Z" color="#af3937"/><path d="M354.5 143.4L360.2 137.2M352.1 143.5L354.5 143.4M360.2 137.2L357.9 137.3" class="m" color="#260d0c"/><path d="M376.5 138.9L378.8 139.4L384.2 133.5L381.9 133.1Z" color="#d0413f"/><path d="M376.5 138.9L378.8 139.4M384.2 133.5L381.9 133.1" class="m" color="#2e0e0e"/><path d="M321.8 164.7L324 163L330.2 155.9L328 157.5Z" color="#876934"/><path d="M321.8 164.7L324 163M330.2 155.9L328 157.5" class="m" color="#1e170b"/><path d="M276.5 211.5L278.5 210.4L285.3 202.6L283.3 203.9Z" color="#294740"/><path d="M276.5 211.5L278.5 210.4M285.3 202.6L283.3 203.9" class="m" color="#09100e"/><path d="M378.8 139.4L381.1 139.9L386.6 134L384.2 133.5Z" color="#d14140"/><path d="M378.8 139.4L381.1 139.9M386.6 134L384.2 133.5" class="m" color="#2e0e0e"/><path d="M354.5 143.4L356.8 143.3L362.5 137.2L360.2 137.2Z" color="#b53a39"/><path d="M360.2 137.2L354.5 143.4M354.5 143.4L356.8 143.3M362.5 137.2L360.2 137.2" class="m" color="#280d0c"/><path d="M337 152.2L339.3 151.3L345.2 144.8L343 145.5Z" color="#974b35"/><path d="M343 145.5L337 152.2M337 152.2L339.3 151.3M345.2 144.8L343 145.5" class="m" color="#21110c"/><path d="M311.1 176L313.3 174L319.6 166.6L317.4 168.5Z" color="#736c2e"/><path d="M313.3 174L319.6 166.6M311.1 176L313.3 174M319.6 166.6L317.4 168.5" class="m" color="#19180a"/><path d="M381.1 139.9L383.5 140.4L388.9 134.5L386.6 134Z" color="#d34140"/><path d="M383.5 140.4L388.9 134.5M381.1 139.9L383.5 140.4M388.9 134.5L386.6 134" class="m" color="#2e0e0e"/><path d="M300.3 187.9L302.5 185.8L308.9 178.1L306.8 180.2Z" color="#555e28"/><path d="M300.3 187.9L302.5 185.8M308.9 178.1L306.8 180.2" class="m" color="#131509"/><path d="M356.8 143.3L359.1 143.4L364.8 137.3L362.5 137.2Z" color="#ba3c3a"/><path d="M356.8 143.3L359.1 143.4M364.8 137.3L362.5 137.2" class="m" color="#290d0d"/><path d="M289.5 199.5L291.6 197.7L298.2 189.8L296.1 191.7Z" color="#364f29"/><path d="M296.1 191.7L289.5 199.5M289.5 199.5L291.6 197.7M298.2 189.8L296.1 191.7" class="m" color="#0c1109"/><path d="M324 163L326.3 161.5L332.4 154.5L330.2 155.9Z" color="#8a6134"/><path d="M324 163L326.3 161.5M332.4 154.5L330.2 155.9" class="m" color="#1e150b"/><path d="M278.5 210.4L280.6 209L287.4 201.1L285.3 202.6Z" color="#294835"/><path d="M278.5 210.4L280.6 209M287.4 201.1L285.3 202.6" class="m" color="#09100c"/><path d="M339.3 151.3L341.6 150.7L347.5 144.2L345.2 144.8Z" color="#9c4535"/><path d="M339.3 151.3L341.6 150.7M347.5 144.2L345.2 144.8" class="m" color="#220f0c"/><path d="M359.1 143.4L361.4 143.6L367.1 137.5L364.8 137.3Z" color="#bf3d3b"/><path d="M359.1 143.4L361.4 143.6M367.1 137.5L364.8 137.3" class="m" color="#2a0d0d"/><path d="M313.3 174L315.5 172.1L321.8 164.7L319.6 166.6Z" color="#7e6d2f"/><path d="M319.6 166.6L313.3 174M313.3 174L315.5 172.1M321.8 164.7L319.6 166.6" class="m" color="#1c180a"/><path d="M361.4 143.6L363.8 143.9L369.5 137.8L367.1 137.5Z" color="#c33e3c"/><path d="M361.4 143.6L363.8 143.9M369.5 137.8L367.1 137.5" class="m" color="#2b0e0d"/><path d="M326.3 161.5L328.5 160.2L334.7 153.2L332.4 154.5Z" color="#8e5a34"/><path d="M326.3 161.5L328.5 160.2M334.7 153.2L332.4 154.5" class="m" color="#1f140b"/><path d="M341.6 150.7L343.9 150.2L349.8 143.8L347.5 144.2Z" color="#a13e35"/><path d="M341.6 150.7L343.9 150.2M349.8 143.8L347.5 144.2" class="m" color="#230e0c"/><path d="M302.5 185.8L304.6 183.7L311.1 176L308.9 178.1Z" color="#616529"/><path d="M302.5 185.8L304.6 183.7M311.1 176L308.9 178.1" class="m" color="#151609"/><path d="M291.6 197.7L293.7 195.7L300.3 187.9L298.2 189.8Z" color="#455527"/><path d="M291.6 197.7L293.7 195.7M300.3 187.9L298.2 189.8" class="m" color="#0f1309"/><path d="M363.8 143.9L366.1 144.2L371.8 138.1L369.5 137.8Z" color="#c73f3d"/><path d="M366.1 144.2L371.8 138.1M363.8 143.9L366.1 144.2M371.8 138.1L369.5 137.8" class="m" color="#2c0e0d"/><path d="M280.6 209L282.7 207.4L289.5 199.5L287.4 201.1Z" color="#2c4a2f"/><path d="M282.7 207.4L289.5 199.5M280.6 209L282.7 207.4M289.5 199.5L287.4 201.1" class="m" color="#0a100a"/><path d="M343.9 150.2L346.2 149.9L352.1 143.5L349.8 143.8Z" color="#a63835"/><path d="M343.9 150.2L346.2 149.9M352.1 143.5L349.8 143.8" class="m" color="#240c0c"/><path d="M366.1 144.2L368.5 144.6L374.1 138.5L371.8 138.1Z" color="#ca3f3e"/><path d="M371.8 138.1L366.1 144.2M366.1 144.2L368.5 144.6M374.1 138.5L371.8 138.1" class="m" color="#2c0e0e"/><path d="M328.5 160.2L330.8 159.1L337 152.2L334.7 153.2Z" color="#925434"/><path d="M330.8 159.1L337 152.2M328.5 160.2L330.8 159.1M337 152.2L334.7 153.2" class="m" color="#20120b"/><path d="M315.5 172.1L317.7 170.4L324 163L321.8 164.7Z" color="#856b33"/><path d="M315.5 172.1L317.7 170.4M324 163L321.8 164.7" class="m" color="#1d180b"/><path d="M368.5 144.6L370.8 145L376.5 138.9L374.1 138.5Z" color="#cd403f"/><path d="M368.5 144.6L370.8 145M376.5 138.9L374.1 138.5" class="m" color="#2d0e0e"/><path d="M346.2 149.9L348.5 149.7L354.5 143.4L352.1 143.5Z" color="#ac3836"/><path d="M348.5 149.7L354.5 143.4M346.2 149.9L348.5 149.7M354.5 143.4L352.1 143.5" class="m" color="#260c0c"/><path d="M304.6 183.7L306.8 181.7L313.3 174L311.1 176Z" color="#6e6b2c"/><path d="M306.8 181.7L313.3 174M304.6 183.7L306.8 181.7M313.3 174L311.1 176" class="m" color="#18170a"/><path d="M370.8 145L373.2 145.5L378.8 139.4L376.5 138.9Z" color="#cf413f"/><path d="M370.8 145L373.2 145.5M378.8 139.4L376.5 138.9" class="m" color="#2d0e0e"/><path d="M293.7 195.7L295.8 193.7L302.5 185.8L300.3 187.9Z" color="#525c27"/><path d="M293.7 195.7L295.8 193.7M302.5 185.8L300.3 187.9" class="m" color="#121409"/><path d="M282.7 207.4L284.8 205.7L291.6 197.7L289.5 199.5Z" color="#324d2b"/><path d="M289.5 199.5L282.7 207.4M282.7 207.4L284.8 205.7M291.6 197.7L289.5 199.5" class="m" color="#0b1109"/><path d="M330.8 159.1L333.1 158.1L339.3 151.3L337 152.2Z" color="#964e35"/><path d="M337 152.2L330.8 159.1M330.8 159.1L333.1 158.1M339.3 151.3L337 152.2" class="m" color="#21110c"/><path d="M373.2 145.5L375.6 146L381.1 139.9L378.8 139.4Z" color="#d14140"/><path d="M373.2 145.5L375.6 146M381.1 139.9L378.8 139.4" class="m" color="#2e0e0e"/><path d="M348.5 149.7L350.9 149.7L356.8 143.3L354.5 143.4Z" color="#b23a38"/><path d="M354.5 143.4L348.5 149.7M348.5 149.7L350.9 149.7M356.8 143.3L354.5 143.4" class="m" color="#270d0c"/><path d="M317.7 170.4L319.9 168.8L326.3 161.5L324 163Z" color="#896534"/><path d="M317.7 170.4L319.9 168.8M326.3 161.5L324 163" class="m" color="#1e160b"/><path d="M375.6 146L378 146.5L383.5 140.4L381.1 139.9Z" color="#d24140"/><path d="M378 146.5L383.5 140.4M375.6 146L378 146.5M383.5 140.4L381.1 139.9" class="m" color="#2e0e0e"/><path d="M350.9 149.7L353.2 149.7L359.1 143.4L356.8 143.3Z" color="#b83b39"/><path d="M350.9 149.7L353.2 149.7M359.1 143.4L356.8 143.3" class="m" color="#280d0d"/><path d="M333.1 158.1L335.4 157.4L341.6 150.7L339.3 151.3Z" color="#9a4835"/><path d="M333.1 158.1L335.4 157.4M341.6 150.7L339.3 151.3" class="m" color="#22100c"/><path d="M306.8 181.7L309 179.8L315.5 172.1L313.3 174Z" color="#796d2e"/><path d="M313.3 174L306.8 181.7M306.8 181.7L309 179.8M315.5 172.1L313.3 174" class="m" color="#1b180a"/><path d="M353.2 149.7L355.6 149.9L361.4 143.6L359.1 143.4Z" color="#bd3c3b"/><path d="M353.2 149.7L355.6 149.9M361.4 143.6L359.1 143.4" class="m" color="#2a0d0d"/><path d="M295.8 193.7L298 191.6L304.6 183.7L302.5 185.8Z" color="#5b6129"/><path d="M295.8 193.7L298 191.6M304.6 183.7L302.5 185.8" class="m" color="#141509"/><path d="M284.8 205.7L286.9 203.8L293.7 195.7L291.6 197.7Z" color="#3d5228"/><path d="M284.8 205.7L286.9 203.8M293.7 195.7L291.6 197.7" class="m" color="#0d1209"/><path d="M319.9 168.8L322.2 167.4L328.5 160.2L326.3 161.5Z" color="#8c5d34"/><path d="M319.9 168.8L322.2 167.4M328.5 160.2L326.3 161.5" class="m" color="#1f150b"/><path d="M335.4 157.4L337.8 156.9L343.9 150.2L341.6 150.7Z" color="#9f4135"/><path d="M335.4 157.4L337.8 156.9M343.9 150.2L341.6 150.7" class="m" color="#230e0c"/><path d="M355.6 149.9L357.9 150.1L363.8 143.9L361.4 143.6Z" color="#c13d3c"/><path d="M355.6 149.9L357.9 150.1M363.8 143.9L361.4 143.6" class="m" color="#2b0e0d"/><path d="M357.9 150.1L360.3 150.4L366.1 144.2L363.8 143.9Z" color="#c53e3d"/><path d="M360.3 150.4L366.1 144.2M357.9 150.1L360.3 150.4M366.1 144.2L363.8 143.9" class="m" color="#2b0e0d"/><path d="M309 179.8L311.2 177.9L317.7 170.4L315.5 172.1Z" color="#826c31"/><path d="M309 179.8L311.2 177.9M317.7 170.4L315.5 172.1" class="m" color="#1d180b"/><path d="M337.8 156.9L340.1 156.5L346.2 149.9L343.9 150.2Z" color="#a33b35"/><path d="M337.8 156.9L340.1 156.5M346.2 149.9L343.9 150.2" class="m" color="#240d0c"/><path d="M322.2 167.4L324.5 166.2L330.8 159.1L328.5 160.2Z" color="#915734"/><path d="M324.5 166.2L330.8 159.1M322.2 167.4L324.5 166.2M330.8 159.1L328.5 160.2" class="m" color="#20130b"/><path d="M298 191.6L300.1 189.6L306.8 181.7L304.6 183.7Z" color="#68692b"/><path d="M300.1 189.6L306.8 181.7M298 191.6L300.1 189.6M306.8 181.7L304.6 183.7" class="m" color="#171709"/><path d="M360.3 150.4L362.7 150.8L368.5 144.6L366.1 144.2Z" color="#c93f3e"/><path d="M366.1 144.2L360.3 150.4M360.3 150.4L362.7 150.8M368.5 144.6L366.1 144.2" class="m" color="#2c0e0e"/><path d="M286.9 203.8L289 201.8L295.8 193.7L293.7 195.7Z" color="#4f5a27"/><path d="M286.9 203.8L289 201.8M295.8 193.7L293.7 195.7" class="m" color="#111409"/><path d="M362.7 150.8L365.1 151.2L370.8 145L368.5 144.6Z" color="#cb403e"/><path d="M362.7 150.8L365.1 151.2M370.8 145L368.5 144.6" class="m" color="#2d0e0e"/><path d="M340.1 156.5L342.4 156.3L348.5 149.7L346.2 149.9Z" color="#a93736"/><path d="M342.4 156.3L348.5 149.7M340.1 156.5L342.4 156.3M348.5 149.7L346.2 149.9" class="m" color="#250c0c"/><path d="M324.5 166.2L326.8 165.2L333.1 158.1L330.8 159.1Z" color="#945134"/><path d="M330.8 159.1L324.5 166.2M324.5 166.2L326.8 165.2M333.1 158.1L330.8 159.1" class="m" color="#21120c"/><path d="M311.2 177.9L313.5 176.3L319.9 168.8L317.7 170.4Z" color="#886834"/><path d="M311.2 177.9L313.5 176.3M319.9 168.8L317.7 170.4" class="m" color="#1e170b"/><path d="M365.1 151.2L367.5 151.7L373.2 145.5L370.8 145Z" color="#ce403f"/><path d="M365.1 151.2L367.5 151.7M373.2 145.5L370.8 145" class="m" color="#2d0e0e"/><path d="M342.4 156.3L344.8 156.2L350.9 149.7L348.5 149.7Z" color="#af3937"/><path d="M348.5 149.7L342.4 156.3M342.4 156.3L344.8 156.2M350.9 149.7L348.5 149.7" class="m" color="#270d0c"/><path d="M367.5 151.7L369.8 152.2L375.6 146L373.2 145.5Z" color="#d0413f"/><path d="M367.5 151.7L369.8 152.2M375.6 146L373.2 145.5" class="m" color="#2e0e0e"/><path d="M300.1 189.6L302.3 187.6L309 179.8L306.8 181.7Z" color="#756c2e"/><path d="M306.8 181.7L300.1 189.6M300.1 189.6L302.3 187.6M309 179.8L306.8 181.7" class="m" color="#1a180a"/><path d="M289 201.8L291.2 199.8L298 191.6L295.8 193.7Z" color="#565e28"/><path d="M289 201.8L291.2 199.8M298 191.6L295.8 193.7" class="m" color="#131509"/><path d="M369.8 152.2L372.3 152.7L378 146.5L375.6 146Z" color="#d24140"/><path d="M372.3 152.7L378 146.5M369.8 152.2L372.3 152.7M378 146.5L375.6 146" class="m" color="#2e0e0e"/><path d="M344.8 156.2L347.2 156.2L353.2 149.7L350.9 149.7Z" color="#b53a39"/><path d="M344.8 156.2L347.2 156.2M353.2 149.7L350.9 149.7" class="m" color="#280d0d"/><path d="M326.8 165.2L329.1 164.4L335.4 157.4L333.1 158.1Z" color="#984b35"/><path d="M326.8 165.2L329.1 164.4M335.4 157.4L333.1 158.1" class="m" color="#21100c"/><path d="M313.5 176.3L315.7 174.8L322.2 167.4L319.9 168.8Z" color="#8b6134"/><path d="M313.5 176.3L315.7 174.8M322.2 167.4L319.9 168.8" class="m" color="#1f150b"/><path d="M347.2 156.2L349.5 156.3L355.6 149.9L353.2 149.7Z" color="#bb3c3a"/><path d="M347.2 156.2L349.5 156.3M355.6 149.9L353.2 149.7" class="m" color="#290d0d"/><path d="M329.1 164.4L331.5 163.7L337.8 156.9L335.4 157.4Z" color="#9d4435"/><path d="M329.1 164.4L331.5 163.7M337.8 156.9L335.4 157.4" class="m" color="#220f0c"/><path d="M302.3 187.6L304.6 185.7L311.2 177.9L309 179.8Z" color="#7f6d2f"/><path d="M302.3 187.6L304.6 185.7M311.2 177.9L309 179.8" class="m" color="#1c180a"/><path d="M349.5 156.3L351.9 156.5L357.9 150.1L355.6 149.9Z" color="#bf3d3b"/><path d="M349.5 156.3L351.9 156.5M357.9 150.1L355.6 149.9" class="m" color="#2a0d0d"/><path d="M291.2 199.8L293.3 197.7L300.1 189.6L298 191.6Z" color="#63662a"/><path d="M293.3 197.7L300.1 189.6M291.2 199.8L293.3 197.7M300.1 189.6L298 191.6" class="m" color="#161609"/><path d="M315.7 174.8L318 173.5L324.5 166.2L322.2 167.4Z" color="#8f5a34"/><path d="M318 173.5L324.5 166.2M315.7 174.8L318 173.5M324.5 166.2L322.2 167.4" class="m" color="#1f140b"/><path d="M351.9 156.5L354.3 156.8L360.3 150.4L357.9 150.1Z" color="#c43e3c"/><path d="M354.3 156.8L360.3 150.4M351.9 156.5L354.3 156.8M360.3 150.4L357.9 150.1" class="m" color="#2b0e0d"/><path d="M331.5 163.7L333.8 163.3L340.1 156.5L337.8 156.9Z" color="#a13d35"/><path d="M331.5 163.7L333.8 163.3M340.1 156.5L337.8 156.9" class="m" color="#230e0c"/><path d="M354.3 156.8L356.7 157.2L362.7 150.8L360.3 150.4Z" color="#c73f3d"/><path d="M360.3 150.4L354.3 156.8M354.3 156.8L356.7 157.2M362.7 150.8L360.3 150.4" class="m" color="#2c0e0d"/><path d="M304.6 185.7L306.8 184L313.5 176.3L311.2 177.9Z" color="#866b34"/><path d="M304.6 185.7L306.8 184M313.5 176.3L311.2 177.9" class="m" color="#1d180b"/><path d="M333.8 163.3L336.2 163L342.4 156.3L340.1 156.5Z" color="#a63735"/><path d="M336.2 163L342.4 156.3M333.8 163.3L336.2 163M342.4 156.3L340.1 156.5" class="m" color="#250c0c"/><path d="M318 173.5L320.3 172.4L326.8 165.2L324.5 166.2Z" color="#935334"/><path d="M324.5 166.2L318 173.5M318 173.5L320.3 172.4M326.8 165.2L324.5 166.2" class="m" color="#20120b"/><path d="M356.7 157.2L359.1 157.6L365.1 151.2L362.7 150.8Z" color="#ca3f3e"/><path d="M356.7 157.2L359.1 157.6M365.1 151.2L362.7 150.8" class="m" color="#2c0e0e"/><path d="M293.3 197.7L295.5 195.7L302.3 187.6L300.1 189.6Z" color="#6f6b2d"/><path d="M300.1 189.6L293.3 197.7M293.3 197.7L295.5 195.7M302.3 187.6L300.1 189.6" class="m" color="#18180a"/><path d="M359.1 157.6L361.5 158.1L367.5 151.7L365.1 151.2Z" color="#cd403f"/><path d="M359.1 157.6L361.5 158.1M367.5 151.7L365.1 151.2" class="m" color="#2d0e0e"/><path d="M336.2 163L338.6 162.9L344.8 156.2L342.4 156.3Z" color="#ac3837"/><path d="M342.4 156.3L336.2 163M336.2 163L338.6 162.9M344.8 156.2L342.4 156.3" class="m" color="#260c0c"/><path d="M361.5 158.1L364 158.6L369.8 152.2L367.5 151.7Z" color="#cf413f"/><path d="M361.5 158.1L364 158.6M369.8 152.2L367.5 151.7" class="m" color="#2e0e0e"/><path d="M320.3 172.4L322.7 171.5L329.1 164.4L326.8 165.2Z" color="#964d35"/><path d="M320.3 172.4L322.7 171.5M329.1 164.4L326.8 165.2" class="m" color="#21110c"/><path d="M306.8 184L309.1 182.4L315.7 174.8L313.5 176.3Z" color="#896434"/><path d="M306.8 184L309.1 182.4M315.7 174.8L313.5 176.3" class="m" color="#1e160b"/><path d="M338.6 162.9L341 162.9L347.2 156.2L344.8 156.2Z" color="#b33a38"/><path d="M338.6 162.9L341 162.9M347.2 156.2L344.8 156.2" class="m" color="#270d0c"/><path d="M364 158.6L366.4 159.1L372.3 152.7L369.8 152.2Z" color="#d14140"/><path d="M366.4 159.1L372.3 152.7M364 158.6L366.4 159.1M372.3 152.7L369.8 152.2" class="m" color="#2e0e0e"/><path d="M295.5 195.7L297.7 193.8L304.6 185.7L302.3 187.6Z" color="#7b6d2f"/><path d="M295.5 195.7L297.7 193.8M304.6 185.7L302.3 187.6" class="m" color="#1b180a"/><path d="M341 162.9L343.3 163L349.5 156.3L347.2 156.2Z" color="#b83b3a"/><path d="M341 162.9L343.3 163M349.5 156.3L347.2 156.2" class="m" color="#290d0d"/><path d="M322.7 171.5L325 170.8L331.5 163.7L329.1 164.4Z" color="#9a4735"/><path d="M322.7 171.5L325 170.8M331.5 163.7L329.1 164.4" class="m" color="#22100c"/><path d="M309.1 182.4L311.4 181.1L318 173.5L315.7 174.8Z" color="#8d5c34"/><path d="M311.4 181.1L318 173.5M309.1 182.4L311.4 181.1M318 173.5L315.7 174.8" class="m" color="#1f140b"/><path d="M343.3 163L345.8 163.2L351.9 156.5L349.5 156.3Z" color="#bd3c3b"/><path d="M343.3 163L345.8 163.2M351.9 156.5L349.5 156.3" class="m" color="#2a0d0d"/><path d="M325 170.8L327.4 170.3L333.8 163.3L331.5 163.7Z" color="#9f4035"/><path d="M325 170.8L327.4 170.3M333.8 163.3L331.5 163.7" class="m" color="#230e0c"/><path d="M345.8 163.2L348.2 163.4L354.3 156.8L351.9 156.5Z" color="#c23d3c"/><path d="M348.2 163.4L354.3 156.8M345.8 163.2L348.2 163.4M354.3 156.8L351.9 156.5" class="m" color="#2b0e0d"/><path d="M297.7 193.8L300 192L306.8 184L304.6 185.7Z" color="#826b32"/><path d="M297.7 193.8L300 192M306.8 184L304.6 185.7" class="m" color="#1d180b"/><path d="M311.4 181.1L313.7 179.9L320.3 172.4L318 173.5Z" color="#915634"/><path d="M318 173.5L311.4 181.1M311.4 181.1L313.7 179.9M320.3 172.4L318 173.5" class="m" color="#20130b"/><path d="M348.2 163.4L350.6 163.8L356.7 157.2L354.3 156.8Z" color="#c63e3d"/><path d="M354.3 156.8L348.2 163.4M348.2 163.4L350.6 163.8M356.7 157.2L354.3 156.8" class="m" color="#2b0e0d"/><path d="M327.4 170.3L329.8 170L336.2 163L333.8 163.3Z" color="#a43a35"/><path d="M329.8 170L336.2 163M327.4 170.3L329.8 170M336.2 163L333.8 163.3" class="m" color="#240d0c"/><path d="M350.6 163.8L353 164.2L359.1 157.6L356.7 157.2Z" color="#c93f3e"/><path d="M350.6 163.8L353 164.2M359.1 157.6L356.7 157.2" class="m" color="#2c0e0e"/><path d="M329.8 170L332.2 169.8L338.6 162.9L336.2 163Z" color="#aa3836"/><path d="M336.2 163L329.8 170M329.8 170L332.2 169.8M338.6 162.9L336.2 163" class="m" color="#250c0c"/><path d="M300 192L302.2 190.3L309.1 182.4L306.8 184Z" color="#886734"/><path d="M300 192L302.2 190.3M309.1 182.4L306.8 184" class="m" color="#1e170b"/><path d="M353 164.2L355.5 164.7L361.5 158.1L359.1 157.6Z" color="#cc403e"/><path d="M353 164.2L355.5 164.7M361.5 158.1L359.1 157.6" class="m" color="#2d0e0e"/><path d="M313.7 179.9L316 178.9L322.7 171.5L320.3 172.4Z" color="#945034"/><path d="M313.7 179.9L316 178.9M322.7 171.5L320.3 172.4" class="m" color="#21120c"/><path d="M355.5 164.7L357.9 165.2L364 158.6L361.5 158.1Z" color="#ce403f"/><path d="M355.5 164.7L357.9 165.2M364 158.6L361.5 158.1" class="m" color="#2d0e0e"/><path d="M332.2 169.8L334.6 169.7L341 162.9L338.6 162.9Z" color="#b03937"/><path d="M332.2 169.8L334.6 169.7M341 162.9L338.6 162.9" class="m" color="#270d0c"/><path d="M357.9 165.2L360.4 165.7L366.4 159.1L364 158.6Z" color="#d04140"/><path d="M360.4 165.7L366.4 159.1M357.9 165.2L360.4 165.7M366.4 159.1L364 158.6" class="m" color="#2e0e0e"/><path d="M316 178.9L318.4 178.2L325 170.8L322.7 171.5Z" color="#984a35"/><path d="M316 178.9L318.4 178.2M325 170.8L322.7 171.5" class="m" color="#22100c"/><path d="M334.6 169.7L337 169.8L343.3 163L341 162.9Z" color="#b63b39"/><path d="M334.6 169.7L337 169.8M343.3 163L341 162.9" class="m" color="#280d0d"/><path d="M302.2 190.3L304.5 188.9L311.4 181.1L309.1 182.4Z" color="#8b6034"/><path d="M304.5 188.9L311.4 181.1M302.2 190.3L304.5 188.9M311.4 181.1L309.1 182.4" class="m" color="#1f150b"/><path d="M337 169.8L339.4 170L345.8 163.2L343.3 163Z" color="#bb3c3a"/><path d="M337 169.8L339.4 170M345.8 163.2L343.3 163" class="m" color="#290d0d"/><path d="M318.4 178.2L320.8 177.6L327.4 170.3L325 170.8Z" color="#9d4335"/><path d="M318.4 178.2L320.8 177.6M327.4 170.3L325 170.8" class="m" color="#230f0c"/><path d="M339.4 170L341.8 170.2L348.2 163.4L345.8 163.2Z" color="#c03d3c"/><path d="M341.8 170.2L348.2 163.4M339.4 170L341.8 170.2M348.2 163.4L345.8 163.2" class="m" color="#2a0d0d"/><path d="M304.5 188.9L306.9 187.6L313.7 179.9L311.4 181.1Z" color="#8f5934"/><path d="M311.4 181.1L304.5 188.9M304.5 188.9L306.9 187.6M313.7 179.9L311.4 181.1" class="m" color="#20140b"/><path d="M320.8 177.6L323.2 177.2L329.8 170L327.4 170.3Z" color="#a23d35"/><path d="M323.2 177.2L329.8 170M320.8 177.6L323.2 177.2M329.8 170L327.4 170.3" class="m" color="#240d0c"/><path d="M341.8 170.2L344.3 170.6L350.6 163.8L348.2 163.4Z" color="#c43e3d"/><path d="M348.2 163.4L341.8 170.2M341.8 170.2L344.3 170.6M350.6 163.8L348.2 163.4" class="m" color="#2b0e0d"/><path d="M344.3 170.6L346.7 171L353 164.2L350.6 163.8Z" color="#c83f3d"/><path d="M344.3 170.6L346.7 171M353 164.2L350.6 163.8" class="m" color="#2c0e0e"/><path d="M306.9 187.6L309.2 186.6L316 178.9L313.7 179.9Z" color="#935334"/><path d="M306.9 187.6L309.2 186.6M316 178.9L313.7 179.9" class="m" color="#20120b"/><path d="M323.2 177.2L325.6 176.9L332.2 169.8L329.8 170Z" color="#a73735"/><path d="M329.8 170L323.2 177.2M323.2 177.2L325.6 176.9M332.2 169.8L329.8 170" class="m" color="#250c0c"/><path d="M346.7 171L349.2 171.4L355.5 164.7L353 164.2Z" color="#cb403e"/><path d="M346.7 171L349.2 171.4M355.5 164.7L353 164.2" class="m" color="#2d0e0e"/><path d="M325.6 176.9L328 176.8L334.6 169.7L332.2 169.8Z" color="#ad3837"/><path d="M325.6 176.9L328 176.8M334.6 169.7L332.2 169.8" class="m" color="#260c0c"/><path d="M349.2 171.4L351.7 172L357.9 165.2L355.5 164.7Z" color="#cd403f"/><path d="M349.2 171.4L351.7 172M357.9 165.2L355.5 164.7" class="m" color="#2d0e0e"/><path d="M309.2 186.6L311.6 185.7L318.4 178.2L316 178.9Z" color="#964d35"/><path d="M309.2 186.6L311.6 185.7M318.4 178.2L316 178.9" class="m" color="#21110c"/><path d="M351.7 172L354.1 172.5L360.4 165.7L357.9 165.2Z" color="#cf413f"/><path d="M354.1 172.5L360.4 165.7M351.7 172L354.1 172.5M360.4 165.7L357.9 165.2" class="m" color="#2e0e0e"/><path d="M328 176.8L330.4 176.9L337 169.8L334.6 169.7Z" color="#b33a38"/><path d="M328 176.8L330.4 176.9M337 169.8L334.6 169.7" class="m" color="#270d0c"/><path d="M311.6 185.7L314 185.1L320.8 177.6L318.4 178.2Z" color="#9b4635"/><path d="M311.6 185.7L314 185.1M320.8 177.6L318.4 178.2" class="m" color="#220f0c"/><path d="M330.4 176.9L332.9 177L339.4 170L337 169.8Z" color="#b93b3a"/><path d="M330.4 176.9L332.9 177M339.4 170L337 169.8" class="m" color="#290d0d"/><path d="M332.9 177L335.3 177.3L341.8 170.2L339.4 170Z" color="#be3d3b"/><path d="M335.3 177.3L341.8 170.2M332.9 177L335.3 177.3M341.8 170.2L339.4 170" class="m" color="#2a0d0d"/><path d="M314 185.1L316.4 184.6L323.2 177.2L320.8 177.6Z" color="#a04035"/><path d="M316.4 184.6L323.2 177.2M314 185.1L316.4 184.6M323.2 177.2L320.8 177.6" class="m" color="#230e0c"/><path d="M335.3 177.3L337.8 177.6L344.3 170.6L341.8 170.2Z" color="#c23e3c"/><path d="M341.8 170.2L335.3 177.3M335.3 177.3L337.8 177.6M344.3 170.6L341.8 170.2" class="m" color="#2b0e0d"/><path d="M316.4 184.6L318.8 184.3L325.6 176.9L323.2 177.2Z" color="#a43935"/><path d="M323.2 177.2L316.4 184.6M316.4 184.6L318.8 184.3M325.6 176.9L323.2 177.2" class="m" color="#240d0c"/><path d="M337.8 177.6L340.3 178L346.7 171L344.3 170.6Z" color="#c63e3d"/><path d="M337.8 177.6L340.3 178M346.7 171L344.3 170.6" class="m" color="#2c0e0d"/><path d="M340.3 178L342.8 178.4L349.2 171.4L346.7 171Z" color="#c93f3e"/><path d="M340.3 178L342.8 178.4M349.2 171.4L346.7 171" class="m" color="#2c0e0e"/><path d="M318.8 184.3L321.2 184.2L328 176.8L325.6 176.9Z" color="#aa3836"/><path d="M318.8 184.3L321.2 184.2M328 176.8L325.6 176.9" class="m" color="#250c0c"/><path d="M342.8 178.4L345.3 179L351.7 172L349.2 171.4Z" color="#cc403f"/><path d="M342.8 178.4L345.3 179M351.7 172L349.2 171.4" class="m" color="#2d0e0e"/><path d="M321.2 184.2L323.7 184.2L330.4 176.9L328 176.8Z" color="#b03938"/><path d="M321.2 184.2L323.7 184.2M330.4 176.9L328 176.8" class="m" color="#270d0c"/><path d="M345.3 179L347.8 179.5L354.1 172.5L351.7 172Z" color="#ce403f"/><path d="M347.8 179.5L354.1 172.5M345.3 179L347.8 179.5M354.1 172.5L351.7 172" class="m" color="#2d0e0e"/><path d="M323.7 184.2L326.1 184.3L332.9 177L330.4 176.9Z" color="#b63b39"/><path d="M323.7 184.2L326.1 184.3M332.9 177L330.4 176.9" class="m" color="#280d0d"/><path d="M326.1 184.3L328.6 184.5L335.3 177.3L332.9 177Z" color="#bc3c3a"/><path d="M328.6 184.5L335.3 177.3M326.1 184.3L328.6 184.5M335.3 177.3L332.9 177" class="m" color="#290d0d"/><path d="M328.6 184.5L331.1 184.8L337.8 177.6L335.3 177.3Z" color="#c03d3c"/><path d="M335.3 177.3L328.6 184.5M328.6 184.5L331.1 184.8M337.8 177.6L335.3 177.3" class="m" color="#2a0d0d"/><path d="M331.1 184.8L333.6 185.2L340.3 178L337.8 177.6Z" color="#c43e3d"/><path d="M331.1 184.8L333.6 185.2M340.3 178L337.8 177.6" class="m" color="#2b0e0d"/><path d="M333.6 185.2L336.1 185.7L342.8 178.4L340.3 178Z" color="#c83f3e"/><path d="M333.6 185.2L336.1 185.7M342.8 178.4L340.3 178" class="m" color="#2c0e0e"/><path d="M336.1 185.7L338.6 186.2L345.3 179L342.8 178.4Z" color="#cb403e"/><path d="M336.1 185.7L338.6 186.2M345.3 179L342.8 178.4" class="m" color="#2d0e0e"/><path d="M338.6 186.2L341.2 186.7L347.8 179.5L345.3 179Z" color="#cd403f"/><path d="M341.2 186.7L347.8 179.5M338.6 186.2L341.2 186.7M347.8 179.5L345.3 179" class="m" color="#2d0e0e"/><path d="M341.2 186.7L347.8 179.5L354.1 172.5L360.4 165.7L366.4 159.1L372.3 152.7L378 146.5L383.5 140.4L388.9 134.5L394.1 128.8L399.3 123.2L404.2 117.8L409.1 112.5L413.8 107.4L418.5 102.4L423 97.5L427.4 92.7L460.3 100.4L456.2 105.3L452 110.4L447.7 115.6L443.4 120.9L438.9 126.4L434.2 132L429.5 137.8L424.6 143.7L419.6 149.8L414.4 156.1L409.1 162.5L403.7 169.2L398 176L392.2 183L386.3 190.3L380.1 197.8Z" color="#d84342"/><path d="M341.2 186.7L427.4 92.7M353.9 190L438.2 95.2M366.9 193.8L449.1 97.7M380.1 197.8L460.3 100.4M341.2 186.7L353.9 190L366.9 193.8L380.1 197.8M347.8 179.5L360.4 182.7L373.2 186.4L386.3 190.3M354.1 172.5L366.7 175.7L379.3 179.3L392.2 183M360.4 165.7L372.7 168.8L385.3 172.3L398 176M366.4 159.1L378.6 162.2L391 165.6L403.7 169.2M372.3 152.7L384.4 155.7L396.6 159L409.1 162.5M378 146.5L389.9 149.4L402.1 152.7L414.4 156.1M383.5 140.4L395.4 143.3L407.4 146.5L419.6 149.8M388.9 134.5L400.6 137.4L412.5 140.5L424.6 143.7M394.1 128.8L405.8 131.6L417.5 134.6L429.5 137.8M399.3 123.2L410.8 126L422.4 128.9L434.2 132M404.2 117.8L415.6 120.5L427.2 123.4L438.9 126.4M409.1 112.5L420.4 115.2L431.8 118L443.4 120.9M413.8 107.4L425 110L436.3 112.7L447.7 115.6M418.5 102.4L429.5 104.9L440.7 107.6L452 110.4M423 97.5L433.9 100L445 102.6L456.2 105.3M427.4 92.7L438.2 95.2L449.1 97.7L460.3 100.4" class="m" color="#300f0e"/></g>
<text x="191.3" y="198.1" text-anchor="end" style="font-family:'Liberation Serif', serif;font-size:10.4px;fill:#333">0.0</text>
<text x="188.4" y="184.9" text-anchor="end" style="font-family:'Liberation Serif', serif;font-size:10.4px;fill:#333">0.1</text>
<text x="186.1" y="171.5" text-anchor="end" style="font-family:'Liberation Serif', serif;font-size:10.4px;fill:#333">0.2</text>
<text x="184.2" y="156.8" text-anchor="end" style="font-family:'Liberation Serif', serif;font-size:10.4px;fill:#333">0.3</text>
<text x="181.4" y="142" text-anchor="end" style="font-family:'Liberation Serif', serif;font-size:10.4px;fill:#333">0.4</text>
<text x="195.8" y="210.6" text-anchor="end" style="font-family:'Liberation Serif', serif;font-size:10.4px;fill:#333">&#8722;5</text>
<text x="276.4" y="240.4" text-anchor="middle" style="font-family:'Liberation Serif', serif;font-size:10.4px;fill:#333">0</text>
<text x="370.3" y="273.4" text-anchor="middle" style="font-family:'Liberation Serif', serif;font-size:10.4px;fill:#333">5</text>
<text x="395.7" y="267.8" text-anchor="end" style="font-family:'Liberation Serif', serif;font-size:10.4px;fill:#333">&#8722;5</text>
<text x="428.2" y="209.9" text-anchor="middle" style="font-family:'Liberation Serif', serif;font-size:10.4px;fill:#333">0</text>
<text x="461.5" y="162.8" text-anchor="middle" style="font-family:'Liberation Serif', serif;font-size:10.4px;fill:#333">5</text>
<text x="139.9" y="166" textLength="27.3" lengthAdjust="spacingAndGlyphs" style="font-family:'Liberation Sans', sans-serif;font-size:10.5px;font-weight:bold;fill:#111">u(x,t)</text>
<text x="262.6" y="253" style="font-family:'Liberation Sans', sans-serif;font-size:10.5px;font-weight:bold;fill:#111">x</text>
<text x="439.6" y="215.5" style="font-family:'Liberation Sans', sans-serif;font-size:10.5px;font-weight:bold;fill:#111">t</text>
<defs><linearGradient id="cba" x1="0" y1="0" x2="0" y2="1"><stop offset="0.000" stop-color="#b93938"/><stop offset="0.088" stop-color="#bc3e3c"/><stop offset="0.150" stop-color="#c86446"/><stop offset="0.200" stop-color="#d27d4b"/><stop offset="0.250" stop-color="#d79650"/><stop offset="0.300" stop-color="#dcaf55"/><stop offset="0.350" stop-color="#d7b950"/><stop offset="0.400" stop-color="#c8be50"/><stop offset="0.450" stop-color="#b4b94b"/><stop offset="0.500" stop-color="#9baa48"/><stop offset="0.555" stop-color="#8ca046"/><stop offset="0.605" stop-color="#648c46"/><stop offset="0.670" stop-color="#4b7d4b"/><stop offset="0.725" stop-color="#417355"/><stop offset="0.780" stop-color="#3e6969"/><stop offset="0.835" stop-color="#3c5f7d"/><stop offset="0.883" stop-color="#3a588c"/><stop offset="0.948" stop-color="#395291"/><stop offset="1.000" stop-color="#395092"/></linearGradient></defs>
<rect x="503.2" y="55.8" width="13.699999999999989" height="173.5" fill="url(#cba)"/>
<line x1="517.1999999999999" y1="55.8" x2="517.1999999999999" y2="229.3" stroke="#aaa" stroke-width="0.6"/>
<g stroke="#999" stroke-width="0.7"><line x1="516.9" y1="229.3" x2="520.5" y2="229.3"/><line x1="516.9" y1="220.6" x2="519.1" y2="220.6"/><line x1="516.9" y1="212.0" x2="519.1" y2="212.0"/><line x1="516.9" y1="203.3" x2="519.1" y2="203.3"/><line x1="516.9" y1="194.6" x2="519.1" y2="194.6"/><line x1="516.9" y1="185.9" x2="520.5" y2="185.9"/><line x1="516.9" y1="177.2" x2="519.1" y2="177.2"/><line x1="516.9" y1="168.6" x2="519.1" y2="168.6"/><line x1="516.9" y1="159.9" x2="519.1" y2="159.9"/><line x1="516.9" y1="151.2" x2="519.1" y2="151.2"/><line x1="516.9" y1="142.6" x2="520.5" y2="142.6"/><line x1="516.9" y1="133.9" x2="519.1" y2="133.9"/><line x1="516.9" y1="125.2" x2="519.1" y2="125.2"/><line x1="516.9" y1="116.5" x2="519.1" y2="116.5"/><line x1="516.9" y1="107.9" x2="519.1" y2="107.9"/><line x1="516.9" y1="99.2" x2="520.5" y2="99.2"/><line x1="516.9" y1="90.5" x2="519.1" y2="90.5"/><line x1="516.9" y1="81.8" x2="519.1" y2="81.8"/><line x1="516.9" y1="73.2" x2="519.1" y2="73.2"/><line x1="516.9" y1="64.5" x2="519.1" y2="64.5"/><line x1="516.9" y1="55.8" x2="520.5" y2="55.8"/></g>
<text x="524.3" y="59.1" style="font-family:'Liberation Sans', sans-serif;font-size:9.3px;fill:#6a6f7a">0.4</text>
<text x="524.3" y="102.5" style="font-family:'Liberation Sans', sans-serif;font-size:9.3px;fill:#6a6f7a">0.3</text>
<text x="524.3" y="145.9" style="font-family:'Liberation Sans', sans-serif;font-size:9.3px;fill:#6a6f7a">0.2</text>
<text x="524.3" y="189.2" style="font-family:'Liberation Sans', sans-serif;font-size:9.3px;fill:#6a6f7a">0.1</text>
<text x="524.3" y="232.6" style="font-family:'Liberation Sans', sans-serif;font-size:9.3px;fill:#6a6f7a">0.</text>
<rect x="16" y="316" width="311" height="243" fill="#f6f3ee"/>
<path d="M22.6 518.3L22.6 518.2L24.4 518.2L26.2 518.2L27.9 518.2L29.7 518.2L31.5 518.2L33.2 518.1L35.0 518.1L36.8 518.1L38.6 518.1L40.3 518.1L42.1 518.0L43.9 518.0L45.7 518.0L47.5 518.0L49.2 517.9L51.0 517.9L52.8 517.8L54.5 517.8L56.3 517.7L58.1 517.7L59.9 517.6L61.7 517.6L63.4 517.5L65.2 517.4L67.0 517.3L68.8 517.2L70.5 517.1L72.3 517.0L74.1 516.8L75.8 516.7L77.6 516.5L79.4 516.3L81.2 516.1L83.0 515.9L84.7 515.6L86.5 515.4L88.3 515.1L90.0 514.8L91.8 514.4L93.6 514.0L95.4 513.6L97.1 513.1L98.9 512.6L100.7 512.0L102.5 511.4L104.2 510.7L106.0 510.0L107.8 509.1L109.6 508.3L111.3 507.3L113.1 506.2L114.9 505.1L116.7 503.9L118.4 502.5L120.2 501.1L122.0 499.5L123.8 497.8L125.5 496.0L127.3 494.1L129.1 492.0L130.9 489.8L132.7 487.4L134.4 485.0L136.2 482.3L138.0 479.6L139.8 476.7L141.5 473.6L143.3 470.5L145.1 467.2L146.8 463.8L148.6 460.3L150.4 456.8L152.2 453.2L153.9 449.5L155.7 445.9L157.5 442.2L159.3 438.5L161.0 434.8L162.8 431.2L164.6 427.6L166.4 424.1L168.2 420.7L169.9 417.4L171.7 414.2L173.5 411.1L175.2 408.2L177.0 405.4L178.8 402.7L180.6 400.2L182.3 397.8L184.1 395.5L185.9 393.4L187.7 391.4L189.4 389.6L191.2 387.8L193.0 386.2L194.8 384.7L196.5 383.4L198.3 382.1L200.1 380.9L201.9 379.8L203.6 378.9L205.4 377.9L207.2 377.1L209.0 376.3L210.8 375.6L212.5 375.0L214.3 374.4L216.1 373.9L217.8 373.4L219.6 372.9L221.4 372.5L223.2 372.2L224.9 371.8L226.7 371.5L228.5 371.2L230.3 371.0L232.1 370.8L233.8 370.5L235.6 370.4L237.4 370.2L239.1 370.0L240.9 369.9L242.7 369.8L244.5 369.6L246.2 369.5L248.0 369.4L249.8 369.3L251.6 369.3L253.3 369.2L255.1 369.1L256.9 369.1L258.7 369.0L260.4 369.0L262.2 368.9L264.0 368.9L265.8 368.8L267.5 368.8L269.3 368.8L271.1 368.8L272.9 368.7L274.6 368.7L276.4 368.7L278.2 368.7L280.0 368.7L281.8 368.6L283.5 368.6L285.3 368.6L287.1 368.6L288.9 368.6L290.6 368.6L292.4 368.6L294.2 368.6L295.9 368.6L297.7 368.6L299.5 368.6L301.3 368.5L303.0 368.5L304.8 368.5L306.6 368.5L306.6 518.3Z" fill="#c4efc6"/>
<path d="M22.6 518.3L22.6 518.2L24.4 518.2L26.2 518.2L27.9 518.2L29.7 518.2L31.5 518.2L33.2 518.2L35.0 518.2L36.8 518.2L38.6 518.2L40.3 518.1L42.1 518.1L43.9 518.1L45.7 518.1L47.5 518.1L49.2 518.1L51.0 518.0L52.8 518.0L54.5 518.0L56.3 517.9L58.1 517.9L59.9 517.9L61.7 517.8L63.4 517.8L65.2 517.7L67.0 517.6L68.8 517.6L70.5 517.5L72.3 517.4L74.1 517.3L75.8 517.2L77.6 517.1L79.4 517.0L81.2 516.8L83.0 516.7L84.7 516.5L86.5 516.4L88.3 516.2L90.0 515.9L91.8 515.7L93.6 515.4L95.4 515.1L97.1 514.8L98.9 514.5L100.7 514.1L102.5 513.6L104.2 513.2L106.0 512.7L107.8 512.1L109.6 511.5L111.3 510.8L113.1 510.1L114.9 509.3L116.7 508.4L118.4 507.5L120.2 506.4L122.0 505.3L123.8 504.1L125.5 502.8L127.3 501.3L129.1 499.8L130.9 498.1L132.7 496.3L134.4 494.4L136.2 492.4L138.0 490.2L139.8 487.9L141.5 485.4L143.3 482.8L145.1 480.1L146.8 477.2L148.6 474.2L150.4 471.0L152.2 467.8L153.9 464.4L155.7 461.0L157.5 457.4L159.3 453.8L161.0 450.2L162.8 446.5L164.6 442.8L166.4 439.1L168.2 435.4L169.9 431.8L171.7 428.2L173.5 424.7L175.2 421.3L177.0 418.0L178.8 414.8L180.6 411.7L182.3 408.7L184.1 405.9L185.9 403.2L187.7 400.6L189.4 398.2L191.2 395.9L193.0 393.8L194.8 391.7L196.5 389.9L198.3 388.1L200.1 386.5L201.9 385.0L203.6 383.6L205.4 382.3L207.2 381.1L209.0 380.0L210.8 379.0L212.5 378.1L214.3 377.2L216.1 376.5L217.8 375.8L219.6 375.1L221.4 374.5L223.2 374.0L224.9 373.5L226.7 373.0L228.5 372.6L230.3 372.2L232.1 371.9L233.8 371.6L235.6 371.3L237.4 371.0L239.1 370.8L240.9 370.6L242.7 370.4L244.5 370.2L246.2 370.1L248.0 369.9L249.8 369.8L251.6 369.7L253.3 369.6L255.1 369.5L256.9 369.4L258.7 369.3L260.4 369.2L262.2 369.1L264.0 369.1L265.8 369.0L267.5 369.0L269.3 368.9L271.1 368.9L272.9 368.9L274.6 368.8L276.4 368.8L278.2 368.8L280.0 368.7L281.8 368.7L283.5 368.7L285.3 368.7L287.1 368.7L288.9 368.6L290.6 368.6L292.4 368.6L294.2 368.6L295.9 368.6L297.7 368.6L299.5 368.6L301.3 368.6L303.0 368.6L304.8 368.6L306.6 368.6L306.6 518.3Z" fill="#cdd0a3"/>
<path d="M22.6 518.3L22.6 518.3L24.4 518.3L26.2 518.3L27.9 518.2L29.7 518.2L31.5 518.2L33.2 518.2L35.0 518.2L36.8 518.2L38.6 518.2L40.3 518.2L42.1 518.2L43.9 518.2L45.7 518.2L47.5 518.2L49.2 518.1L51.0 518.1L52.8 518.1L54.5 518.1L56.3 518.1L58.1 518.0L59.9 518.0L61.7 518.0L63.4 517.9L65.2 517.9L67.0 517.9L68.8 517.8L70.5 517.8L72.3 517.7L74.1 517.6L75.8 517.6L77.6 517.5L79.4 517.4L81.2 517.3L83.0 517.2L84.7 517.1L86.5 517.0L88.3 516.9L90.0 516.7L91.8 516.6L93.6 516.4L95.4 516.2L97.1 516.0L98.9 515.7L100.7 515.5L102.5 515.2L104.2 514.9L106.0 514.5L107.8 514.1L109.6 513.7L111.3 513.3L113.1 512.8L114.9 512.2L116.7 511.6L118.4 510.9L120.2 510.2L122.0 509.4L123.8 508.6L125.5 507.6L127.3 506.6L129.1 505.5L130.9 504.3L132.7 503.0L134.4 501.6L136.2 500.1L138.0 498.4L139.8 496.7L141.5 494.8L143.3 492.7L145.1 490.6L146.8 488.3L148.6 485.8L150.4 483.3L152.2 480.5L153.9 477.7L155.7 474.7L157.5 471.6L159.3 468.4L161.0 465.0L162.8 461.6L164.6 458.1L166.4 454.5L168.2 450.8L169.9 447.2L171.7 443.5L173.5 439.8L175.2 436.1L177.0 432.4L178.8 428.9L180.6 425.3L182.3 421.9L184.1 418.5L185.9 415.3L187.7 412.2L189.4 409.2L191.2 406.3L193.0 403.6L194.8 401.0L196.5 398.6L198.3 396.3L200.1 394.1L201.9 392.1L203.6 390.2L205.4 388.4L207.2 386.8L209.0 385.3L210.8 383.8L212.5 382.5L214.3 381.3L216.1 380.2L217.8 379.2L219.6 378.3L221.4 377.4L223.2 376.6L224.9 375.9L226.7 375.2L228.5 374.6L230.3 374.1L232.1 373.5L233.8 373.1L235.6 372.7L237.4 372.3L239.1 371.9L240.9 371.6L242.7 371.3L244.5 371.1L246.2 370.8L248.0 370.6L249.8 370.4L251.6 370.2L253.3 370.1L255.1 369.9L256.9 369.8L258.7 369.7L260.4 369.6L262.2 369.5L264.0 369.4L265.8 369.3L267.5 369.2L269.3 369.2L271.1 369.1L272.9 369.0L274.6 369.0L276.4 368.9L278.2 368.9L280.0 368.9L281.8 368.8L283.5 368.8L285.3 368.8L287.1 368.7L288.9 368.7L290.6 368.7L292.4 368.7L294.2 368.7L295.9 368.6L297.7 368.6L299.5 368.6L301.3 368.6L303.0 368.6L304.8 368.6L306.6 368.6L306.6 518.3Z" fill="#b3ae90"/>
<g stroke="#a8a8a8" stroke-width="0.9"><line x1="16" y1="518.3" x2="312.7" y2="518.3"/><line x1="164.35" y1="360.2" x2="164.35" y2="527"/><line x1="22.6" y1="518.3" x2="22.6" y2="516.1"/><line x1="36.8" y1="518.3" x2="36.8" y2="516.1"/><line x1="51.0" y1="518.3" x2="51.0" y2="514.8"/><line x1="65.2" y1="518.3" x2="65.2" y2="516.1"/><line x1="79.4" y1="518.3" x2="79.4" y2="516.1"/><line x1="93.6" y1="518.3" x2="93.6" y2="516.1"/><line x1="107.8" y1="518.3" x2="107.8" y2="514.8"/><line x1="122.0" y1="518.3" x2="122.0" y2="516.1"/><line x1="136.2" y1="518.3" x2="136.2" y2="516.1"/><line x1="150.4" y1="518.3" x2="150.4" y2="516.1"/><line x1="178.8" y1="518.3" x2="178.8" y2="516.1"/><line x1="193.0" y1="518.3" x2="193.0" y2="516.1"/><line x1="207.2" y1="518.3" x2="207.2" y2="516.1"/><line x1="221.4" y1="518.3" x2="221.4" y2="514.8"/><line x1="235.6" y1="518.3" x2="235.6" y2="516.1"/><line x1="249.8" y1="518.3" x2="249.8" y2="516.1"/><line x1="264.0" y1="518.3" x2="264.0" y2="516.1"/><line x1="278.2" y1="518.3" x2="278.2" y2="514.8"/><line x1="292.4" y1="518.3" x2="292.4" y2="516.1"/><line x1="306.6" y1="518.3" x2="306.6" y2="516.1"/><line x1="164.35" y1="510.8" x2="166.5" y2="510.8"/><line x1="164.35" y1="503.3" x2="166.5" y2="503.3"/><line x1="164.35" y1="495.8" x2="166.5" y2="495.8"/><line x1="164.35" y1="488.3" x2="166.5" y2="488.3"/><line x1="164.35" y1="480.8" x2="167.8" y2="480.8"/><line x1="164.35" y1="473.4" x2="166.5" y2="473.4"/><line x1="164.35" y1="465.9" x2="166.5" y2="465.9"/><line x1="164.35" y1="458.4" x2="166.5" y2="458.4"/><line x1="164.35" y1="450.9" x2="166.5" y2="450.9"/><line x1="164.35" y1="443.4" x2="167.8" y2="443.4"/><line x1="164.35" y1="435.9" x2="166.5" y2="435.9"/><line x1="164.35" y1="428.4" x2="166.5" y2="428.4"/><line x1="164.35" y1="420.9" x2="166.5" y2="420.9"/><line x1="164.35" y1="413.4" x2="166.5" y2="413.4"/><line x1="164.35" y1="405.9" x2="167.8" y2="405.9"/><line x1="164.35" y1="398.5" x2="166.5" y2="398.5"/><line x1="164.35" y1="391.0" x2="166.5" y2="391.0"/><line x1="164.35" y1="383.5" x2="166.5" y2="383.5"/><line x1="164.35" y1="376.0" x2="166.5" y2="376.0"/><line x1="164.35" y1="368.5" x2="167.8" y2="368.5"/></g>
<path d="M22.6 518.3L24.4 518.3L26.2 518.3L27.9 518.2L29.7 518.2L31.5 518.2L33.2 518.2L35.0 518.2L36.8 518.2L38.6 518.2L40.3 518.2L42.1 518.2L43.9 518.2L45.7 518.2L47.5 518.2L49.2 518.1L51.0 518.1L52.8 518.1L54.5 518.1L56.3 518.1L58.1 518.0L59.9 518.0L61.7 518.0L63.4 517.9L65.2 517.9L67.0 517.9L68.8 517.8L70.5 517.8L72.3 517.7L74.1 517.6L75.8 517.6L77.6 517.5L79.4 517.4L81.2 517.3L83.0 517.2L84.7 517.1L86.5 517.0L88.3 516.9L90.0 516.7L91.8 516.6L93.6 516.4L95.4 516.2L97.1 516.0L98.9 515.7L100.7 515.5L102.5 515.2L104.2 514.9L106.0 514.5L107.8 514.1L109.6 513.7L111.3 513.3L113.1 512.8L114.9 512.2L116.7 511.6L118.4 510.9L120.2 510.2L122.0 509.4L123.8 508.6L125.5 507.6L127.3 506.6L129.1 505.5L130.9 504.3L132.7 503.0L134.4 501.6L136.2 500.1L138.0 498.4L139.8 496.7L141.5 494.8L143.3 492.7L145.1 490.6L146.8 488.3L148.6 485.8L150.4 483.3L152.2 480.5L153.9 477.7L155.7 474.7L157.5 471.6L159.3 468.4L161.0 465.0L162.8 461.6L164.6 458.1L166.4 454.5L168.2 450.8L169.9 447.2L171.7 443.5L173.5 439.8L175.2 436.1L177.0 432.4L178.8 428.9L180.6 425.3L182.3 421.9L184.1 418.5L185.9 415.3L187.7 412.2L189.4 409.2L191.2 406.3L193.0 403.6L194.8 401.0L196.5 398.6L198.3 396.3L200.1 394.1L201.9 392.1L203.6 390.2L205.4 388.4L207.2 386.8L209.0 385.3L210.8 383.8L212.5 382.5L214.3 381.3L216.1 380.2L217.8 379.2L219.6 378.3L221.4 377.4L223.2 376.6L224.9 375.9L226.7 375.2L228.5 374.6L230.3 374.1L232.1 373.5L233.8 373.1L235.6 372.7L237.4 372.3L239.1 371.9L240.9 371.6L242.7 371.3L244.5 371.1L246.2 370.8L248.0 370.6L249.8 370.4L251.6 370.2L253.3 370.1L255.1 369.9L256.9 369.8L258.7 369.7L260.4 369.6L262.2 369.5L264.0 369.4L265.8 369.3L267.5 369.2L269.3 369.2L271.1 369.1L272.9 369.0L274.6 369.0L276.4 368.9L278.2 368.9L280.0 368.9L281.8 368.8L283.5 368.8L285.3 368.8L287.1 368.7L288.9 368.7L290.6 368.7L292.4 368.7L294.2 368.7L295.9 368.6L297.7 368.6L299.5 368.6L301.3 368.6L303.0 368.6L304.8 368.6L306.6 368.6" fill="none" stroke="#6e2d78" stroke-width="1.9"/>
<path d="M22.6 518.2L24.4 518.2L26.2 518.2L27.9 518.2L29.7 518.2L31.5 518.2L33.2 518.2L35.0 518.2L36.8 518.2L38.6 518.2L40.3 518.1L42.1 518.1L43.9 518.1L45.7 518.1L47.5 518.1L49.2 518.1L51.0 518.0L52.8 518.0L54.5 518.0L56.3 517.9L58.1 517.9L59.9 517.9L61.7 517.8L63.4 517.8L65.2 517.7L67.0 517.6L68.8 517.6L70.5 517.5L72.3 517.4L74.1 517.3L75.8 517.2L77.6 517.1L79.4 517.0L81.2 516.8L83.0 516.7L84.7 516.5L86.5 516.4L88.3 516.2L90.0 515.9L91.8 515.7L93.6 515.4L95.4 515.1L97.1 514.8L98.9 514.5L100.7 514.1L102.5 513.6L104.2 513.2L106.0 512.7L107.8 512.1L109.6 511.5L111.3 510.8L113.1 510.1L114.9 509.3L116.7 508.4L118.4 507.5L120.2 506.4L122.0 505.3L123.8 504.1L125.5 502.8L127.3 501.3L129.1 499.8L130.9 498.1L132.7 496.3L134.4 494.4L136.2 492.4L138.0 490.2L139.8 487.9L141.5 485.4L143.3 482.8L145.1 480.1L146.8 477.2L148.6 474.2L150.4 471.0L152.2 467.8L153.9 464.4L155.7 461.0L157.5 457.4L159.3 453.8L161.0 450.2L162.8 446.5L164.6 442.8L166.4 439.1L168.2 435.4L169.9 431.8L171.7 428.2L173.5 424.7L175.2 421.3L177.0 418.0L178.8 414.8L180.6 411.7L182.3 408.7L184.1 405.9L185.9 403.2L187.7 400.6L189.4 398.2L191.2 395.9L193.0 393.8L194.8 391.7L196.5 389.9L198.3 388.1L200.1 386.5L201.9 385.0L203.6 383.6L205.4 382.3L207.2 381.1L209.0 380.0L210.8 379.0L212.5 378.1L214.3 377.2L216.1 376.5L217.8 375.8L219.6 375.1L221.4 374.5L223.2 374.0L224.9 373.5L226.7 373.0L228.5 372.6L230.3 372.2L232.1 371.9L233.8 371.6L235.6 371.3L237.4 371.0L239.1 370.8L240.9 370.6L242.7 370.4L244.5 370.2L246.2 370.1L248.0 369.9L249.8 369.8L251.6 369.7L253.3 369.6L255.1 369.5L256.9 369.4L258.7 369.3L260.4 369.2L262.2 369.1L264.0 369.1L265.8 369.0L267.5 369.0L269.3 368.9L271.1 368.9L272.9 368.9L274.6 368.8L276.4 368.8L278.2 368.8L280.0 368.7L281.8 368.7L283.5 368.7L285.3 368.7L287.1 368.7L288.9 368.6L290.6 368.6L292.4 368.6L294.2 368.6L295.9 368.6L297.7 368.6L299.5 368.6L301.3 368.6L303.0 368.6L304.8 368.6L306.6 368.6" fill="none" stroke="#e23c0c" stroke-width="1.9"/>
<path d="M22.6 518.2L24.4 518.2L26.2 518.2L27.9 518.2L29.7 518.2L31.5 518.2L33.2 518.1L35.0 518.1L36.8 518.1L38.6 518.1L40.3 518.1L42.1 518.0L43.9 518.0L45.7 518.0L47.5 518.0L49.2 517.9L51.0 517.9L52.8 517.8L54.5 517.8L56.3 517.7L58.1 517.7L59.9 517.6L61.7 517.6L63.4 517.5L65.2 517.4L67.0 517.3L68.8 517.2L70.5 517.1L72.3 517.0L74.1 516.8L75.8 516.7L77.6 516.5L79.4 516.3L81.2 516.1L83.0 515.9L84.7 515.6L86.5 515.4L88.3 515.1L90.0 514.8L91.8 514.4L93.6 514.0L95.4 513.6L97.1 513.1L98.9 512.6L100.7 512.0L102.5 511.4L104.2 510.7L106.0 510.0L107.8 509.1L109.6 508.3L111.3 507.3L113.1 506.2L114.9 505.1L116.7 503.9L118.4 502.5L120.2 501.1L122.0 499.5L123.8 497.8L125.5 496.0L127.3 494.1L129.1 492.0L130.9 489.8L132.7 487.4L134.4 485.0L136.2 482.3L138.0 479.6L139.8 476.7L141.5 473.6L143.3 470.5L145.1 467.2L146.8 463.8L148.6 460.3L150.4 456.8L152.2 453.2L153.9 449.5L155.7 445.9L157.5 442.2L159.3 438.5L161.0 434.8L162.8 431.2L164.6 427.6L166.4 424.1L168.2 420.7L169.9 417.4L171.7 414.2L173.5 411.1L175.2 408.2L177.0 405.4L178.8 402.7L180.6 400.2L182.3 397.8L184.1 395.5L185.9 393.4L187.7 391.4L189.4 389.6L191.2 387.8L193.0 386.2L194.8 384.7L196.5 383.4L198.3 382.1L200.1 380.9L201.9 379.8L203.6 378.9L205.4 377.9L207.2 377.1L209.0 376.3L210.8 375.6L212.5 375.0L214.3 374.4L216.1 373.9L217.8 373.4L219.6 372.9L221.4 372.5L223.2 372.2L224.9 371.8L226.7 371.5L228.5 371.2L230.3 371.0L232.1 370.8L233.8 370.5L235.6 370.4L237.4 370.2L239.1 370.0L240.9 369.9L242.7 369.8L244.5 369.6L246.2 369.5L248.0 369.4L249.8 369.3L251.6 369.3L253.3 369.2L255.1 369.1L256.9 369.1L258.7 369.0L260.4 369.0L262.2 368.9L264.0 368.9L265.8 368.8L267.5 368.8L269.3 368.8L271.1 368.8L272.9 368.7L274.6 368.7L276.4 368.7L278.2 368.7L280.0 368.7L281.8 368.6L283.5 368.6L285.3 368.6L287.1 368.6L288.9 368.6L290.6 368.6L292.4 368.6L294.2 368.6L295.9 368.6L297.7 368.6L299.5 368.6L301.3 368.5L303.0 368.5L304.8 368.5L306.6 368.5" fill="none" stroke="#18f018" stroke-width="1.9"/>
<text x="161.2" y="484.0" text-anchor="end" style="font-family:'Liberation Sans', sans-serif;font-size:9px;fill:#222">0.1</text>
<text x="161.2" y="446.6" text-anchor="end" style="font-family:'Liberation Sans', sans-serif;font-size:9px;fill:#222">0.2</text>
<text x="161.2" y="409.1" text-anchor="end" style="font-family:'Liberation Sans', sans-serif;font-size:9px;fill:#222">0.3</text>
<text x="161.2" y="371.7" text-anchor="end" style="font-family:'Liberation Sans', sans-serif;font-size:9px;fill:#222">0.4</text>
<text x="50.6" y="527.9" text-anchor="middle" style="font-family:'Liberation Sans', sans-serif;font-size:9px;fill:#222">&#8722;4</text>
<text x="107.4" y="527.9" text-anchor="middle" style="font-family:'Liberation Sans', sans-serif;font-size:9px;fill:#222">&#8722;2</text>
<text x="221.4" y="527.9" text-anchor="middle" style="font-family:'Liberation Sans', sans-serif;font-size:9px;fill:#222">2</text>
<text x="278.2" y="527.9" text-anchor="middle" style="font-family:'Liberation Sans', sans-serif;font-size:9px;fill:#222">4</text>
<text x="164.4" y="353.4" text-anchor="middle" style="font-family:'Liberation Sans', sans-serif;font-size:10.5px;font-weight:bold;fill:#111">t</text>
<text x="322.7" y="523" text-anchor="middle" style="font-family:'Liberation Sans', sans-serif;font-size:10.5px;font-weight:bold;fill:#111">x</text>
<rect x="253.2" y="398" width="60" height="58.8" fill="#f6f3ee"/>
<line x1="258.2" y1="407.8" x2="277.9" y2="407.8" stroke="#801490" stroke-width="1.8"/>
<text x="284.1" y="412.2" style="font-family:'Liberation Sans', sans-serif;font-size:9.9px;fill:#222">t=&#8722;3</text>
<line x1="258.2" y1="426.8" x2="277.9" y2="426.8" stroke="#ff1010" stroke-width="1.8"/>
<text x="284.1" y="431.2" style="font-family:'Liberation Sans', sans-serif;font-size:9.9px;fill:#222">t=0</text>
<line x1="258.2" y1="445.8" x2="277.9" y2="445.8" stroke="#18ff1e" stroke-width="1.8"/>
<text x="284.1" y="450.2" style="font-family:'Liberation Sans', sans-serif;font-size:9.9px;fill:#222">t=3</text>
<rect x="360.2" y="320.8" width="257" height="233" fill="#fef0e2"/>
<rect x="406.7" y="320.8" width="191.8" height="203.1" fill="#fff4e9" stroke="#c8c2bc" stroke-width="1"/>
<path d="M411.6 325L471.6 325L487.5 519.8L411.6 519.8Z" fill="#800080" stroke="#800080" stroke-width="0.4"/><path d="M471.6 325L481.4 325L497.3 519.8L487.5 519.8Z" fill="#a02082" stroke="#a02082" stroke-width="0.4"/><path d="M481.4 325L488.2 325L504.1 519.8L497.3 519.8Z" fill="#bb3c82" stroke="#bb3c82" stroke-width="0.4"/><path d="M488.2 325L494.1 325L510 519.8L504.1 519.8Z" fill="#d65487" stroke="#d65487" stroke-width="0.4"/><path d="M494.1 325L500 325L515.9 519.8L510 519.8Z" fill="#ef7287" stroke="#ef7287" stroke-width="0.4"/><path d="M500 325L506.8 325L522.7 519.8L515.9 519.8Z" fill="#f97c73" stroke="#f97c73" stroke-width="0.4"/><path d="M506.8 325L516.6 325L532.5 519.8L522.7 519.8Z" fill="#fb7f5c" stroke="#fb7f5c" stroke-width="0.4"/><path d="M516.6 325L557.6 325L573.5 519.8L532.5 519.8Z" fill="#fc803f" stroke="#fc803f" stroke-width="0.4"/><path d="M557.6 325L594.2 325L594.2 519.8L573.5 519.8Z" fill="#fd822d" stroke="#fd822d" stroke-width="0.4"/>
<g stroke="#000" stroke-opacity="0.55" stroke-width="0.8"><line x1="471.6" y1="325.0" x2="487.5" y2="519.8"/><line x1="481.4" y1="325.0" x2="497.3" y2="519.8"/><line x1="488.2" y1="325.0" x2="504.1" y2="519.8"/><line x1="494.1" y1="325.0" x2="510.0" y2="519.8"/><line x1="500.0" y1="325.0" x2="515.9" y2="519.8"/><line x1="506.8" y1="325.0" x2="522.7" y2="519.8"/><line x1="516.6" y1="325.0" x2="532.5" y2="519.8"/><line x1="557.6" y1="325.0" x2="573.5" y2="519.8"/></g>
<g stroke="#8a8a8a" stroke-width="0.7"><line x1="411.6" y1="523.9" x2="411.6" y2="521.9"/><line x1="411.6" y1="320.8" x2="411.6" y2="322.8"/><line x1="406.7" y1="519.8" x2="408.7" y2="519.8"/><line x1="598.5" y1="519.8" x2="596.5" y2="519.8"/><line x1="420.7" y1="523.9" x2="420.7" y2="521.9"/><line x1="420.7" y1="320.8" x2="420.7" y2="322.8"/><line x1="406.7" y1="510.1" x2="408.7" y2="510.1"/><line x1="598.5" y1="510.1" x2="596.5" y2="510.1"/><line x1="429.9" y1="523.9" x2="429.9" y2="520.4"/><line x1="429.9" y1="320.8" x2="429.9" y2="324.3"/><line x1="406.7" y1="500.3" x2="410.2" y2="500.3"/><line x1="598.5" y1="500.3" x2="595.0" y2="500.3"/><line x1="439.0" y1="523.9" x2="439.0" y2="521.9"/><line x1="439.0" y1="320.8" x2="439.0" y2="322.8"/><line x1="406.7" y1="490.6" x2="408.7" y2="490.6"/><line x1="598.5" y1="490.6" x2="596.5" y2="490.6"/><line x1="448.1" y1="523.9" x2="448.1" y2="521.9"/><line x1="448.1" y1="320.8" x2="448.1" y2="322.8"/><line x1="406.7" y1="480.8" x2="408.7" y2="480.8"/><line x1="598.5" y1="480.8" x2="596.5" y2="480.8"/><line x1="457.2" y1="523.9" x2="457.2" y2="521.9"/><line x1="457.2" y1="320.8" x2="457.2" y2="322.8"/><line x1="406.7" y1="471.1" x2="408.7" y2="471.1"/><line x1="598.5" y1="471.1" x2="596.5" y2="471.1"/><line x1="466.4" y1="523.9" x2="466.4" y2="520.4"/><line x1="466.4" y1="320.8" x2="466.4" y2="324.3"/><line x1="406.7" y1="461.4" x2="410.2" y2="461.4"/><line x1="598.5" y1="461.4" x2="595.0" y2="461.4"/><line x1="475.5" y1="523.9" x2="475.5" y2="521.9"/><line x1="475.5" y1="320.8" x2="475.5" y2="322.8"/><line x1="406.7" y1="451.6" x2="408.7" y2="451.6"/><line x1="598.5" y1="451.6" x2="596.5" y2="451.6"/><line x1="484.6" y1="523.9" x2="484.6" y2="521.9"/><line x1="484.6" y1="320.8" x2="484.6" y2="322.8"/><line x1="406.7" y1="441.9" x2="408.7" y2="441.9"/><line x1="598.5" y1="441.9" x2="596.5" y2="441.9"/><line x1="493.8" y1="523.9" x2="493.8" y2="521.9"/><line x1="493.8" y1="320.8" x2="493.8" y2="322.8"/><line x1="406.7" y1="432.1" x2="408.7" y2="432.1"/><line x1="598.5" y1="432.1" x2="596.5" y2="432.1"/><line x1="502.9" y1="523.9" x2="502.9" y2="520.4"/><line x1="502.9" y1="320.8" x2="502.9" y2="324.3"/><line x1="406.7" y1="422.4" x2="410.2" y2="422.4"/><line x1="598.5" y1="422.4" x2="595.0" y2="422.4"/><line x1="512.0" y1="523.9" x2="512.0" y2="521.9"/><line x1="512.0" y1="320.8" x2="512.0" y2="322.8"/><line x1="406.7" y1="412.7" x2="408.7" y2="412.7"/><line x1="598.5" y1="412.7" x2="596.5" y2="412.7"/><line x1="521.2" y1="523.9" x2="521.2" y2="521.9"/><line x1="521.2" y1="320.8" x2="521.2" y2="322.8"/><line x1="406.7" y1="402.9" x2="408.7" y2="402.9"/><line x1="598.5" y1="402.9" x2="596.5" y2="402.9"/><line x1="530.3" y1="523.9" x2="530.3" y2="521.9"/><line x1="530.3" y1="320.8" x2="530.3" y2="322.8"/><line x1="406.7" y1="393.2" x2="408.7" y2="393.2"/><line x1="598.5" y1="393.2" x2="596.5" y2="393.2"/><line x1="539.4" y1="523.9" x2="539.4" y2="520.4"/><line x1="539.4" y1="320.8" x2="539.4" y2="324.3"/><line x1="406.7" y1="383.4" x2="410.2" y2="383.4"/><line x1="598.5" y1="383.4" x2="595.0" y2="383.4"/><line x1="548.5" y1="523.9" x2="548.5" y2="521.9"/><line x1="548.5" y1="320.8" x2="548.5" y2="322.8"/><line x1="406.7" y1="373.7" x2="408.7" y2="373.7"/><line x1="598.5" y1="373.7" x2="596.5" y2="373.7"/><line x1="557.7" y1="523.9" x2="557.7" y2="521.9"/><line x1="557.7" y1="320.8" x2="557.7" y2="322.8"/><line x1="406.7" y1="364.0" x2="408.7" y2="364.0"/><line x1="598.5" y1="364.0" x2="596.5" y2="364.0"/><line x1="566.8" y1="523.9" x2="566.8" y2="521.9"/><line x1="566.8" y1="320.8" x2="566.8" y2="322.8"/><line x1="406.7" y1="354.2" x2="408.7" y2="354.2"/><line x1="598.5" y1="354.2" x2="596.5" y2="354.2"/><line x1="575.9" y1="523.9" x2="575.9" y2="520.4"/><line x1="575.9" y1="320.8" x2="575.9" y2="324.3"/><line x1="406.7" y1="344.5" x2="410.2" y2="344.5"/><line x1="598.5" y1="344.5" x2="595.0" y2="344.5"/><line x1="585.1" y1="523.9" x2="585.1" y2="521.9"/><line x1="585.1" y1="320.8" x2="585.1" y2="322.8"/><line x1="406.7" y1="334.7" x2="408.7" y2="334.7"/><line x1="598.5" y1="334.7" x2="596.5" y2="334.7"/><line x1="594.2" y1="523.9" x2="594.2" y2="521.9"/><line x1="594.2" y1="320.8" x2="594.2" y2="322.8"/><line x1="406.7" y1="325.0" x2="408.7" y2="325.0"/><line x1="598.5" y1="325.0" x2="596.5" y2="325.0"/></g>
<text x="429.5" y="533" text-anchor="middle" style="font-family:'Liberation Sans', sans-serif;font-size:8px;fill:#6f6f6f">&#8722;4</text>
<text x="404.5" y="503.2" text-anchor="end" style="font-family:'Liberation Sans', sans-serif;font-size:8px;fill:#6f6f6f">&#8722;4</text>
<text x="466.0" y="533" text-anchor="middle" style="font-family:'Liberation Sans', sans-serif;font-size:8px;fill:#6f6f6f">&#8722;2</text>
<text x="404.5" y="464.3" text-anchor="end" style="font-family:'Liberation Sans', sans-serif;font-size:8px;fill:#6f6f6f">&#8722;2</text>
<text x="502.9" y="533" text-anchor="middle" style="font-family:'Liberation Sans', sans-serif;font-size:8px;fill:#6f6f6f">0</text>
<text x="404.5" y="425.3" text-anchor="end" style="font-family:'Liberation Sans', sans-serif;font-size:8px;fill:#6f6f6f">0</text>
<text x="539.4" y="533" text-anchor="middle" style="font-family:'Liberation Sans', sans-serif;font-size:8px;fill:#6f6f6f">2</text>
<text x="404.5" y="386.3" text-anchor="end" style="font-family:'Liberation Sans', sans-serif;font-size:8px;fill:#6f6f6f">2</text>
<text x="575.9" y="533" text-anchor="middle" style="font-family:'Liberation Sans', sans-serif;font-size:8px;fill:#6f6f6f">4</text>
<text x="404.5" y="347.4" text-anchor="end" style="font-family:'Liberation Sans', sans-serif;font-size:8px;fill:#6f6f6f">4</text>
<text x="502" y="549.5" text-anchor="middle" style="font-family:'Liberation Serif', serif;font-size:10px;font-weight:bold;font-style:italic;fill:#111">x</text>
<text transform="translate(387.5 421.9) rotate(-90)" text-anchor="middle" style="font-family:'Liberation Serif', serif;font-size:10px;font-weight:bold;font-style:italic;fill:#111">t</text>
<rect x="628.0" y="512.8" width="10.1" height="23.8" fill="#800080"/>
<rect x="628.0" y="489.4" width="10.1" height="23.8" fill="#a02082"/>
<rect x="628.0" y="465.9" width="10.1" height="23.8" fill="#bb3c82"/>
<rect x="628.0" y="442.4" width="10.1" height="23.8" fill="#d65487"/>
<rect x="628.0" y="419.0" width="10.1" height="23.8" fill="#ef7287"/>
<rect x="628.0" y="395.5" width="10.1" height="23.8" fill="#f97c73"/>
<rect x="628.0" y="372.0" width="10.1" height="23.8" fill="#fb7f5c"/>
<rect x="628.0" y="348.6" width="10.1" height="23.8" fill="#fc803f"/>
<rect x="628.0" y="325.1" width="10.1" height="23.8" fill="#fd822d"/>
<g stroke="#000" stroke-opacity="0.45" stroke-width="1"><line x1="628.0" y1="512.8" x2="638.1" y2="512.8"/><line x1="628.0" y1="489.4" x2="638.1" y2="489.4"/><line x1="628.0" y1="465.9" x2="638.1" y2="465.9"/><line x1="628.0" y1="442.4" x2="638.1" y2="442.4"/><line x1="628.0" y1="419.0" x2="638.1" y2="419.0"/><line x1="628.0" y1="395.5" x2="638.1" y2="395.5"/><line x1="628.0" y1="372.0" x2="638.1" y2="372.0"/><line x1="628.0" y1="348.6" x2="638.1" y2="348.6"/></g>
<line x1="638.4" y1="325.1" x2="638.4" y2="536.3" stroke="#bbb" stroke-width="0.6"/>
<g stroke="#999" stroke-width="0.7"><line x1="638.1" y1="512.8" x2="641.9" y2="512.8"/><line x1="638.1" y1="489.4" x2="641.9" y2="489.4"/><line x1="638.1" y1="465.9" x2="641.9" y2="465.9"/><line x1="638.1" y1="442.4" x2="641.9" y2="442.4"/><line x1="638.1" y1="419.0" x2="641.9" y2="419.0"/><line x1="638.1" y1="395.5" x2="641.9" y2="395.5"/><line x1="638.1" y1="372.0" x2="641.9" y2="372.0"/><line x1="638.1" y1="348.6" x2="641.9" y2="348.6"/></g>
<text x="643.7" y="515.8" textLength="14.3" lengthAdjust="spacingAndGlyphs" style="font-family:'Liberation Sans', sans-serif;font-size:8.6px;fill:#707070">0.05</text>
<text x="643.7" y="492.4" textLength="14.3" lengthAdjust="spacingAndGlyphs" style="font-family:'Liberation Sans', sans-serif;font-size:8.6px;fill:#707070">0.10</text>
<text x="643.7" y="468.9" textLength="14.3" lengthAdjust="spacingAndGlyphs" style="font-family:'Liberation Sans', sans-serif;font-size:8.6px;fill:#707070">0.15</text>
<text x="643.7" y="445.4" textLength="14.3" lengthAdjust="spacingAndGlyphs" style="font-family:'Liberation Sans', sans-serif;font-size:8.6px;fill:#707070">0.20</text>
<text x="643.7" y="422.0" textLength="14.3" lengthAdjust="spacingAndGlyphs" style="font-family:'Liberation Sans', sans-serif;font-size:8.6px;fill:#707070">0.25</text>
<text x="643.7" y="398.5" textLength="14.3" lengthAdjust="spacingAndGlyphs" style="font-family:'Liberation Sans', sans-serif;font-size:8.6px;fill:#707070">0.30</text>
<text x="643.7" y="375.0" textLength="14.3" lengthAdjust="spacingAndGlyphs" style="font-family:'Liberation Sans', sans-serif;font-size:8.6px;fill:#707070">0.35</text>
<text x="643.7" y="351.6" textLength="14.3" lengthAdjust="spacingAndGlyphs" style="font-family:'Liberation Sans', sans-serif;font-size:8.6px;fill:#707070">0.40</text>
<text x="314.7" y="298.8" style="font-family:'Liberation Serif', serif;font-size:11px;fill:#000;stroke:#000;stroke-width:0.15">(a)</text>
<text x="332.3" y="298.8" style="font-family:'Liberation Serif', serif;font-size:11px;fill:#000;stroke:#000;stroke-width:0.15">3</text>
<text x="337.8" y="298.8" textLength="9.6" lengthAdjust="spacingAndGlyphs" style="font-family:'Liberation Serif', serif;font-size:11px;fill:#000;stroke:#000;stroke-width:0.15;font-style:italic">D</text>
<text x="352.2" y="298.8" style="font-family:'Liberation Serif', serif;font-size:11px;fill:#000;stroke:#000;stroke-width:0.15">Plot</text>
<text x="114.0" y="566.8" style="font-family:'Liberation Serif', serif;font-size:11px;fill:#000;stroke:#000;stroke-width:0.15">(b)</text>
<text x="132.3" y="566.8" style="font-family:'Liberation Serif', serif;font-size:11px;fill:#000;stroke:#000;stroke-width:0.15">2</text>
<text x="137.8" y="566.8" textLength="9.6" lengthAdjust="spacingAndGlyphs" style="font-family:'Liberation Serif', serif;font-size:11px;fill:#000;stroke:#000;stroke-width:0.15;font-style:italic">D</text>
<text x="152" y="566.8" style="font-family:'Liberation Serif', serif;font-size:11px;fill:#000;stroke:#000;stroke-width:0.15">plot</text>
<text x="172" y="566.8" style="font-family:'Liberation Serif', serif;font-size:11px;fill:#000;stroke:#000;stroke-width:0.15">for</text>
<text x="188.1" y="566.8" style="font-family:'Liberation Serif', serif;font-size:11px;fill:#000;stroke:#000;stroke-width:0.15">varying</text>
<text x="226.2" y="566.8" style="font-family:'Liberation Serif', serif;font-size:11px;fill:#000;stroke:#000;stroke-width:0.15">t</text>
<text x="476" y="566.8" style="font-family:'Liberation Serif', serif;font-size:11px;fill:#000;stroke:#000;stroke-width:0.15">(c)</text>
<text x="493" y="566.8" style="font-family:'Liberation Serif', serif;font-size:11px;fill:#000;stroke:#000;stroke-width:0.15">Contour</text>
<text x="533.3" y="566.8" style="font-family:'Liberation Serif', serif;font-size:11px;fill:#000;stroke:#000;stroke-width:0.15">Plot</text>
</svg>
</body></html>
